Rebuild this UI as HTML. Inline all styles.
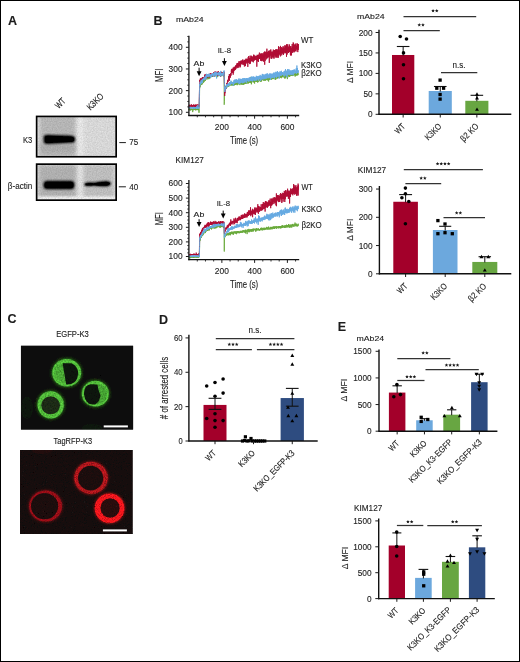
<!DOCTYPE html>
<html><head><meta charset="utf-8"><style>
html,body{margin:0;padding:0;background:#fff;}
body{width:520px;height:662px;overflow:hidden;}
.frame{position:absolute;left:0;top:0;width:518px;height:660px;border:1px solid #000;}
svg{position:absolute;left:0;top:0;will-change:transform;}
text{font-family:"Liberation Sans", sans-serif;fill:#1c1c1c;stroke:#1c1c1c;stroke-width:0.12px;}
</style></head><body>
<svg width="520" height="662" viewBox="0 0 520 662">
<text x="8.00" y="25.40" font-size="12.5" font-weight="bold" fill="#000">A</text>
<text x="153.40" y="25.30" font-size="12.5" font-weight="bold" fill="#000">B</text>
<text x="7.40" y="323.40" font-size="12.5" font-weight="bold" fill="#000">C</text>
<text x="159.10" y="323.70" font-size="12.5" font-weight="bold" fill="#000">D</text>
<text x="337.80" y="330.80" font-size="12.5" font-weight="bold" fill="#000">E</text>
<defs>
<filter id="bl1" x="-20%" y="-50%" width="140%" height="200%"><feGaussianBlur stdDeviation="1.1"/></filter>
<filter id="bl2" x="-20%" y="-20%" width="140%" height="140%"><feGaussianBlur stdDeviation="2.2"/></filter>
<filter id="bl05" x="-20%" y="-20%" width="140%" height="140%"><feGaussianBlur stdDeviation="0.55"/></filter>
<filter id="bl08" x="-20%" y="-20%" width="140%" height="140%"><feGaussianBlur stdDeviation="0.8"/></filter>
<filter id="grain" x="0" y="0" width="100%" height="100%"><feTurbulence type="fractalNoise" baseFrequency="0.9" numOctaves="2" seed="3"/><feColorMatrix type="matrix" values="0 0 0 0 0.5  0 0 0 0 0.5  0 0 0 0 0.5  0 0 0 0.35 0"/><feComposite in2="SourceGraphic" operator="in"/></filter>
<filter id="texB" x="0" y="0" width="1" height="1">
 <feTurbulence type="fractalNoise" baseFrequency="0.8" numOctaves="2" seed="12" result="n"/>
 <feColorMatrix in="n" type="matrix" values="1 0 0 0 0  1 0 0 0 0  1 0 0 0 0  0 0 0 0 1" result="n2"/>
 <feComposite in="SourceGraphic" in2="n2" operator="arithmetic" k1="0.45" k2="0.78" k3="0" k4="0"/>
</filter>
<clipPath id="blot1"><rect x="37.5" y="117.3" width="77.8" height="38.5"/></clipPath>
<clipPath id="blot2"><rect x="37.5" y="165" width="77.8" height="34.3"/></clipPath>
<linearGradient id="lane1" x1="0" y1="0" x2="0" y2="1"><stop offset="0" stop-color="#d2d2d2"/><stop offset="0.5" stop-color="#bdbdbd"/><stop offset="1" stop-color="#c9c9c9"/></linearGradient>
</defs>
<g clip-path="url(#blot1)"><g filter="url(#texB)">
<rect x="37.00" y="117.00" width="79.00" height="39.00" fill="#e6e6e6"/>
<rect x="39" y="114" width="37" height="46" fill="#b4b4b4" filter="url(#bl2)"/>
<rect x="40" y="144" width="35" height="8" fill="#a8a8a8" filter="url(#bl2)"/>
<rect x="83" y="114" width="34" height="46" fill="#d6d6d6" filter="url(#bl2)"/>
<path d="M43.6 136.5 Q44 134.6 48 134.8 L70 135.6 Q75 135.8 75.2 138.5 L75.2 140.5 Q75 143 70 142.8 L48 144 Q44 144.2 43.6 141.8Z" fill="#000" filter="url(#bl1)"/>
<path d="M45 137 Q45.5 135.8 48 135.8 L70 136.4 Q74 136.6 74 138.8 L74 140.3 Q74 142 70 142 L48 143 Q45.5 143.1 45 141.5Z" fill="#000"/>
</g></g>
<rect x="36.65" y="116.45" width="79.5" height="40.3" fill="none" stroke="#000" stroke-width="1.7"/>
<g clip-path="url(#blot2)"><g filter="url(#texB)">
<rect x="37.00" y="164.00" width="79.00" height="37.00" fill="#e4e4e4"/>
<rect x="38" y="164" width="39" height="35" fill="#aeaeae" filter="url(#bl2)"/>
<rect x="83" y="164" width="32" height="35" fill="#bcbcbc" filter="url(#bl2)"/>
<rect x="37" y="196.5" width="79" height="4" fill="#ececec" filter="url(#bl08)"/>
<rect x="43.5" y="180.8" width="31" height="8.4" rx="3.5" fill="#000" filter="url(#bl1)"/>
<rect x="44.5" y="181.8" width="29" height="6.4" rx="3" fill="#000"/>
<path d="M84.3 183.4 Q88 181.8 94 182.6 Q100 181.1 106 180.9 Q110.5 181.2 111 183.4 Q110.6 186 106 186.5 Q100 186.8 94 185.8 Q88 186.8 84.3 185.6Z" fill="#000" filter="url(#bl1)"/>
<path d="M85.5 183.6 Q89 182.6 94 183.2 Q100 182 106 181.8 Q109.6 182 110 183.6 Q109.6 185.4 106 185.8 Q100 185.9 94 185.2 Q89 185.8 85.5 185.2Z" fill="#000"/>
</g></g>
<rect x="36.65" y="164.15" width="79.5" height="36" fill="none" stroke="#000" stroke-width="1.7"/>
<text x="58.70" y="109.30" font-size="9.29" transform="rotate(-45 58.70 109.30)" textLength="10.8" lengthAdjust="spacingAndGlyphs">WT</text>
<text x="90.40" y="110.70" font-size="9.29" transform="rotate(-45 90.40 110.70)" textLength="19.6" lengthAdjust="spacingAndGlyphs">K3KO</text>
<text x="23.00" y="143.30" font-size="9.72" textLength="9.3" lengthAdjust="spacingAndGlyphs">K3</text>
<text x="7.80" y="189.00" font-size="9.72" textLength="24.4" lengthAdjust="spacingAndGlyphs">β-actin</text>
<line x1="119.30" y1="142.60" x2="125.90" y2="142.60" stroke="#1c1c1c" stroke-width="1.0"/>
<text x="129.30" y="145.30" font-size="9.29" textLength="9.0" lengthAdjust="spacingAndGlyphs">75</text>
<line x1="118.80" y1="186.80" x2="125.90" y2="186.80" stroke="#1c1c1c" stroke-width="1.0"/>
<text x="129.30" y="189.90" font-size="9.29" textLength="9.0" lengthAdjust="spacingAndGlyphs">40</text>
<polyline points="189.1,110.1 189.2,109.3 189.3,110.2 189.4,109.5 189.5,110.1 189.6,110.2 189.6,108.7 189.7,109.0 189.8,108.1 189.9,109.6 190.0,109.4 190.1,109.4 190.2,109.3 190.3,109.1 190.4,110.4 190.5,109.1 190.5,110.2 190.6,109.5 190.7,107.8 190.8,109.5 190.9,109.6 191.0,109.1 191.1,109.4 191.2,110.0 191.3,110.0 191.4,109.7 191.4,110.1 191.5,108.9 191.6,109.2 191.7,108.7 191.8,109.0 191.9,109.4 192.0,109.5 192.1,109.6 192.2,109.6 192.3,109.8 192.3,109.4 192.4,110.0 192.5,109.5 192.6,109.5 192.7,112.1 192.8,110.5 192.9,109.6 193.0,109.7 193.1,109.5 193.2,108.6 193.2,109.3 193.3,109.4 193.4,109.9 193.5,109.8 193.6,110.2 193.7,109.4 193.8,108.8 193.9,108.5 194.0,109.2 194.1,108.7 194.1,108.5 194.2,109.8 194.3,109.4 194.4,109.4 194.5,109.6 194.6,109.9 194.7,109.6 194.8,109.2 194.9,109.4 195.0,108.8 195.0,109.7 195.1,107.2 195.2,109.5 195.3,109.3 195.4,109.3 195.5,109.5 195.6,109.9 195.7,108.7 195.8,110.5 195.9,110.1 195.9,109.5 196.0,109.4 196.1,109.1 196.2,109.3 196.3,110.0 196.4,109.3 196.5,109.5 196.6,109.8 196.7,109.0 196.8,109.2 196.8,109.4 196.9,108.4 197.0,109.3 197.1,109.5 197.2,109.5 197.3,108.9 197.4,109.7 197.5,110.0 197.6,110.1 197.7,109.6 197.7,108.2 197.8,109.3 197.9,109.8 198.0,110.0 198.1,109.0 198.2,108.9 198.3,110.1 198.4,108.5 198.5,109.8 198.6,109.3 198.6,109.5 198.7,109.8 198.8,112.0 198.9,112.5 199.0,112.1 199.1,112.5 199.2,112.1 199.3,108.2 199.4,101.5 199.5,96.7 199.6,90.3 199.6,88.9 199.7,86.7 199.8,87.5 199.9,86.8 200.0,85.7 200.1,86.8 200.2,86.8 200.3,86.1 200.4,84.2 200.5,85.2 200.5,85.1 200.6,85.4 200.7,84.8 200.8,84.9 200.9,83.3 201.0,83.9 201.1,84.2 201.2,83.3 201.3,84.4 201.4,83.1 201.4,84.9 201.5,83.0 201.6,84.0 201.7,83.3 201.8,83.3 201.9,84.7 202.0,83.0 202.1,82.4 202.2,82.7 202.3,82.1 202.3,82.6 202.4,81.7 202.5,81.8 202.6,83.6 202.7,80.5 202.8,82.4 202.9,81.4 203.0,81.0 203.1,82.1 203.2,82.1 203.2,83.0 203.3,80.3 203.4,81.6 203.5,80.1 203.6,81.6 203.7,81.8 203.8,80.2 203.9,80.0 204.0,79.5 204.1,81.4 204.1,82.1 204.2,80.3 204.3,79.6 204.4,80.9 204.5,78.5 204.6,78.8 204.7,79.9 204.8,80.6 204.9,79.9 205.0,80.3 205.0,79.6 205.1,79.4 205.2,78.3 205.3,78.4 205.4,80.8 205.5,78.6 205.6,77.8 205.7,78.8 205.8,79.0 205.9,79.0 205.9,79.4 206.0,77.5 206.1,77.7 206.2,78.5 206.3,77.8 206.4,79.0 206.5,77.6 206.6,77.9 206.7,77.0 206.8,77.4 206.8,79.0 206.9,78.1 207.0,79.5 207.1,78.6 207.2,76.0 207.3,77.4 207.4,78.0 207.5,77.7 207.6,77.2 207.7,77.4 207.7,77.9 207.8,76.9 207.9,77.3 208.0,76.9 208.1,77.4 208.2,78.6 208.3,77.2 208.4,77.0 208.5,77.0 208.6,77.5 208.6,77.3 208.7,75.6 208.8,79.2 208.9,75.0 209.0,76.1 209.1,77.3 209.2,75.9 209.3,76.9 209.4,76.8 209.5,76.3 209.6,75.8 209.6,76.5 209.7,78.5 209.8,77.0 209.9,78.2 210.0,77.3 210.1,77.1 210.2,76.5 210.3,74.5 210.4,76.0 210.5,77.1 210.5,76.8 210.6,77.7 210.7,76.3 210.8,76.5 210.9,75.4 211.0,76.1 211.1,75.9 211.2,74.0 211.3,76.7 211.4,77.0 211.4,74.8 211.5,76.0 211.6,75.8 211.7,76.0 211.8,76.0 211.9,75.0 212.0,76.2 212.1,75.6 212.2,76.8 212.3,76.1 212.3,74.5 212.4,75.8 212.5,76.9 212.6,76.6 212.7,75.2 212.8,74.8 212.9,75.9 213.0,75.8 213.1,76.8 213.2,75.8 213.2,76.2 213.3,76.5 213.4,75.6 213.5,75.4 213.6,74.7 213.7,74.3 213.8,75.5 213.9,75.7 214.0,73.7 214.1,74.6 214.1,74.8 214.2,75.5 214.3,75.5 214.4,76.3 214.5,75.7 214.6,75.6 214.7,75.2 214.8,75.0 214.9,76.5 215.0,74.8 215.0,76.0 215.1,75.7 215.2,73.1 215.3,75.2 215.4,73.8 215.5,74.0 215.6,75.6 215.7,74.6 215.8,76.2 215.9,75.8 215.9,75.1 216.0,72.7 216.1,74.8 216.2,75.0 216.3,75.4 216.4,75.4 216.5,73.9 216.6,74.4 216.7,75.7 216.8,74.3 216.8,75.1 216.9,76.7 217.0,74.6 217.1,76.1 217.2,75.6 217.3,74.7 217.4,76.4 217.5,77.1 217.6,75.0 217.7,76.9 217.7,73.5 217.8,73.9 217.9,75.8 218.0,75.3 218.1,74.8 218.2,75.2 218.3,74.2 218.4,74.5 218.5,75.0 218.6,74.4 218.6,75.1 218.7,74.5 218.8,73.0 218.9,75.8 219.0,74.6 219.1,75.5 219.2,73.1 219.3,75.5 219.4,75.3 219.5,74.2 219.6,74.4 219.6,73.7 219.7,74.2 219.8,75.7 219.9,74.2 220.0,75.2 220.1,75.8 220.2,75.0 220.3,74.6 220.4,75.0 220.5,74.4 220.5,74.5 220.6,73.6 220.7,74.1 220.8,75.1 220.9,75.2 221.0,76.1 221.1,74.9 221.2,73.4 221.3,74.9 221.4,74.9 221.4,76.0 221.5,74.1 221.6,75.8 221.7,73.7 221.8,76.2 221.9,76.0 222.0,74.8 222.1,75.1 222.2,74.4 222.3,75.0 222.3,74.3 222.4,75.2 222.5,72.4 222.6,73.7 222.7,73.8 222.8,73.7 222.9,74.2 223.0,74.2 223.1,74.5 223.2,74.5 223.2,73.2 223.3,74.3 223.4,73.9 223.5,75.0 223.6,73.6 223.7,74.7 223.8,72.8 223.9,76.6 224.0,75.2 224.1,72.6 224.1,73.9 224.2,104.7 224.3,103.8 224.4,101.5 224.5,90.0 224.6,89.2 224.7,88.0 224.8,88.6 224.9,89.0 225.0,87.3 225.0,87.0 225.1,86.8 225.2,87.4 225.3,87.1 225.4,87.7 225.5,88.1 225.6,87.8 225.7,85.8 225.8,86.2 225.9,86.2 225.9,86.6 226.0,86.4 226.1,87.4 226.2,88.5 226.3,86.2 226.4,87.2 226.5,85.6 226.6,85.8 226.7,85.9 226.8,86.6 226.8,87.2 226.9,87.5 227.0,85.2 227.1,85.9 227.2,85.3 227.3,84.9 227.4,86.8 227.5,87.0 227.6,87.0 227.7,85.5 227.7,86.6 227.8,85.7 227.9,85.1 228.0,86.6 228.1,85.1 228.2,84.3 228.3,84.5 228.4,85.0 228.5,84.7 228.6,85.3 228.6,85.5 228.7,86.5 228.8,84.5 228.9,84.6 229.0,85.3 229.1,85.4 229.2,85.9 229.3,85.2 229.4,86.1 229.5,84.9 229.6,82.4 229.6,84.6 229.7,84.2 229.8,84.6 229.9,84.1 230.0,85.0 230.1,85.5 230.2,84.7 230.3,83.6 230.4,84.1 230.5,82.8 230.5,83.7 230.6,85.1 230.7,84.6 230.8,85.1 230.9,84.8 231.0,84.3 231.1,83.9 231.2,85.2 231.3,85.6 231.4,85.0 231.4,83.9 231.5,83.3 231.6,81.6 231.7,82.9 231.8,84.2 231.9,85.0 232.0,83.9 232.1,84.3 232.2,84.8 232.3,85.0 232.3,85.3 232.4,85.5 232.5,83.3 232.6,84.1 232.7,84.6 232.8,83.9 232.9,82.9 233.0,83.8 233.1,85.1 233.2,83.7 233.2,82.7 233.3,85.4 233.4,84.6 233.5,82.4 233.6,84.8 233.7,85.7 233.8,83.5 233.9,84.4 234.0,82.3 234.1,83.8 234.1,84.9 234.2,83.8 234.3,82.8 234.4,85.3 234.5,84.0 234.6,82.3 234.7,82.5 234.8,82.8 234.9,82.3 235.0,84.6 235.0,83.4 235.1,84.6 235.2,83.3 235.3,82.8 235.4,83.0 235.5,83.4 235.6,84.7 235.7,84.3 235.8,83.3 235.9,83.8 235.9,84.3 236.0,83.9 236.1,84.1 236.2,82.9 236.3,82.8 236.4,82.6 236.5,83.2 236.6,82.1 236.7,84.4 236.8,84.2 236.8,83.5 236.9,81.6 237.0,84.2 237.1,82.1 237.2,85.2 237.3,82.8 237.4,83.4 237.5,84.5 237.6,82.6 237.7,82.6 237.7,84.3 237.8,83.5 237.9,83.9 238.0,83.6 238.1,83.0 238.2,83.8 238.3,83.9 238.4,84.3 238.5,79.7 238.6,82.6 238.6,83.9 238.7,83.6 238.8,82.8 238.9,82.1 239.0,82.3 239.1,81.8 239.2,83.4 239.3,83.3 239.4,81.9 239.5,82.7 239.6,83.5 239.6,83.2 239.7,84.9 239.8,85.1 239.9,84.4 240.0,84.0 240.1,83.7 240.2,84.1 240.3,83.3 240.4,83.8 240.5,83.6 240.5,83.5 240.6,82.2 240.7,82.8 240.8,84.0 240.9,83.8 241.0,83.3 241.1,84.7 241.2,82.5 241.3,81.9 241.4,83.2 241.4,83.2 241.5,82.3 241.6,84.2 241.7,84.2 241.8,82.9 241.9,82.9 242.0,81.9 242.1,83.6 242.2,82.6 242.3,83.4 242.3,84.9 242.4,83.2 242.5,83.1 242.6,82.7 242.7,82.8 242.8,81.8 242.9,82.1 243.0,81.4 243.1,82.9 243.2,83.2 243.2,83.1 243.3,83.0 243.4,82.5 243.5,80.8 243.6,83.3 243.7,85.0 243.8,84.0 243.9,81.0 244.0,83.5 244.1,81.2 244.1,84.1 244.2,81.7 244.3,82.2 244.4,82.2 244.5,83.4 244.6,82.4 244.7,83.4 244.8,82.0 244.9,81.5 245.0,81.7 245.0,82.2 245.1,83.8 245.2,82.5 245.3,82.7 245.4,82.8 245.5,82.5 245.6,83.8 245.7,82.0 245.8,82.6 245.9,83.9 245.9,81.7 246.0,81.3 246.1,83.1 246.2,82.8 246.3,82.1 246.4,81.9 246.5,81.3 246.6,83.2 246.7,82.2 246.8,83.4 246.8,80.8 246.9,82.5 247.0,81.9 247.1,81.4 247.2,81.5 247.3,81.2 247.4,81.0 247.5,80.4 247.6,81.3 247.7,80.9 247.7,80.9 247.8,82.0 247.9,80.4 248.0,83.9 248.1,81.8 248.2,81.5 248.3,79.9 248.4,82.7 248.5,80.7 248.6,80.5 248.6,82.7 248.7,81.3 248.8,82.4 248.9,80.4 249.0,80.4 249.1,82.9 249.2,80.6 249.3,81.5 249.4,81.9 249.5,82.2 249.6,81.1 249.6,82.2 249.7,82.3 249.8,80.3 249.9,81.3 250.0,80.6 250.1,81.3 250.2,80.7 250.3,81.1 250.4,82.7 250.5,80.5 250.5,82.5 250.6,81.5 250.7,81.6 250.8,80.8 250.9,76.9 251.0,82.5 251.1,80.0 251.2,80.6 251.3,81.2 251.4,84.3 251.4,82.2 251.5,83.4 251.6,82.1 251.7,82.0 251.8,81.6 251.9,79.9 252.0,81.3 252.1,80.5 252.2,81.0 252.3,81.0 252.3,81.3 252.4,81.6 252.5,81.7 252.6,81.1 252.7,80.5 252.8,80.9 252.9,82.2 253.0,80.3 253.1,81.5 253.2,80.4 253.2,80.5 253.3,82.1 253.4,82.2 253.5,82.2 253.6,81.9 253.7,80.1 253.8,79.8 253.9,80.9 254.0,80.1 254.1,80.0 254.1,82.5 254.2,79.7 254.3,81.0 254.4,81.3 254.5,81.2 254.6,83.6 254.7,79.8 254.8,80.7 254.9,81.4 255.0,79.4 255.0,81.7 255.1,80.0 255.2,81.8 255.3,79.9 255.4,80.4 255.5,80.3 255.6,80.7 255.7,79.7 255.8,79.6 255.9,80.5 255.9,80.7 256.0,80.0 256.1,80.6 256.2,80.3 256.3,80.7 256.4,80.3 256.5,80.0 256.6,80.6 256.7,81.9 256.8,79.7 256.8,81.7 256.9,80.9 257.0,78.9 257.1,81.1 257.2,79.8 257.3,81.6 257.4,80.2 257.5,80.0 257.6,80.4 257.7,82.6 257.7,81.3 257.8,79.2 257.9,79.4 258.0,80.8 258.1,81.1 258.2,81.6 258.3,81.9 258.4,80.1 258.5,80.3 258.6,80.3 258.6,80.4 258.7,81.2 258.8,80.9 258.9,80.9 259.0,80.8 259.1,81.1 259.2,80.0 259.3,79.9 259.4,79.9 259.5,79.3 259.6,80.0 259.6,79.9 259.7,78.3 259.8,78.8 259.9,79.5 260.0,79.9 260.1,80.7 260.2,80.3 260.3,81.5 260.4,79.9 260.5,79.2 260.5,79.6 260.6,77.2 260.7,80.9 260.8,80.5 260.9,80.4 261.0,81.9 261.1,78.8 261.2,79.9 261.3,81.2 261.4,79.3 261.4,80.7 261.5,77.9 261.6,79.2 261.7,79.8 261.8,79.5 261.9,80.5 262.0,79.9 262.1,79.3 262.2,78.8 262.3,78.2 262.3,79.9 262.4,78.9 262.5,77.8 262.6,79.3 262.7,79.3 262.8,79.5 262.9,79.3 263.0,78.3 263.1,79.0 263.2,79.7 263.2,79.8 263.3,80.1 263.4,79.4 263.5,79.3 263.6,80.5 263.7,78.9 263.8,78.7 263.9,80.4 264.0,77.9 264.1,79.0 264.1,78.6 264.2,79.1 264.3,79.5 264.4,80.5 264.5,80.6 264.6,77.5 264.7,80.1 264.8,78.1 264.9,79.7 265.0,79.2 265.0,79.7 265.1,79.3 265.2,78.5 265.3,79.2 265.4,79.0 265.5,79.5 265.6,80.8 265.7,78.5 265.8,78.8 265.9,79.2 265.9,78.6 266.0,79.9 266.1,79.1 266.2,77.8 266.3,77.8 266.4,79.4 266.5,79.5 266.6,79.5 266.7,78.6 266.8,79.5 266.8,77.9 266.9,79.0 267.0,77.5 267.1,78.4 267.2,79.3 267.3,78.1 267.4,80.4 267.5,77.3 267.6,77.7 267.7,79.8 267.7,77.8 267.8,77.1 267.9,80.0 268.0,79.5 268.1,78.6 268.2,79.3 268.3,79.7 268.4,77.8 268.5,78.7 268.6,79.6 268.6,81.5 268.7,79.7 268.8,77.9 268.9,78.4 269.0,77.8 269.1,78.6 269.2,78.9 269.3,79.6 269.4,79.5 269.5,78.7 269.6,80.0 269.6,76.8 269.7,78.3 269.8,77.7 269.9,78.3 270.0,77.2 270.1,77.4 270.2,77.6 270.3,77.6 270.4,79.1 270.5,78.4 270.5,78.6 270.6,78.2 270.7,79.2 270.8,78.6 270.9,78.0 271.0,78.7 271.1,79.2 271.2,77.6 271.3,78.3 271.4,78.1 271.4,78.3 271.5,79.5 271.6,77.7 271.7,78.1 271.8,79.2 271.9,79.4 272.0,77.5 272.1,77.8 272.2,78.6 272.3,77.2 272.3,77.0 272.4,78.4 272.5,78.6 272.6,77.6 272.7,78.6 272.8,77.3 272.9,78.8 273.0,77.5 273.1,77.0 273.2,77.5 273.2,77.8 273.3,77.5 273.4,78.5 273.5,77.8 273.6,77.0 273.7,75.2 273.8,78.6 273.9,76.9 274.0,78.7 274.1,78.5 274.1,79.2 274.2,77.9 274.3,77.7 274.4,77.0 274.5,77.1 274.6,78.4 274.7,75.5 274.8,76.4 274.9,78.3 275.0,76.2 275.0,76.2 275.1,77.1 275.2,79.5 275.3,78.2 275.4,76.2 275.5,76.2 275.6,78.6 275.7,79.8 275.8,77.3 275.9,78.4 275.9,78.4 276.0,77.2 276.1,77.5 276.2,77.8 276.3,78.0 276.4,78.3 276.5,78.2 276.6,75.4 276.7,77.1 276.8,76.5 276.8,76.1 276.9,76.1 277.0,78.1 277.1,76.9 277.2,78.6 277.3,77.2 277.4,76.1 277.5,76.4 277.6,77.0 277.7,76.4 277.7,78.1 277.8,77.7 277.9,76.7 278.0,77.8 278.1,76.4 278.2,77.2 278.3,77.2 278.4,75.7 278.5,75.6 278.6,76.4 278.6,78.1 278.7,76.5 278.8,76.2 278.9,77.5 279.0,77.0 279.1,77.4 279.2,75.7 279.3,76.7 279.4,77.2 279.5,76.5 279.6,76.8 279.6,77.3 279.7,76.5 279.8,75.8 279.9,76.7 280.0,78.0 280.1,77.1 280.2,77.6 280.3,77.2 280.4,75.1 280.5,76.8 280.5,76.6 280.6,76.9 280.7,76.1 280.8,76.8 280.9,76.0 281.0,76.3 281.1,77.0 281.2,77.5 281.3,77.3 281.4,77.7 281.4,78.2 281.5,74.7 281.6,75.9 281.7,76.5 281.8,75.6 281.9,75.6 282.0,76.9 282.1,76.3 282.2,74.4 282.3,76.7 282.3,76.7 282.4,76.8 282.5,76.6 282.6,76.2 282.7,76.6 282.8,75.3 282.9,76.2 283.0,75.4 283.1,77.5 283.2,76.9 283.2,76.4 283.3,76.9 283.4,76.3 283.5,76.6 283.6,76.2 283.7,75.1 283.8,76.4 283.9,76.9 284.0,75.0 284.1,74.3 284.1,76.8 284.2,75.2 284.3,76.0 284.4,77.0 284.5,76.9 284.6,78.3 284.7,76.4 284.8,74.6 284.9,77.7 285.0,75.4 285.0,77.2 285.1,78.5 285.2,77.6 285.3,76.5 285.4,75.6 285.5,77.4 285.6,74.8 285.7,76.9 285.8,74.9 285.9,77.1 285.9,77.5 286.0,75.6 286.1,74.9 286.2,75.3 286.3,74.6 286.4,76.8 286.5,76.3 286.6,74.8 286.7,75.4 286.8,75.1 286.8,75.6 286.9,76.7 287.0,75.7 287.1,74.9 287.2,74.7 287.3,73.6 287.4,79.1 287.5,75.3 287.6,72.9 287.7,77.5 287.7,76.4 287.8,75.3 287.9,75.7 288.0,76.0 288.1,75.3 288.2,76.2 288.3,75.5 288.4,74.5 288.5,74.3 288.6,75.4 288.6,74.1 288.7,74.5 288.8,76.3 288.9,75.0 289.0,75.6 289.1,75.6 289.2,76.7 289.3,76.0 289.4,75.7 289.5,76.8 289.6,74.8 289.6,75.4 289.7,75.4 289.8,74.1 289.9,75.8 290.0,75.5 290.1,75.5 290.2,75.9 290.3,75.7 290.4,74.7 290.5,75.1 290.5,76.2 290.6,74.7 290.7,74.3 290.8,74.9 290.9,74.2 291.0,74.9 291.1,74.9 291.2,75.0 291.3,74.3 291.4,75.2 291.4,75.3 291.5,75.6 291.6,74.3 291.7,74.1 291.8,75.5 291.9,75.3 292.0,75.5 292.1,76.0 292.2,76.0 292.3,74.7 292.3,74.2 292.4,75.2 292.5,75.1 292.6,75.6 292.7,73.8 292.8,74.8 292.9,74.4 293.0,76.0 293.1,75.6 293.2,74.2 293.2,74.0 293.3,74.5 293.4,74.6 293.5,74.5 293.6,74.7 293.7,74.4 293.8,74.1 293.9,74.5 294.0,74.8 294.1,74.4 294.1,74.1 294.2,74.0 294.3,73.4 294.4,75.1 294.5,74.9 294.6,73.3 294.7,74.6 294.8,75.2 294.9,73.7 295.0,73.8 295.0,73.7 295.1,76.5 295.2,75.2 295.3,75.4 295.4,72.8 295.5,76.1 295.6,74.6 295.7,73.5 295.8,74.2 295.9,75.0 295.9,74.3 296.0,75.6 296.1,72.9 296.2,73.4 296.3,75.1 296.4,74.2 296.5,73.4 296.6,72.9 296.7,74.0 296.8,75.5 296.8,74.2 296.9,73.6 297.0,73.4 297.1,74.4 297.2,74.6 297.3,72.0 297.4,74.0 297.5,74.8 297.6,74.3 297.7,74.0 297.7,75.4 297.8,73.8 297.9,74.5 298.0,74.3 298.1,73.2 298.2,73.7 298.3,74.5 298.4,74.6" fill="none" stroke="#6aaa3c" stroke-width="0.9" stroke-linejoin="round"/>
<polyline points="189.1,106.7 189.2,105.6 189.3,105.2 189.4,105.8 189.5,106.1 189.6,106.6 189.6,105.4 189.7,105.2 189.8,104.7 189.9,105.4 190.0,106.1 190.1,107.0 190.2,106.0 190.3,106.2 190.4,106.7 190.5,105.5 190.5,105.2 190.6,106.4 190.7,106.5 190.8,106.1 190.9,106.2 191.0,106.4 191.1,106.0 191.2,106.0 191.3,105.9 191.4,104.3 191.4,106.0 191.5,105.3 191.6,106.8 191.7,106.3 191.8,105.7 191.9,105.9 192.0,105.4 192.1,105.7 192.2,105.8 192.3,105.5 192.3,106.7 192.4,105.8 192.5,106.2 192.6,105.4 192.7,105.5 192.8,106.2 192.9,106.2 193.0,105.9 193.1,107.0 193.2,106.8 193.2,105.3 193.3,104.8 193.4,105.3 193.5,105.4 193.6,104.6 193.7,106.4 193.8,105.0 193.9,105.0 194.0,106.4 194.1,105.0 194.1,106.7 194.2,105.5 194.3,105.2 194.4,106.5 194.5,105.9 194.6,107.7 194.7,105.3 194.8,106.2 194.9,105.0 195.0,105.9 195.0,104.7 195.1,106.1 195.2,104.9 195.3,106.5 195.4,106.5 195.5,106.9 195.6,105.4 195.7,107.1 195.8,105.6 195.9,106.4 195.9,106.4 196.0,104.4 196.1,106.0 196.2,106.0 196.3,106.2 196.4,105.5 196.5,105.9 196.6,106.1 196.7,106.2 196.8,106.8 196.8,105.9 196.9,105.7 197.0,105.4 197.1,104.9 197.2,105.2 197.3,104.4 197.4,106.0 197.5,106.3 197.6,105.3 197.7,106.1 197.7,106.8 197.8,105.8 197.9,104.7 198.0,105.5 198.1,105.6 198.2,106.6 198.3,105.1 198.4,105.3 198.5,104.7 198.6,105.7 198.6,105.4 198.7,105.1 198.8,106.5 198.9,105.8 199.0,106.4 199.1,106.0 199.2,101.5 199.3,97.0 199.4,93.3 199.5,89.5 199.6,84.1 199.6,82.7 199.7,79.9 199.8,82.4 199.9,81.3 200.0,81.9 200.1,80.2 200.2,82.4 200.3,78.7 200.4,81.3 200.5,81.7 200.5,78.7 200.6,81.0 200.7,80.7 200.8,79.8 200.9,78.5 201.0,80.1 201.1,81.5 201.2,80.9 201.3,79.0 201.4,79.3 201.4,79.8 201.5,80.0 201.6,78.7 201.7,79.4 201.8,79.6 201.9,78.4 202.0,77.8 202.1,78.2 202.2,80.8 202.3,79.4 202.3,78.7 202.4,78.8 202.5,77.7 202.6,78.5 202.7,78.8 202.8,77.1 202.9,79.3 203.0,77.0 203.1,78.6 203.2,79.1 203.2,79.1 203.3,77.2 203.4,79.8 203.5,78.2 203.6,77.7 203.7,77.3 203.8,77.9 203.9,77.2 204.0,77.1 204.1,78.6 204.1,77.2 204.2,79.1 204.3,78.5 204.4,78.7 204.5,75.5 204.6,76.4 204.7,76.9 204.8,76.4 204.9,78.5 205.0,78.9 205.0,74.3 205.1,78.0 205.2,76.9 205.3,77.1 205.4,75.9 205.5,74.6 205.6,78.1 205.7,78.3 205.8,78.3 205.9,78.2 205.9,78.0 206.0,75.0 206.1,76.6 206.2,78.4 206.3,76.9 206.4,75.7 206.5,75.2 206.6,76.1 206.7,77.0 206.8,75.9 206.8,75.4 206.9,75.4 207.0,74.4 207.1,77.2 207.2,75.9 207.3,75.4 207.4,76.3 207.5,77.5 207.6,75.7 207.7,76.4 207.7,74.9 207.8,76.2 207.9,76.5 208.0,77.3 208.1,75.5 208.2,75.1 208.3,74.6 208.4,76.8 208.5,75.1 208.6,75.2 208.6,76.8 208.7,74.8 208.8,75.0 208.9,76.2 209.0,75.5 209.1,75.2 209.2,75.8 209.3,74.6 209.4,74.7 209.5,76.4 209.6,74.8 209.6,77.1 209.7,76.0 209.8,74.0 209.9,75.1 210.0,77.3 210.1,75.7 210.2,73.2 210.3,73.0 210.4,74.3 210.5,74.2 210.5,75.1 210.6,74.0 210.7,76.0 210.8,75.0 210.9,74.0 211.0,74.6 211.1,75.7 211.2,73.5 211.3,74.6 211.4,75.1 211.4,75.4 211.5,74.7 211.6,76.6 211.7,74.3 211.8,76.2 211.9,75.3 212.0,74.6 212.1,75.5 212.2,74.5 212.3,74.4 212.3,73.5 212.4,73.8 212.5,75.7 212.6,75.0 212.7,73.7 212.8,75.0 212.9,74.1 213.0,74.6 213.1,75.3 213.2,75.8 213.2,74.0 213.3,74.5 213.4,73.7 213.5,75.8 213.6,76.5 213.7,73.4 213.8,72.1 213.9,74.8 214.0,74.0 214.1,73.5 214.1,76.5 214.2,73.9 214.3,74.8 214.4,75.3 214.5,72.1 214.6,74.4 214.7,73.6 214.8,73.1 214.9,73.8 215.0,73.1 215.0,75.6 215.1,71.3 215.2,75.1 215.3,73.6 215.4,72.7 215.5,74.9 215.6,74.7 215.7,74.2 215.8,73.6 215.9,73.3 215.9,73.5 216.0,74.4 216.1,75.3 216.2,75.0 216.3,72.7 216.4,74.1 216.5,74.2 216.6,72.6 216.7,74.0 216.8,73.5 216.8,71.8 216.9,74.6 217.0,71.9 217.1,73.4 217.2,75.9 217.3,73.0 217.4,73.7 217.5,73.9 217.6,74.1 217.7,73.1 217.7,73.1 217.8,75.0 217.9,74.4 218.0,72.0 218.1,75.2 218.2,71.4 218.3,74.0 218.4,71.5 218.5,72.6 218.6,72.7 218.6,73.9 218.7,76.0 218.8,76.0 218.9,72.3 219.0,73.1 219.1,73.2 219.2,73.8 219.3,74.2 219.4,73.1 219.5,72.7 219.6,72.5 219.6,75.2 219.7,74.0 219.8,73.4 219.9,74.2 220.0,74.1 220.1,75.0 220.2,73.2 220.3,72.9 220.4,73.6 220.5,73.5 220.5,76.6 220.6,74.0 220.7,73.4 220.8,74.0 220.9,72.8 221.0,72.7 221.1,73.5 221.2,74.2 221.3,73.2 221.4,73.7 221.4,73.7 221.5,71.8 221.6,73.0 221.7,72.6 221.8,73.4 221.9,73.0 222.0,72.6 222.1,72.3 222.2,74.2 222.3,74.8 222.3,74.8 222.4,73.6 222.5,74.5 222.6,73.2 222.7,73.5 222.8,73.6 222.9,73.4 223.0,75.0 223.1,75.1 223.2,75.6 223.2,73.4 223.3,75.1 223.4,73.2 223.5,74.0 223.6,72.3 223.7,73.5 223.8,72.3 223.9,72.3 224.0,73.4 224.1,71.6 224.1,73.8 224.2,76.6 224.3,81.2 224.4,83.0 224.5,87.9 224.6,89.6 224.7,96.0 224.8,92.0 224.9,90.7 225.0,93.2 225.0,92.2 225.1,90.2 225.2,88.6 225.3,90.6 225.4,88.6 225.5,90.0 225.6,88.4 225.7,87.5 225.8,88.0 225.9,88.8 225.9,87.9 226.0,87.3 226.1,88.5 226.2,86.1 226.3,87.4 226.4,87.7 226.5,87.1 226.6,85.8 226.7,84.4 226.8,83.3 226.8,85.0 226.9,84.8 227.0,83.1 227.1,83.6 227.2,84.7 227.3,82.5 227.4,81.8 227.5,82.1 227.6,82.6 227.7,82.6 227.7,80.3 227.8,82.0 227.9,81.6 228.0,80.0 228.1,81.5 228.2,80.2 228.3,78.9 228.4,79.9 228.5,79.6 228.6,76.2 228.6,78.2 228.7,76.8 228.8,77.8 228.9,77.9 229.0,79.5 229.1,77.7 229.2,77.4 229.3,74.2 229.4,78.6 229.5,80.7 229.6,76.2 229.6,74.0 229.7,76.9 229.8,75.1 229.9,76.1 230.0,74.2 230.1,76.8 230.2,77.9 230.3,74.4 230.4,76.5 230.5,76.4 230.5,74.3 230.6,74.6 230.7,73.1 230.8,74.8 230.9,74.4 231.0,75.7 231.1,73.9 231.2,73.3 231.3,72.0 231.4,69.7 231.4,72.0 231.5,70.9 231.6,73.3 231.7,69.5 231.8,72.3 231.9,69.2 232.0,72.7 232.1,71.7 232.2,68.7 232.3,71.1 232.3,71.5 232.4,72.4 232.5,72.7 232.6,70.4 232.7,69.4 232.8,69.3 232.9,70.6 233.0,71.6 233.1,71.5 233.2,68.4 233.2,74.7 233.3,67.4 233.4,67.9 233.5,69.2 233.6,72.6 233.7,70.1 233.8,70.1 233.9,71.0 234.0,69.6 234.1,68.5 234.1,68.9 234.2,68.6 234.3,66.7 234.4,70.4 234.5,68.3 234.6,69.1 234.7,67.0 234.8,68.7 234.9,70.1 235.0,69.2 235.0,68.4 235.1,67.4 235.2,69.1 235.3,67.5 235.4,69.4 235.5,65.4 235.6,69.4 235.7,66.5 235.8,68.0 235.9,69.0 235.9,68.3 236.0,67.6 236.1,67.1 236.2,67.9 236.3,66.6 236.4,67.0 236.5,65.4 236.6,66.8 236.7,64.5 236.8,65.7 236.8,67.1 236.9,66.3 237.0,66.2 237.1,63.2 237.2,65.6 237.3,65.4 237.4,63.0 237.5,64.7 237.6,66.9 237.7,64.5 237.7,68.1 237.8,64.0 237.9,63.6 238.0,64.8 238.1,63.8 238.2,66.2 238.3,62.9 238.4,62.7 238.5,65.8 238.6,66.2 238.6,65.4 238.7,63.8 238.8,67.7 238.9,63.7 239.0,61.4 239.1,61.0 239.2,64.7 239.3,66.2 239.4,62.6 239.5,63.1 239.6,66.2 239.6,63.5 239.7,65.7 239.8,63.0 239.9,65.3 240.0,62.6 240.1,61.3 240.2,63.7 240.3,67.3 240.4,65.7 240.5,62.3 240.5,65.8 240.6,64.5 240.7,65.1 240.8,60.7 240.9,61.7 241.0,63.3 241.1,61.1 241.2,61.8 241.3,62.4 241.4,61.4 241.4,62.3 241.5,64.1 241.6,60.5 241.7,62.2 241.8,63.3 241.9,61.6 242.0,64.2 242.1,62.5 242.2,62.3 242.3,62.1 242.3,62.1 242.4,63.3 242.5,60.3 242.6,62.5 242.7,60.8 242.8,59.4 242.9,61.4 243.0,64.9 243.1,63.2 243.2,62.5 243.2,63.0 243.3,61.9 243.4,60.8 243.5,61.9 243.6,62.4 243.7,64.0 243.8,61.8 243.9,64.8 244.0,61.7 244.1,60.5 244.1,61.9 244.2,60.7 244.3,62.2 244.4,66.5 244.5,60.2 244.6,62.3 244.7,60.7 244.8,60.0 244.9,59.8 245.0,63.2 245.0,63.3 245.1,61.6 245.2,60.5 245.3,59.9 245.4,61.6 245.5,66.1 245.6,61.9 245.7,60.5 245.8,62.6 245.9,58.7 245.9,61.8 246.0,60.3 246.1,62.3 246.2,63.5 246.3,59.5 246.4,59.8 246.5,61.1 246.6,60.1 246.7,60.1 246.8,59.1 246.8,58.8 246.9,58.9 247.0,63.0 247.1,63.2 247.2,60.7 247.3,59.5 247.4,60.5 247.5,61.4 247.6,60.5 247.7,61.0 247.7,59.1 247.8,66.9 247.9,60.5 248.0,59.2 248.1,57.3 248.2,58.6 248.3,58.0 248.4,58.1 248.5,62.6 248.6,56.1 248.6,56.2 248.7,59.6 248.8,59.2 248.9,62.8 249.0,60.0 249.1,61.7 249.2,60.4 249.3,58.8 249.4,58.5 249.5,59.2 249.6,60.8 249.6,58.1 249.7,64.1 249.8,60.0 249.9,60.1 250.0,57.0 250.1,55.7 250.2,61.2 250.3,61.4 250.4,57.8 250.5,63.6 250.5,60.2 250.6,58.8 250.7,61.0 250.8,59.1 250.9,61.5 251.0,61.1 251.1,59.9 251.2,55.7 251.3,61.2 251.4,58.8 251.4,56.7 251.5,60.9 251.6,59.9 251.7,60.6 251.8,59.3 251.9,56.4 252.0,57.5 252.1,58.6 252.2,60.1 252.3,58.9 252.3,57.4 252.4,58.2 252.5,61.5 252.6,60.0 252.7,57.6 252.8,57.8 252.9,60.3 253.0,56.4 253.1,59.9 253.2,58.9 253.2,57.2 253.3,61.8 253.4,62.3 253.5,56.6 253.6,54.7 253.7,59.8 253.8,57.5 253.9,57.2 254.0,60.6 254.1,54.9 254.1,58.5 254.2,57.2 254.3,60.4 254.4,58.0 254.5,56.4 254.6,58.2 254.7,59.8 254.8,59.3 254.9,59.3 255.0,56.8 255.0,58.4 255.1,56.8 255.2,57.3 255.3,55.8 255.4,58.1 255.5,56.9 255.6,56.6 255.7,59.8 255.8,58.2 255.9,59.6 255.9,58.6 256.0,58.2 256.1,59.2 256.2,58.1 256.3,60.2 256.4,58.0 256.5,55.9 256.6,56.2 256.7,57.0 256.8,56.5 256.8,66.7 256.9,58.8 257.0,56.1 257.1,56.5 257.2,54.8 257.3,58.7 257.4,56.8 257.5,57.2 257.6,58.5 257.7,56.4 257.7,61.1 257.8,55.0 257.9,56.7 258.0,55.2 258.1,57.3 258.2,61.5 258.3,57.9 258.4,61.9 258.5,56.2 258.6,54.6 258.6,57.2 258.7,58.6 258.8,56.7 258.9,58.7 259.0,57.8 259.1,58.7 259.2,56.1 259.3,54.5 259.4,52.6 259.5,58.9 259.6,56.5 259.6,57.1 259.7,56.5 259.8,57.6 259.9,58.6 260.0,58.6 260.1,58.6 260.2,56.7 260.3,54.2 260.4,55.0 260.5,57.2 260.5,56.0 260.6,60.8 260.7,54.9 260.8,53.8 260.9,56.0 261.0,53.4 261.1,54.3 261.2,56.2 261.3,57.5 261.4,56.4 261.4,54.3 261.5,55.7 261.6,61.1 261.7,55.3 261.8,58.4 261.9,56.2 262.0,53.2 262.1,56.3 262.2,61.1 262.3,57.6 262.3,56.3 262.4,54.9 262.5,55.6 262.6,59.8 262.7,59.1 262.8,53.6 262.9,56.8 263.0,57.1 263.1,58.2 263.2,54.7 263.2,55.1 263.3,56.0 263.4,55.1 263.5,61.6 263.6,56.0 263.7,54.3 263.8,52.4 263.9,53.3 264.0,56.7 264.1,53.6 264.1,57.9 264.2,56.1 264.3,55.4 264.4,58.3 264.5,51.6 264.6,56.1 264.7,64.7 264.8,54.5 264.9,56.1 265.0,57.4 265.0,51.9 265.1,56.6 265.2,60.8 265.3,56.4 265.4,54.9 265.5,56.3 265.6,53.7 265.7,54.6 265.8,53.9 265.9,55.8 265.9,51.8 266.0,53.2 266.1,51.8 266.2,59.4 266.3,58.3 266.4,53.1 266.5,58.0 266.6,54.5 266.7,56.3 266.8,57.7 266.8,55.9 266.9,48.7 267.0,58.5 267.1,53.9 267.2,55.1 267.3,56.4 267.4,57.3 267.5,53.4 267.6,56.3 267.7,57.2 267.7,53.7 267.8,51.8 267.9,54.6 268.0,51.9 268.1,57.6 268.2,54.6 268.3,54.0 268.4,54.9 268.5,51.1 268.6,54.1 268.6,55.7 268.7,52.7 268.8,57.0 268.9,54.1 269.0,50.6 269.1,55.0 269.2,52.1 269.3,62.9 269.4,55.7 269.5,53.7 269.6,56.4 269.6,54.5 269.7,54.2 269.8,50.5 269.9,56.3 270.0,55.7 270.1,55.8 270.2,52.2 270.3,55.2 270.4,53.9 270.5,53.5 270.5,53.9 270.6,50.5 270.7,51.4 270.8,49.4 270.9,53.6 271.0,55.8 271.1,58.3 271.2,53.3 271.3,58.9 271.4,54.1 271.4,54.8 271.5,54.3 271.6,53.0 271.7,52.1 271.8,52.0 271.9,53.3 272.0,51.4 272.1,55.9 272.2,57.1 272.3,56.1 272.3,51.8 272.4,52.8 272.5,53.2 272.6,54.4 272.7,55.4 272.8,53.0 272.9,53.0 273.0,58.4 273.1,52.8 273.2,57.3 273.2,55.7 273.3,49.6 273.4,54.5 273.5,52.9 273.6,54.4 273.7,55.2 273.8,56.9 273.9,50.7 274.0,52.4 274.1,51.5 274.1,58.6 274.2,53.4 274.3,52.1 274.4,55.0 274.5,50.0 274.6,53.2 274.7,50.9 274.8,52.1 274.9,51.7 275.0,51.6 275.0,52.3 275.1,55.4 275.2,53.6 275.3,56.1 275.4,54.0 275.5,51.2 275.6,49.6 275.7,57.5 275.8,56.7 275.9,56.8 275.9,50.6 276.0,51.4 276.1,53.6 276.2,49.1 276.3,53.2 276.4,56.8 276.5,52.2 276.6,51.6 276.7,49.7 276.8,56.9 276.8,54.3 276.9,50.7 277.0,58.0 277.1,54.5 277.2,50.9 277.3,51.1 277.4,54.0 277.5,52.5 277.6,54.0 277.7,54.9 277.7,50.3 277.8,49.6 277.9,55.4 278.0,56.4 278.1,52.3 278.2,49.1 278.3,57.8 278.4,50.3 278.5,46.3 278.6,47.5 278.6,53.7 278.7,55.8 278.8,50.9 278.9,51.4 279.0,50.5 279.1,46.9 279.2,49.9 279.3,50.3 279.4,49.8 279.5,54.6 279.6,53.1 279.6,52.8 279.7,51.8 279.8,51.4 279.9,51.7 280.0,53.9 280.1,50.9 280.2,49.8 280.3,50.7 280.4,56.4 280.5,51.8 280.5,45.9 280.6,52.5 280.7,51.8 280.8,53.5 280.9,50.9 281.0,52.2 281.1,51.6 281.2,52.9 281.3,51.1 281.4,47.2 281.4,51.5 281.5,47.8 281.6,48.5 281.7,55.4 281.8,50.0 281.9,51.5 282.0,49.9 282.1,52.7 282.2,52.5 282.3,53.7 282.3,50.4 282.4,52.9 282.5,50.6 282.6,49.0 282.7,48.2 282.8,53.2 282.9,46.4 283.0,51.8 283.1,49.4 283.2,52.5 283.2,51.7 283.3,49.5 283.4,55.0 283.5,53.3 283.6,54.0 283.7,52.9 283.8,46.5 283.9,53.2 284.0,48.2 284.1,52.2 284.1,52.0 284.2,51.0 284.3,51.8 284.4,50.6 284.5,50.0 284.6,48.5 284.7,49.5 284.8,48.2 284.9,50.2 285.0,45.1 285.0,53.2 285.1,53.3 285.2,45.8 285.3,49.8 285.4,52.9 285.5,47.8 285.6,46.5 285.7,51.5 285.8,52.5 285.9,51.4 285.9,48.2 286.0,46.4 286.1,52.0 286.2,48.9 286.3,51.6 286.4,52.5 286.5,56.8 286.6,50.8 286.7,44.1 286.8,52.8 286.8,45.0 286.9,49.9 287.0,45.7 287.1,51.9 287.2,54.5 287.3,50.3 287.4,49.0 287.5,47.8 287.6,48.1 287.7,49.8 287.7,51.6 287.8,44.2 287.9,47.1 288.0,46.4 288.1,48.7 288.2,48.6 288.3,52.2 288.4,46.9 288.5,53.0 288.6,50.9 288.6,49.2 288.7,51.2 288.8,52.3 288.9,51.2 289.0,48.3 289.1,48.8 289.2,47.2 289.3,48.5 289.4,45.2 289.5,44.5 289.6,52.0 289.6,47.3 289.7,49.5 289.8,46.3 289.9,49.8 290.0,46.3 290.1,48.2 290.2,49.8 290.3,47.6 290.4,54.7 290.5,50.5 290.5,52.0 290.6,55.5 290.7,53.7 290.8,50.0 290.9,46.0 291.0,50.0 291.1,48.2 291.2,50.4 291.3,48.7 291.4,47.8 291.4,50.1 291.5,55.4 291.6,50.9 291.7,51.1 291.8,48.8 291.9,50.2 292.0,52.4 292.1,48.0 292.2,44.0 292.3,48.8 292.3,48.8 292.4,50.8 292.5,50.7 292.6,46.8 292.7,52.9 292.8,51.1 292.9,47.5 293.0,46.5 293.1,46.5 293.2,51.1 293.2,42.4 293.3,51.4 293.4,44.4 293.5,48.9 293.6,43.3 293.7,50.6 293.8,50.5 293.9,49.3 294.0,49.3 294.1,51.6 294.1,47.7 294.2,52.3 294.3,46.5 294.4,48.7 294.5,44.5 294.6,49.3 294.7,50.6 294.8,47.9 294.9,50.9 295.0,50.8 295.0,48.2 295.1,50.8 295.2,45.2 295.3,51.0 295.4,46.2 295.5,44.9 295.6,47.9 295.7,43.6 295.8,46.6 295.9,47.8 295.9,47.8 296.0,51.6 296.1,48.8 296.2,47.1 296.3,47.2 296.4,45.7 296.5,47.0 296.6,48.7 296.7,48.9 296.8,46.7 296.8,49.5 296.9,46.2 297.0,45.4 297.1,43.3 297.2,47.7 297.3,49.6 297.4,43.8 297.5,47.4 297.6,48.4 297.7,49.7 297.7,47.8 297.8,52.1 297.9,44.3 298.0,44.5 298.1,50.0 298.2,48.3 298.3,44.0 298.4,48.4" fill="none" stroke="#b00c34" stroke-width="0.9" stroke-linejoin="round"/>
<polyline points="189.1,107.8 189.2,106.9 189.3,107.6 189.4,107.4 189.5,107.8 189.6,108.1 189.6,107.9 189.7,107.2 189.8,107.3 189.9,107.7 190.0,107.4 190.1,108.7 190.2,106.8 190.3,108.1 190.4,108.7 190.5,107.7 190.5,108.2 190.6,107.3 190.7,107.3 190.8,108.7 190.9,108.7 191.0,108.1 191.1,108.1 191.2,107.6 191.3,107.8 191.4,107.1 191.4,107.3 191.5,107.3 191.6,107.6 191.7,107.2 191.8,107.2 191.9,107.9 192.0,107.4 192.1,107.7 192.2,108.0 192.3,108.0 192.3,107.0 192.4,108.4 192.5,108.4 192.6,107.1 192.7,108.5 192.8,108.3 192.9,108.4 193.0,108.1 193.1,108.0 193.2,107.3 193.2,107.4 193.3,107.5 193.4,108.4 193.5,108.0 193.6,106.9 193.7,107.5 193.8,107.8 193.9,107.0 194.0,107.4 194.1,106.9 194.1,108.8 194.2,108.0 194.3,107.6 194.4,108.3 194.5,107.4 194.6,107.3 194.7,108.1 194.8,107.6 194.9,108.5 195.0,107.4 195.0,108.0 195.1,107.7 195.2,108.0 195.3,108.2 195.4,107.9 195.5,107.6 195.6,107.6 195.7,107.6 195.8,108.0 195.9,107.0 195.9,107.2 196.0,107.4 196.1,108.2 196.2,107.5 196.3,107.4 196.4,107.6 196.5,106.7 196.6,108.5 196.7,106.6 196.8,107.0 196.8,107.7 196.9,107.9 197.0,107.7 197.1,106.7 197.2,107.9 197.3,107.6 197.4,108.8 197.5,108.7 197.6,108.0 197.7,107.5 197.7,108.7 197.8,105.1 197.9,106.7 198.0,107.8 198.1,107.3 198.2,108.6 198.3,107.4 198.4,107.4 198.5,107.9 198.6,108.1 198.6,107.8 198.7,107.3 198.8,107.2 198.9,107.9 199.0,107.4 199.1,108.3 199.2,101.9 199.3,98.9 199.4,94.1 199.5,90.1 199.6,88.0 199.6,84.5 199.7,85.5 199.8,84.1 199.9,84.0 200.0,85.2 200.1,81.7 200.2,83.2 200.3,83.2 200.4,82.9 200.5,83.1 200.5,81.8 200.6,82.9 200.7,82.6 200.8,82.8 200.9,81.8 201.0,84.1 201.1,81.1 201.2,80.0 201.3,83.0 201.4,82.3 201.4,83.0 201.5,81.5 201.6,80.8 201.7,79.9 201.8,80.6 201.9,80.7 202.0,82.8 202.1,82.0 202.2,80.6 202.3,82.8 202.3,79.6 202.4,79.1 202.5,81.0 202.6,81.1 202.7,79.9 202.8,78.9 202.9,79.9 203.0,79.7 203.1,80.0 203.2,79.9 203.2,78.7 203.3,78.6 203.4,79.6 203.5,78.8 203.6,78.8 203.7,79.5 203.8,80.1 203.9,78.7 204.0,77.5 204.1,79.1 204.1,80.1 204.2,78.4 204.3,78.2 204.4,80.1 204.5,78.5 204.6,79.2 204.7,77.7 204.8,79.2 204.9,78.6 205.0,78.1 205.0,78.3 205.1,76.3 205.2,79.7 205.3,77.6 205.4,76.8 205.5,76.4 205.6,76.6 205.7,77.6 205.8,78.1 205.9,75.3 205.9,77.3 206.0,76.7 206.1,78.9 206.2,77.1 206.3,77.0 206.4,73.8 206.5,75.3 206.6,76.7 206.7,76.4 206.8,77.1 206.8,76.6 206.9,76.0 207.0,76.0 207.1,75.0 207.2,77.1 207.3,75.7 207.4,77.0 207.5,75.3 207.6,74.3 207.7,76.8 207.7,76.2 207.8,76.8 207.9,76.1 208.0,76.3 208.1,76.4 208.2,76.3 208.3,75.1 208.4,75.2 208.5,76.6 208.6,75.5 208.6,74.4 208.7,75.7 208.8,74.5 208.9,73.7 209.0,75.6 209.1,74.1 209.2,73.9 209.3,76.6 209.4,76.2 209.5,76.0 209.6,75.7 209.6,75.6 209.7,75.1 209.8,74.8 209.9,76.3 210.0,75.0 210.1,74.0 210.2,74.4 210.3,76.0 210.4,76.2 210.5,77.7 210.5,75.9 210.6,75.8 210.7,75.3 210.8,75.6 210.9,75.5 211.0,75.3 211.1,75.6 211.2,77.2 211.3,74.3 211.4,74.0 211.4,74.6 211.5,74.5 211.6,75.4 211.7,76.3 211.8,75.6 211.9,75.0 212.0,75.4 212.1,74.0 212.2,75.6 212.3,74.7 212.3,75.0 212.4,73.3 212.5,75.1 212.6,73.6 212.7,73.1 212.8,74.8 212.9,74.7 213.0,73.7 213.1,73.5 213.2,73.2 213.2,74.4 213.3,75.0 213.4,75.8 213.5,76.5 213.6,73.9 213.7,75.4 213.8,75.2 213.9,77.0 214.0,75.8 214.1,72.9 214.1,73.7 214.2,75.5 214.3,74.9 214.4,74.7 214.5,74.9 214.6,72.8 214.7,74.1 214.8,73.3 214.9,75.4 215.0,72.0 215.0,74.8 215.1,74.3 215.2,73.5 215.3,71.9 215.4,74.0 215.5,73.7 215.6,74.4 215.7,75.4 215.8,74.1 215.9,74.4 215.9,74.2 216.0,75.8 216.1,75.0 216.2,74.4 216.3,73.7 216.4,74.1 216.5,73.4 216.6,78.5 216.7,74.4 216.8,72.1 216.8,73.6 216.9,73.5 217.0,74.5 217.1,73.5 217.2,74.1 217.3,73.2 217.4,73.8 217.5,74.0 217.6,73.3 217.7,74.4 217.7,74.3 217.8,73.8 217.9,74.5 218.0,75.1 218.1,74.9 218.2,74.2 218.3,75.3 218.4,74.5 218.5,72.9 218.6,75.4 218.6,75.1 218.7,73.5 218.8,73.6 218.9,72.0 219.0,73.8 219.1,74.4 219.2,73.5 219.3,74.9 219.4,73.7 219.5,72.9 219.6,74.9 219.6,73.7 219.7,72.7 219.8,76.2 219.9,75.1 220.0,72.4 220.1,74.2 220.2,73.6 220.3,75.3 220.4,75.8 220.5,74.2 220.5,74.1 220.6,74.9 220.7,70.9 220.8,72.3 220.9,76.4 221.0,73.7 221.1,73.4 221.2,73.1 221.3,74.2 221.4,73.1 221.4,73.5 221.5,73.7 221.6,75.0 221.7,74.6 221.8,74.3 221.9,74.8 222.0,74.6 222.1,74.8 222.2,73.6 222.3,75.5 222.3,75.1 222.4,74.2 222.5,73.2 222.6,74.3 222.7,74.1 222.8,73.3 222.9,75.7 223.0,76.0 223.1,72.9 223.2,72.8 223.2,73.6 223.3,72.3 223.4,74.3 223.5,73.6 223.6,74.1 223.7,72.3 223.8,71.1 223.9,71.6 224.0,71.2 224.1,70.4 224.1,70.5 224.2,75.2 224.3,78.0 224.4,82.5 224.5,85.6 224.6,90.2 224.7,89.2 224.8,89.8 224.9,92.0 225.0,88.6 225.0,88.6 225.1,87.0 225.2,88.4 225.3,89.5 225.4,89.3 225.5,88.6 225.6,87.9 225.7,87.5 225.8,88.3 225.9,86.6 225.9,87.9 226.0,88.5 226.1,88.3 226.2,85.9 226.3,86.1 226.4,86.8 226.5,84.3 226.6,87.1 226.7,85.3 226.8,86.9 226.8,85.2 226.9,85.5 227.0,84.9 227.1,85.0 227.2,84.5 227.3,84.7 227.4,85.5 227.5,86.4 227.6,85.9 227.7,85.7 227.7,84.6 227.8,86.0 227.9,85.0 228.0,83.5 228.1,84.9 228.2,84.5 228.3,84.4 228.4,85.1 228.5,85.9 228.6,85.1 228.6,84.0 228.7,86.1 228.8,84.5 228.9,84.0 229.0,83.0 229.1,85.5 229.2,83.5 229.3,83.0 229.4,83.5 229.5,85.4 229.6,83.9 229.6,84.6 229.7,83.4 229.8,83.4 229.9,85.1 230.0,83.0 230.1,82.4 230.2,82.7 230.3,84.2 230.4,82.4 230.5,84.3 230.5,83.0 230.6,83.4 230.7,84.4 230.8,83.6 230.9,80.6 231.0,82.4 231.1,83.9 231.2,82.7 231.3,82.8 231.4,81.8 231.4,83.3 231.5,82.0 231.6,82.7 231.7,82.4 231.8,82.3 231.9,83.3 232.0,83.0 232.1,83.4 232.2,83.7 232.3,82.7 232.3,82.4 232.4,82.4 232.5,82.9 232.6,83.1 232.7,82.1 232.8,83.8 232.9,82.2 233.0,82.5 233.1,82.1 233.2,82.9 233.2,83.5 233.3,85.8 233.4,81.6 233.5,82.5 233.6,83.2 233.7,82.6 233.8,82.7 233.9,83.5 234.0,80.1 234.1,81.6 234.1,82.2 234.2,81.1 234.3,81.2 234.4,80.9 234.5,79.7 234.6,82.2 234.7,83.6 234.8,81.6 234.9,82.3 235.0,81.8 235.0,80.4 235.1,80.6 235.2,82.9 235.3,81.7 235.4,80.8 235.5,81.6 235.6,79.5 235.7,82.0 235.8,81.6 235.9,81.8 235.9,82.4 236.0,81.8 236.1,81.3 236.2,80.0 236.3,82.2 236.4,79.1 236.5,81.9 236.6,82.6 236.7,81.5 236.8,81.6 236.8,82.9 236.9,81.9 237.0,81.1 237.1,80.9 237.2,81.5 237.3,81.5 237.4,81.8 237.5,80.2 237.6,80.7 237.7,80.0 237.7,82.1 237.8,80.3 237.9,79.7 238.0,81.7 238.1,80.6 238.2,83.2 238.3,81.8 238.4,80.0 238.5,81.1 238.6,80.8 238.6,79.7 238.7,81.7 238.8,82.4 238.9,81.1 239.0,78.3 239.1,83.8 239.2,80.2 239.3,80.1 239.4,83.0 239.5,81.2 239.6,82.1 239.6,82.4 239.7,80.6 239.8,83.9 239.9,79.5 240.0,80.4 240.1,80.1 240.2,79.3 240.3,79.8 240.4,81.4 240.5,78.9 240.5,82.9 240.6,79.8 240.7,78.9 240.8,79.7 240.9,79.8 241.0,81.9 241.1,80.4 241.2,83.0 241.3,79.8 241.4,80.9 241.4,80.5 241.5,79.4 241.6,80.1 241.7,82.0 241.8,79.5 241.9,81.7 242.0,79.8 242.1,79.1 242.2,81.5 242.3,81.2 242.3,81.0 242.4,78.3 242.5,83.2 242.6,80.4 242.7,80.9 242.8,81.1 242.9,80.9 243.0,81.9 243.1,80.7 243.2,82.5 243.2,80.8 243.3,81.0 243.4,79.5 243.5,82.8 243.6,80.3 243.7,80.0 243.8,78.1 243.9,81.3 244.0,80.2 244.1,79.4 244.1,79.2 244.2,78.1 244.3,78.8 244.4,82.5 244.5,80.7 244.6,79.2 244.7,79.0 244.8,81.2 244.9,80.1 245.0,78.0 245.0,79.1 245.1,81.8 245.2,79.6 245.3,79.4 245.4,79.6 245.5,79.2 245.6,80.3 245.7,78.9 245.8,80.1 245.9,79.9 245.9,81.1 246.0,79.7 246.1,78.6 246.2,81.8 246.3,83.1 246.4,81.6 246.5,78.0 246.6,78.6 246.7,80.3 246.8,79.1 246.8,81.4 246.9,80.0 247.0,79.0 247.1,80.0 247.2,79.6 247.3,79.3 247.4,78.0 247.5,78.1 247.6,80.4 247.7,79.9 247.7,80.6 247.8,80.3 247.9,80.4 248.0,80.3 248.1,79.8 248.2,81.2 248.3,79.7 248.4,79.0 248.5,79.1 248.6,81.6 248.6,80.4 248.7,78.2 248.8,79.2 248.9,81.0 249.0,78.4 249.1,78.7 249.2,81.3 249.3,77.2 249.4,79.2 249.5,78.2 249.6,79.8 249.6,79.0 249.7,79.4 249.8,79.4 249.9,79.5 250.0,80.8 250.1,80.8 250.2,79.0 250.3,79.6 250.4,79.1 250.5,80.7 250.5,79.2 250.6,77.4 250.7,79.1 250.8,80.3 250.9,79.8 251.0,78.1 251.1,81.0 251.2,80.0 251.3,80.9 251.4,79.6 251.4,76.7 251.5,79.7 251.6,79.8 251.7,79.3 251.8,80.9 251.9,76.7 252.0,79.5 252.1,77.4 252.2,79.7 252.3,79.4 252.3,81.4 252.4,78.1 252.5,81.2 252.6,77.4 252.7,78.6 252.8,79.4 252.9,77.3 253.0,76.7 253.1,79.5 253.2,78.7 253.2,79.1 253.3,76.6 253.4,76.7 253.5,78.9 253.6,78.3 253.7,79.5 253.8,78.5 253.9,80.6 254.0,76.7 254.1,79.1 254.1,78.4 254.2,79.7 254.3,80.9 254.4,77.7 254.5,79.0 254.6,77.4 254.7,77.9 254.8,78.0 254.9,77.7 255.0,77.3 255.0,78.2 255.1,78.7 255.2,77.7 255.3,78.5 255.4,80.0 255.5,79.0 255.6,77.9 255.7,80.7 255.8,79.2 255.9,78.0 255.9,77.3 256.0,79.2 256.1,78.4 256.2,78.9 256.3,75.8 256.4,78.9 256.5,80.3 256.6,77.2 256.7,78.7 256.8,76.4 256.8,76.6 256.9,80.2 257.0,77.8 257.1,76.9 257.2,76.8 257.3,78.8 257.4,77.3 257.5,76.8 257.6,78.5 257.7,77.2 257.7,77.6 257.8,77.3 257.9,79.1 258.0,76.0 258.1,77.9 258.2,76.6 258.3,77.2 258.4,79.8 258.5,76.8 258.6,78.4 258.6,80.7 258.7,78.7 258.8,77.8 258.9,78.5 259.0,76.3 259.1,78.5 259.2,75.8 259.3,79.2 259.4,76.9 259.5,76.3 259.6,77.9 259.6,76.5 259.7,78.4 259.8,77.7 259.9,79.1 260.0,76.6 260.1,77.8 260.2,74.9 260.3,76.7 260.4,76.4 260.5,78.4 260.5,81.0 260.6,76.8 260.7,77.8 260.8,80.3 260.9,77.9 261.0,79.3 261.1,77.6 261.2,77.9 261.3,75.9 261.4,75.8 261.4,78.5 261.5,77.2 261.6,79.2 261.7,77.1 261.8,75.8 261.9,78.7 262.0,78.3 262.1,77.4 262.2,79.3 262.3,75.6 262.3,73.9 262.4,77.9 262.5,78.5 262.6,75.3 262.7,77.5 262.8,74.0 262.9,77.9 263.0,75.6 263.1,78.1 263.2,79.4 263.2,78.3 263.3,76.1 263.4,77.4 263.5,75.5 263.6,76.3 263.7,76.1 263.8,78.5 263.9,78.3 264.0,75.0 264.1,78.5 264.1,74.3 264.2,77.8 264.3,78.7 264.4,78.1 264.5,76.5 264.6,77.9 264.7,78.1 264.8,77.7 264.9,79.2 265.0,75.9 265.0,76.9 265.1,77.1 265.2,75.5 265.3,75.5 265.4,76.4 265.5,77.3 265.6,78.6 265.7,75.2 265.8,74.3 265.9,75.4 265.9,76.3 266.0,74.1 266.1,76.3 266.2,76.1 266.3,73.6 266.4,76.6 266.5,78.1 266.6,78.6 266.7,74.7 266.8,76.0 266.8,77.3 266.9,74.6 267.0,77.1 267.1,76.4 267.2,74.6 267.3,77.5 267.4,74.2 267.5,73.7 267.6,73.3 267.7,76.4 267.7,77.5 267.8,75.6 267.9,75.6 268.0,74.9 268.1,78.4 268.2,76.0 268.3,76.8 268.4,77.9 268.5,76.8 268.6,74.5 268.6,76.4 268.7,75.7 268.8,76.3 268.9,76.5 269.0,77.2 269.1,75.8 269.2,74.5 269.3,74.4 269.4,77.6 269.5,75.9 269.6,74.6 269.6,75.5 269.7,75.8 269.8,73.3 269.9,75.0 270.0,77.6 270.1,74.1 270.2,77.0 270.3,76.2 270.4,79.8 270.5,76.0 270.5,77.4 270.6,75.6 270.7,75.5 270.8,78.1 270.9,73.5 271.0,78.1 271.1,75.2 271.2,73.8 271.3,77.5 271.4,78.2 271.4,74.7 271.5,75.4 271.6,76.2 271.7,74.0 271.8,75.9 271.9,77.0 272.0,76.2 272.1,77.9 272.2,77.2 272.3,76.6 272.3,76.9 272.4,74.9 272.5,77.7 272.6,77.8 272.7,75.4 272.8,73.6 272.9,76.6 273.0,74.1 273.1,74.6 273.2,76.4 273.2,73.7 273.3,73.9 273.4,74.3 273.5,77.6 273.6,76.6 273.7,72.6 273.8,75.3 273.9,73.6 274.0,76.1 274.1,73.2 274.1,74.3 274.2,73.7 274.3,74.7 274.4,78.7 274.5,74.1 274.6,74.9 274.7,77.0 274.8,75.2 274.9,72.5 275.0,76.7 275.0,75.1 275.1,76.5 275.2,76.5 275.3,77.1 275.4,75.8 275.5,74.3 275.6,75.2 275.7,74.7 275.8,74.8 275.9,71.9 275.9,73.0 276.0,76.8 276.1,71.8 276.2,73.3 276.3,77.5 276.4,77.9 276.5,74.5 276.6,73.7 276.7,75.1 276.8,75.1 276.8,77.1 276.9,72.5 277.0,75.8 277.1,73.0 277.2,74.9 277.3,73.9 277.4,72.6 277.5,71.0 277.6,76.4 277.7,72.1 277.7,74.9 277.8,75.6 277.9,73.1 278.0,73.9 278.1,74.5 278.2,76.5 278.3,72.4 278.4,74.2 278.5,75.7 278.6,74.3 278.6,74.0 278.7,74.0 278.8,72.8 278.9,76.4 279.0,75.1 279.1,73.8 279.2,78.7 279.3,72.6 279.4,73.9 279.5,73.3 279.6,75.6 279.6,75.8 279.7,75.4 279.8,74.4 279.9,75.9 280.0,74.0 280.1,71.1 280.2,75.7 280.3,72.3 280.4,74.9 280.5,73.6 280.5,73.4 280.6,73.8 280.7,72.6 280.8,75.2 280.9,72.6 281.0,75.5 281.1,75.0 281.2,72.1 281.3,72.8 281.4,73.3 281.4,70.8 281.5,75.6 281.6,73.7 281.7,73.6 281.8,72.3 281.9,72.2 282.0,74.4 282.1,73.7 282.2,75.0 282.3,72.0 282.3,74.9 282.4,73.0 282.5,72.4 282.6,72.5 282.7,74.0 282.8,73.2 282.9,72.9 283.0,73.1 283.1,72.8 283.2,73.0 283.2,73.8 283.3,74.5 283.4,73.3 283.5,73.2 283.6,74.0 283.7,73.1 283.8,72.0 283.9,71.4 284.0,76.6 284.1,72.9 284.1,74.5 284.2,73.3 284.3,74.5 284.4,75.8 284.5,73.0 284.6,70.8 284.7,72.0 284.8,72.9 284.9,74.7 285.0,74.7 285.0,75.8 285.1,72.6 285.2,72.5 285.3,73.3 285.4,72.3 285.5,69.0 285.6,73.4 285.7,73.5 285.8,72.7 285.9,72.6 285.9,73.2 286.0,74.2 286.1,70.7 286.2,74.6 286.3,74.4 286.4,73.1 286.5,73.7 286.6,74.0 286.7,71.3 286.8,75.0 286.8,75.9 286.9,74.2 287.0,77.4 287.1,73.6 287.2,73.0 287.3,70.4 287.4,74.4 287.5,70.3 287.6,72.2 287.7,73.3 287.7,69.0 287.8,74.0 287.9,75.0 288.0,72.3 288.1,73.2 288.2,71.5 288.3,72.9 288.4,71.5 288.5,73.5 288.6,74.4 288.6,74.1 288.7,73.0 288.8,72.2 288.9,69.1 289.0,71.1 289.1,73.6 289.2,70.3 289.3,75.0 289.4,73.8 289.5,73.3 289.6,72.1 289.6,71.8 289.7,72.7 289.8,73.7 289.9,71.4 290.0,71.1 290.1,72.4 290.2,75.2 290.3,71.0 290.4,72.7 290.5,73.1 290.5,71.0 290.6,72.2 290.7,70.3 290.8,71.3 290.9,71.7 291.0,73.0 291.1,74.1 291.2,72.4 291.3,71.8 291.4,74.8 291.4,73.8 291.5,72.2 291.6,72.9 291.7,70.8 291.8,74.8 291.9,70.4 292.0,72.3 292.1,72.1 292.2,72.4 292.3,72.8 292.3,72.6 292.4,71.8 292.5,70.4 292.6,74.2 292.7,70.8 292.8,73.2 292.9,70.7 293.0,71.8 293.1,75.4 293.2,73.8 293.2,72.4 293.3,69.9 293.4,72.4 293.5,73.1 293.6,71.0 293.7,73.2 293.8,73.7 293.9,72.5 294.0,69.7 294.1,70.6 294.1,70.9 294.2,73.6 294.3,72.3 294.4,69.5 294.5,71.9 294.6,71.9 294.7,71.3 294.8,70.8 294.9,70.3 295.0,71.4 295.0,70.5 295.1,72.6 295.2,71.6 295.3,72.0 295.4,72.2 295.5,73.1 295.6,72.4 295.7,71.7 295.8,72.8 295.9,71.0 295.9,72.9 296.0,70.3 296.1,68.5 296.2,70.6 296.3,71.6 296.4,73.6 296.5,70.8 296.6,73.6 296.7,73.2 296.8,68.2 296.8,70.2 296.9,65.5 297.0,71.6 297.1,71.5 297.2,73.0 297.3,71.0 297.4,68.0 297.5,72.2 297.6,71.2 297.7,71.2 297.7,70.1 297.8,72.0 297.9,72.0 298.0,70.1 298.1,71.5 298.2,73.0 298.3,70.8 298.4,71.1" fill="none" stroke="#66aae2" stroke-width="0.9" stroke-linejoin="round"/>
<line x1="188.90" y1="35.70" x2="188.90" y2="116.10" stroke="#111" stroke-width="1.3"/>
<line x1="188.30" y1="115.50" x2="299.20" y2="115.50" stroke="#111" stroke-width="1.3"/>
<line x1="185.90" y1="112.30" x2="188.90" y2="112.30" stroke="#1c1c1c" stroke-width="1.0"/>
<text x="182.60" y="115.20" font-size="9.07" text-anchor="end" textLength="14.0" lengthAdjust="spacingAndGlyphs">100</text>
<line x1="187.30" y1="106.88" x2="188.90" y2="106.88" stroke="#1c1c1c" stroke-width="0.9"/>
<line x1="187.30" y1="101.47" x2="188.90" y2="101.47" stroke="#1c1c1c" stroke-width="0.9"/>
<line x1="187.30" y1="96.05" x2="188.90" y2="96.05" stroke="#1c1c1c" stroke-width="0.9"/>
<line x1="185.90" y1="90.63" x2="188.90" y2="90.63" stroke="#1c1c1c" stroke-width="1.0"/>
<text x="182.60" y="93.53" font-size="9.07" text-anchor="end" textLength="14.0" lengthAdjust="spacingAndGlyphs">200</text>
<line x1="187.30" y1="85.21" x2="188.90" y2="85.21" stroke="#1c1c1c" stroke-width="0.9"/>
<line x1="187.30" y1="79.79" x2="188.90" y2="79.79" stroke="#1c1c1c" stroke-width="0.9"/>
<line x1="187.30" y1="74.38" x2="188.90" y2="74.38" stroke="#1c1c1c" stroke-width="0.9"/>
<line x1="185.90" y1="68.96" x2="188.90" y2="68.96" stroke="#1c1c1c" stroke-width="1.0"/>
<text x="182.60" y="71.86" font-size="9.07" text-anchor="end" textLength="14.0" lengthAdjust="spacingAndGlyphs">300</text>
<line x1="187.30" y1="63.54" x2="188.90" y2="63.54" stroke="#1c1c1c" stroke-width="0.9"/>
<line x1="187.30" y1="58.12" x2="188.90" y2="58.12" stroke="#1c1c1c" stroke-width="0.9"/>
<line x1="187.30" y1="52.71" x2="188.90" y2="52.71" stroke="#1c1c1c" stroke-width="0.9"/>
<line x1="185.90" y1="47.29" x2="188.90" y2="47.29" stroke="#1c1c1c" stroke-width="1.0"/>
<text x="182.60" y="50.19" font-size="9.07" text-anchor="end" textLength="14.0" lengthAdjust="spacingAndGlyphs">400</text>
<line x1="187.30" y1="41.87" x2="188.90" y2="41.87" stroke="#1c1c1c" stroke-width="0.9"/>
<line x1="187.30" y1="36.45" x2="188.90" y2="36.45" stroke="#1c1c1c" stroke-width="0.9"/>
<line x1="197.29" y1="115.50" x2="197.29" y2="117.30" stroke="#1c1c1c" stroke-width="0.9"/>
<line x1="205.48" y1="115.50" x2="205.48" y2="117.30" stroke="#1c1c1c" stroke-width="0.9"/>
<line x1="213.67" y1="115.50" x2="213.67" y2="117.30" stroke="#1c1c1c" stroke-width="0.9"/>
<line x1="221.86" y1="115.50" x2="221.86" y2="118.70" stroke="#1c1c1c" stroke-width="1.0"/>
<text x="221.86" y="129.80" font-size="9.07" text-anchor="middle" textLength="14.0" lengthAdjust="spacingAndGlyphs">200</text>
<line x1="230.05" y1="115.50" x2="230.05" y2="117.30" stroke="#1c1c1c" stroke-width="0.9"/>
<line x1="238.24" y1="115.50" x2="238.24" y2="117.30" stroke="#1c1c1c" stroke-width="0.9"/>
<line x1="246.43" y1="115.50" x2="246.43" y2="117.30" stroke="#1c1c1c" stroke-width="0.9"/>
<line x1="254.62" y1="115.50" x2="254.62" y2="118.70" stroke="#1c1c1c" stroke-width="1.0"/>
<text x="254.62" y="129.80" font-size="9.07" text-anchor="middle" textLength="14.0" lengthAdjust="spacingAndGlyphs">400</text>
<line x1="262.81" y1="115.50" x2="262.81" y2="117.30" stroke="#1c1c1c" stroke-width="0.9"/>
<line x1="271.00" y1="115.50" x2="271.00" y2="117.30" stroke="#1c1c1c" stroke-width="0.9"/>
<line x1="279.19" y1="115.50" x2="279.19" y2="117.30" stroke="#1c1c1c" stroke-width="0.9"/>
<line x1="287.38" y1="115.50" x2="287.38" y2="118.70" stroke="#1c1c1c" stroke-width="1.0"/>
<text x="287.38" y="129.80" font-size="9.07" text-anchor="middle" textLength="14.0" lengthAdjust="spacingAndGlyphs">600</text>
<line x1="295.57" y1="115.50" x2="295.57" y2="117.30" stroke="#1c1c1c" stroke-width="0.9"/>
<text x="230.00" y="143.50" font-size="10.37" textLength="28.2" lengthAdjust="spacingAndGlyphs">Time (s)</text>
<text x="176.00" y="21.60" font-size="7.88" textLength="27.7" lengthAdjust="spacingAndGlyphs">mAb24</text>
<text x="162.80" y="75.35" font-size="11.45" text-anchor="middle" transform="rotate(-90 162.80 75.35)" textLength="13.3" lengthAdjust="spacingAndGlyphs">MFI</text>
<text x="301.10" y="43.00" font-size="8.64" textLength="12.4" lengthAdjust="spacingAndGlyphs">WT</text>
<text x="301.10" y="67.60" font-size="8.64" textLength="20.6" lengthAdjust="spacingAndGlyphs">K3KO</text>
<text x="301.30" y="76.40" font-size="8.64" textLength="20.3" lengthAdjust="spacingAndGlyphs">β2KO</text>
<text x="193.50" y="66.00" font-size="8.1" textLength="10.8" lengthAdjust="spacingAndGlyphs">Ab</text>
<line x1="199.10" y1="67.70" x2="199.10" y2="73.20" stroke="#000" stroke-width="1.0"/>
<path d="M196.70 71.20L201.50 71.20L199.10 76.20Z" fill="#000"/>
<text x="217.70" y="53.40" font-size="8.1" textLength="13.4" lengthAdjust="spacingAndGlyphs">IL-8</text>
<line x1="224.40" y1="58.20" x2="224.40" y2="63.00" stroke="#000" stroke-width="1.0"/>
<path d="M222.00 61.00L226.80 61.00L224.40 66.00Z" fill="#000"/>
<polyline points="189.1,256.7 189.2,256.5 189.3,256.9 189.4,256.3 189.5,256.1 189.6,257.1 189.6,256.6 189.7,256.5 189.8,258.4 189.9,256.5 190.0,258.1 190.1,256.7 190.2,257.7 190.3,257.9 190.4,257.4 190.5,256.7 190.5,257.4 190.6,257.1 190.7,257.0 190.8,256.3 190.9,256.5 191.0,257.5 191.1,257.1 191.2,257.3 191.3,256.8 191.4,256.1 191.4,257.4 191.5,256.7 191.6,257.2 191.7,257.0 191.8,256.6 191.9,257.1 192.0,257.1 192.1,257.4 192.2,257.3 192.3,257.3 192.3,256.7 192.4,257.3 192.5,257.0 192.6,257.0 192.7,257.6 192.8,256.6 192.9,256.7 193.0,257.2 193.1,257.8 193.2,257.6 193.2,257.1 193.3,256.2 193.4,256.8 193.5,257.8 193.6,256.8 193.7,257.0 193.8,257.0 193.9,256.9 194.0,256.4 194.1,257.2 194.1,256.6 194.2,257.2 194.3,256.9 194.4,256.3 194.5,257.5 194.6,257.4 194.7,257.3 194.8,256.6 194.9,256.4 195.0,257.0 195.0,257.6 195.1,257.4 195.2,257.1 195.3,256.6 195.4,257.0 195.5,256.9 195.6,257.3 195.7,257.0 195.8,256.7 195.9,256.7 195.9,257.0 196.0,256.8 196.1,257.2 196.2,257.6 196.3,256.6 196.4,256.4 196.5,257.5 196.6,256.7 196.7,256.5 196.8,257.2 196.8,256.7 196.9,256.5 197.0,256.9 197.1,257.6 197.2,256.5 197.3,256.9 197.4,257.2 197.5,256.5 197.6,257.4 197.7,257.3 197.7,257.3 197.8,257.5 197.9,257.6 198.0,257.7 198.1,256.5 198.2,257.3 198.3,258.0 198.4,257.2 198.5,257.2 198.6,257.2 198.6,257.5 198.7,256.8 198.8,257.2 198.9,256.8 199.0,256.6 199.1,257.0 199.2,256.9 199.3,255.4 199.4,253.1 199.5,250.8 199.6,247.4 199.6,243.3 199.7,241.3 199.8,239.7 199.9,238.9 200.0,237.7 200.1,238.6 200.2,238.0 200.3,238.7 200.4,240.5 200.5,239.2 200.5,237.6 200.6,237.8 200.7,237.4 200.8,235.7 200.9,238.0 201.0,237.1 201.1,235.9 201.2,237.4 201.3,236.3 201.4,237.1 201.4,237.4 201.5,235.7 201.6,236.2 201.7,235.5 201.8,236.3 201.9,236.3 202.0,235.1 202.1,235.0 202.2,235.4 202.3,235.2 202.3,234.9 202.4,234.2 202.5,235.1 202.6,235.9 202.7,233.7 202.8,233.9 202.9,235.1 203.0,234.3 203.1,234.2 203.2,232.8 203.2,233.8 203.3,234.5 203.4,233.7 203.5,233.6 203.6,233.7 203.7,233.3 203.8,233.2 203.9,232.9 204.0,232.6 204.1,233.0 204.1,232.3 204.2,232.4 204.3,233.2 204.4,232.7 204.5,231.9 204.6,231.5 204.7,232.3 204.8,233.2 204.9,232.0 205.0,231.9 205.0,231.9 205.1,229.3 205.2,232.2 205.3,231.2 205.4,233.0 205.5,230.6 205.6,231.4 205.7,231.2 205.8,231.2 205.9,232.0 205.9,231.7 206.0,230.1 206.1,231.2 206.2,229.8 206.3,230.7 206.4,230.1 206.5,231.0 206.6,230.1 206.7,229.6 206.8,230.2 206.8,230.1 206.9,229.1 207.0,230.0 207.1,229.3 207.2,230.4 207.3,229.6 207.4,229.5 207.5,229.7 207.6,231.0 207.7,230.4 207.7,229.4 207.8,230.4 207.9,229.8 208.0,230.6 208.1,230.1 208.2,228.7 208.3,227.6 208.4,228.8 208.5,229.3 208.6,228.9 208.6,229.9 208.7,228.7 208.8,229.8 208.9,229.7 209.0,229.7 209.1,228.9 209.2,229.6 209.3,228.4 209.4,230.4 209.5,228.5 209.6,228.9 209.6,227.8 209.7,227.5 209.8,228.7 209.9,228.1 210.0,228.6 210.1,229.0 210.2,228.8 210.3,229.0 210.4,227.3 210.5,227.9 210.5,227.5 210.6,229.0 210.7,228.9 210.8,228.6 210.9,228.9 211.0,227.4 211.1,228.8 211.2,227.0 211.3,228.5 211.4,226.0 211.4,227.7 211.5,229.5 211.6,227.8 211.7,227.8 211.8,228.4 211.9,226.0 212.0,227.4 212.1,227.7 212.2,227.2 212.3,226.8 212.3,226.9 212.4,228.2 212.5,228.1 212.6,227.8 212.7,226.6 212.8,228.0 212.9,226.2 213.0,227.8 213.1,228.3 213.2,227.0 213.2,227.1 213.3,228.2 213.4,227.3 213.5,227.9 213.6,227.1 213.7,227.9 213.8,227.4 213.9,225.7 214.0,228.0 214.1,227.7 214.1,227.3 214.2,227.8 214.3,227.9 214.4,228.6 214.5,226.7 214.6,227.9 214.7,226.8 214.8,225.6 214.9,227.8 215.0,227.8 215.0,226.2 215.1,226.9 215.2,228.1 215.3,225.4 215.4,227.0 215.5,226.3 215.6,227.4 215.7,228.4 215.8,226.5 215.9,226.3 215.9,227.2 216.0,225.7 216.1,226.6 216.2,226.7 216.3,228.1 216.4,227.3 216.5,225.8 216.6,226.6 216.7,225.5 216.8,226.9 216.8,226.2 216.9,226.6 217.0,227.3 217.1,227.6 217.2,226.1 217.3,227.1 217.4,226.9 217.5,226.7 217.6,226.5 217.7,226.3 217.7,226.8 217.8,226.2 217.9,226.2 218.0,227.0 218.1,225.1 218.2,226.8 218.3,226.6 218.4,225.5 218.5,226.3 218.6,226.8 218.6,227.1 218.7,225.7 218.8,226.5 218.9,226.5 219.0,226.8 219.1,226.0 219.2,226.0 219.3,225.6 219.4,225.9 219.5,227.3 219.6,225.0 219.6,225.4 219.7,226.2 219.8,225.7 219.9,226.4 220.0,227.6 220.1,226.6 220.2,225.6 220.3,224.7 220.4,225.4 220.5,226.8 220.5,227.5 220.6,224.8 220.7,226.5 220.8,226.5 220.9,227.1 221.0,226.6 221.1,226.4 221.2,225.7 221.3,226.2 221.4,226.5 221.4,226.5 221.5,227.1 221.6,225.9 221.7,226.9 221.8,225.8 221.9,226.6 222.0,225.0 222.1,225.9 222.2,226.4 222.3,226.3 222.3,225.5 222.4,226.4 222.5,226.2 222.6,226.2 222.7,225.5 222.8,226.6 222.9,226.9 223.0,226.6 223.1,225.2 223.2,226.1 223.2,227.2 223.3,227.1 223.4,227.9 223.5,225.2 223.6,225.5 223.7,226.9 223.8,225.7 223.9,225.4 224.0,226.9 224.1,226.6 224.1,224.3 224.2,250.9 224.3,251.5 224.4,250.6 224.5,237.3 224.6,237.0 224.7,237.5 224.8,236.4 224.9,236.1 225.0,235.7 225.0,234.9 225.1,236.8 225.2,236.8 225.3,235.4 225.4,235.7 225.5,235.8 225.6,234.7 225.7,234.7 225.8,235.3 225.9,235.0 225.9,235.5 226.0,235.9 226.1,235.5 226.2,233.5 226.3,235.1 226.4,235.1 226.5,234.9 226.6,234.8 226.7,234.5 226.8,235.4 226.8,235.0 226.9,233.7 227.0,234.5 227.1,234.8 227.2,234.3 227.3,233.7 227.4,233.7 227.5,233.9 227.6,234.9 227.7,235.1 227.7,233.4 227.8,234.0 227.9,233.3 228.0,233.4 228.1,233.5 228.2,233.8 228.3,235.4 228.4,234.0 228.5,234.0 228.6,233.9 228.6,233.0 228.7,234.9 228.8,233.2 228.9,234.2 229.0,233.2 229.1,233.4 229.2,233.0 229.3,233.8 229.4,232.8 229.5,233.7 229.6,232.5 229.6,234.8 229.7,233.3 229.8,233.4 229.9,232.9 230.0,235.1 230.1,233.9 230.2,235.3 230.3,233.8 230.4,232.4 230.5,234.1 230.5,234.9 230.6,232.2 230.7,233.8 230.8,233.1 230.9,232.7 231.0,232.3 231.1,234.2 231.2,233.9 231.3,233.3 231.4,232.9 231.4,231.6 231.5,233.3 231.6,233.2 231.7,232.3 231.8,233.7 231.9,232.6 232.0,233.5 232.1,233.2 232.2,233.6 232.3,233.4 232.3,232.3 232.4,233.6 232.5,231.9 232.6,232.7 232.7,232.4 232.8,232.3 232.9,233.1 233.0,231.6 233.1,232.5 233.2,234.9 233.2,232.7 233.3,234.2 233.4,232.8 233.5,233.4 233.6,232.6 233.7,233.3 233.8,232.4 233.9,232.2 234.0,232.4 234.1,233.0 234.1,232.9 234.2,231.2 234.3,231.8 234.4,232.5 234.5,231.8 234.6,233.2 234.7,232.4 234.8,233.2 234.9,233.1 235.0,232.1 235.0,233.1 235.1,232.3 235.2,232.3 235.3,233.2 235.4,232.7 235.5,231.7 235.6,233.5 235.7,232.0 235.8,231.6 235.9,232.5 235.9,232.0 236.0,231.6 236.1,232.1 236.2,233.3 236.3,231.6 236.4,231.3 236.5,234.2 236.6,232.3 236.7,232.6 236.8,232.2 236.8,232.2 236.9,232.8 237.0,232.9 237.1,233.0 237.2,233.2 237.3,231.3 237.4,232.0 237.5,231.4 237.6,232.1 237.7,232.6 237.7,231.8 237.8,231.7 237.9,231.1 238.0,233.1 238.1,232.1 238.2,231.7 238.3,231.6 238.4,232.0 238.5,232.7 238.6,231.3 238.6,232.8 238.7,231.7 238.8,232.6 238.9,233.2 239.0,232.5 239.1,232.8 239.2,231.8 239.3,231.7 239.4,231.9 239.5,233.2 239.6,232.8 239.6,232.0 239.7,232.1 239.8,232.1 239.9,232.1 240.0,232.4 240.1,230.9 240.2,232.6 240.3,232.2 240.4,231.2 240.5,233.0 240.5,232.6 240.6,231.7 240.7,232.0 240.8,232.2 240.9,231.1 241.0,232.2 241.1,230.7 241.2,232.9 241.3,233.0 241.4,231.7 241.4,231.2 241.5,231.7 241.6,231.8 241.7,231.6 241.8,231.8 241.9,231.3 242.0,231.2 242.1,231.6 242.2,231.5 242.3,232.7 242.3,231.4 242.4,231.7 242.5,230.7 242.6,231.6 242.7,231.9 242.8,232.6 242.9,232.8 243.0,231.5 243.1,230.7 243.2,231.9 243.2,230.2 243.3,231.0 243.4,230.7 243.5,231.4 243.6,232.1 243.7,231.9 243.8,231.3 243.9,231.3 244.0,231.7 244.1,231.5 244.1,231.8 244.2,230.5 244.3,231.9 244.4,231.6 244.5,231.7 244.6,232.7 244.7,232.6 244.8,232.0 244.9,231.6 245.0,229.9 245.0,231.4 245.1,231.3 245.2,231.4 245.3,230.8 245.4,231.9 245.5,233.4 245.6,230.4 245.7,230.3 245.8,232.2 245.9,231.5 245.9,229.6 246.0,230.8 246.1,230.7 246.2,231.8 246.3,230.6 246.4,230.7 246.5,230.7 246.6,230.8 246.7,230.8 246.8,232.2 246.8,231.7 246.9,230.9 247.0,230.9 247.1,234.1 247.2,231.3 247.3,231.5 247.4,230.2 247.5,230.9 247.6,229.4 247.7,231.0 247.7,231.0 247.8,230.0 247.9,231.5 248.0,231.3 248.1,231.0 248.2,231.7 248.3,231.0 248.4,230.7 248.5,230.8 248.6,229.7 248.6,230.6 248.7,231.5 248.8,228.9 248.9,232.3 249.0,230.1 249.1,231.5 249.2,231.4 249.3,230.3 249.4,230.4 249.5,229.7 249.6,230.1 249.6,232.1 249.7,229.6 249.8,231.8 249.9,230.1 250.0,231.6 250.1,230.4 250.2,230.3 250.3,230.7 250.4,230.9 250.5,230.5 250.5,229.4 250.6,230.6 250.7,230.9 250.8,230.8 250.9,230.9 251.0,229.5 251.1,230.5 251.2,230.5 251.3,229.7 251.4,231.1 251.4,229.6 251.5,231.6 251.6,229.1 251.7,231.1 251.8,231.0 251.9,230.8 252.0,229.4 252.1,231.5 252.2,230.5 252.3,230.1 252.3,230.8 252.4,229.1 252.5,229.2 252.6,230.9 252.7,231.3 252.8,230.0 252.9,229.1 253.0,229.6 253.1,229.5 253.2,228.4 253.2,229.6 253.3,231.4 253.4,230.1 253.5,230.8 253.6,229.2 253.7,231.1 253.8,229.1 253.9,229.3 254.0,229.3 254.1,230.0 254.1,230.1 254.2,229.5 254.3,229.6 254.4,229.1 254.5,229.4 254.6,229.8 254.7,229.4 254.8,229.2 254.9,229.1 255.0,229.8 255.0,228.4 255.1,229.4 255.2,229.8 255.3,230.4 255.4,230.4 255.5,230.1 255.6,229.2 255.7,231.6 255.8,230.0 255.9,229.9 255.9,231.3 256.0,230.3 256.1,229.4 256.2,229.2 256.3,229.3 256.4,228.5 256.5,230.4 256.6,228.6 256.7,228.8 256.8,230.1 256.8,228.4 256.9,230.0 257.0,230.0 257.1,230.0 257.2,229.2 257.3,229.9 257.4,229.4 257.5,229.8 257.6,229.2 257.7,229.8 257.7,229.4 257.8,229.5 257.9,230.6 258.0,228.6 258.1,229.4 258.2,230.3 258.3,228.4 258.4,228.4 258.5,229.5 258.6,229.7 258.6,229.6 258.7,230.0 258.8,229.1 258.9,229.5 259.0,229.9 259.1,229.3 259.2,230.2 259.3,229.2 259.4,229.1 259.5,230.0 259.6,230.7 259.6,229.2 259.7,230.1 259.8,229.0 259.9,229.2 260.0,229.8 260.1,230.2 260.2,229.1 260.3,228.9 260.4,229.6 260.5,228.5 260.5,228.9 260.6,228.9 260.7,228.1 260.8,229.9 260.9,228.9 261.0,228.3 261.1,230.2 261.2,230.1 261.3,227.6 261.4,228.8 261.4,228.1 261.5,229.5 261.6,229.4 261.7,228.3 261.8,229.5 261.9,230.2 262.0,229.5 262.1,229.6 262.2,229.2 262.3,228.6 262.3,228.4 262.4,228.0 262.5,228.0 262.6,229.5 262.7,230.4 262.8,229.1 262.9,229.0 263.0,227.9 263.1,229.6 263.2,229.2 263.2,228.9 263.3,227.8 263.4,229.5 263.5,229.8 263.6,228.6 263.7,229.1 263.8,228.8 263.9,228.6 264.0,228.5 264.1,228.4 264.1,229.5 264.2,228.4 264.3,230.1 264.4,228.5 264.5,228.3 264.6,229.4 264.7,228.8 264.8,227.6 264.9,228.8 265.0,228.5 265.0,229.6 265.1,229.9 265.2,228.6 265.3,229.1 265.4,228.9 265.5,229.3 265.6,228.5 265.7,228.0 265.8,228.8 265.9,228.1 265.9,227.9 266.0,228.2 266.1,229.4 266.2,228.5 266.3,228.3 266.4,228.4 266.5,227.5 266.6,226.9 266.7,229.0 266.8,228.5 266.8,229.0 266.9,228.6 267.0,229.5 267.1,228.0 267.2,227.6 267.3,228.5 267.4,229.4 267.5,229.1 267.6,228.5 267.7,227.9 267.7,227.4 267.8,228.9 267.9,228.0 268.0,229.4 268.1,229.2 268.2,228.2 268.3,227.3 268.4,228.5 268.5,228.0 268.6,226.6 268.6,227.3 268.7,227.4 268.8,227.6 268.9,229.8 269.0,229.6 269.1,227.6 269.2,227.9 269.3,228.2 269.4,228.1 269.5,228.2 269.6,227.9 269.6,228.4 269.7,228.2 269.8,229.1 269.9,228.4 270.0,228.1 270.1,228.7 270.2,229.6 270.3,227.9 270.4,228.5 270.5,227.6 270.5,227.5 270.6,229.0 270.7,228.3 270.8,226.9 270.9,228.5 271.0,227.9 271.1,226.9 271.2,228.3 271.3,228.7 271.4,227.3 271.4,227.7 271.5,228.7 271.6,227.7 271.7,229.3 271.8,227.5 271.9,228.2 272.0,228.1 272.1,228.2 272.2,227.6 272.3,229.2 272.3,227.8 272.4,227.1 272.5,227.9 272.6,226.9 272.7,228.1 272.8,227.7 272.9,228.1 273.0,227.7 273.1,226.6 273.2,227.4 273.2,228.4 273.3,228.0 273.4,227.9 273.5,228.2 273.6,226.6 273.7,228.2 273.8,227.3 273.9,227.3 274.0,229.0 274.1,227.5 274.1,227.7 274.2,226.3 274.3,226.7 274.4,227.3 274.5,228.9 274.6,226.8 274.7,227.5 274.8,228.2 274.9,228.2 275.0,227.9 275.0,228.3 275.1,227.6 275.2,226.7 275.3,228.0 275.4,227.1 275.5,226.7 275.6,227.2 275.7,227.6 275.8,227.2 275.9,227.2 275.9,226.8 276.0,226.8 276.1,227.1 276.2,226.3 276.3,228.0 276.4,228.9 276.5,227.6 276.6,227.9 276.7,226.3 276.8,227.0 276.8,226.5 276.9,226.7 277.0,226.6 277.1,226.7 277.2,226.8 277.3,226.9 277.4,227.2 277.5,227.6 277.6,226.7 277.7,227.7 277.7,228.1 277.8,228.2 277.9,227.3 278.0,227.6 278.1,226.9 278.2,226.6 278.3,226.6 278.4,228.4 278.5,226.3 278.6,227.5 278.6,227.4 278.7,226.7 278.8,227.5 278.9,227.5 279.0,227.0 279.1,227.2 279.2,226.2 279.3,227.1 279.4,227.0 279.5,227.9 279.6,226.4 279.6,227.2 279.7,227.3 279.8,226.3 279.9,227.5 280.0,226.8 280.1,226.8 280.2,228.6 280.3,226.7 280.4,228.0 280.5,226.0 280.5,227.3 280.6,227.1 280.7,226.5 280.8,227.1 280.9,226.2 281.0,227.8 281.1,226.7 281.2,227.8 281.3,226.9 281.4,228.2 281.4,226.1 281.5,227.9 281.6,227.3 281.7,227.6 281.8,226.7 281.9,225.4 282.0,227.4 282.1,226.9 282.2,226.5 282.3,227.4 282.3,227.3 282.4,227.7 282.5,227.1 282.6,225.3 282.7,226.3 282.8,227.4 282.9,225.5 283.0,227.6 283.1,226.9 283.2,226.8 283.2,226.5 283.3,226.2 283.4,226.2 283.5,226.1 283.6,227.0 283.7,226.1 283.8,226.2 283.9,227.1 284.0,227.1 284.1,226.3 284.1,226.8 284.2,227.3 284.3,228.0 284.4,225.8 284.5,226.5 284.6,226.9 284.7,225.8 284.8,228.0 284.9,226.3 285.0,225.3 285.0,226.9 285.1,227.3 285.2,226.4 285.3,226.0 285.4,227.2 285.5,226.0 285.6,225.7 285.7,227.3 285.8,226.4 285.9,225.2 285.9,225.5 286.0,227.3 286.1,226.2 286.2,227.5 286.3,227.2 286.4,226.2 286.5,224.7 286.6,227.0 286.7,226.4 286.8,226.8 286.8,225.4 286.9,225.7 287.0,225.9 287.1,225.9 287.2,227.2 287.3,227.3 287.4,225.3 287.5,227.1 287.6,225.1 287.7,225.1 287.7,226.6 287.8,227.2 287.9,225.8 288.0,225.3 288.1,225.2 288.2,225.7 288.3,225.0 288.4,226.7 288.5,226.5 288.6,224.0 288.6,225.8 288.7,226.1 288.8,227.1 288.9,224.7 289.0,225.6 289.1,227.5 289.2,227.3 289.3,226.0 289.4,225.3 289.5,227.6 289.6,226.5 289.6,226.4 289.7,226.6 289.8,225.5 289.9,227.1 290.0,226.0 290.1,226.4 290.2,224.5 290.3,225.3 290.4,226.4 290.5,227.4 290.5,226.3 290.6,225.6 290.7,225.7 290.8,225.8 290.9,226.1 291.0,225.4 291.1,225.7 291.2,225.9 291.3,224.6 291.4,225.5 291.4,227.4 291.5,226.8 291.6,226.5 291.7,225.3 291.8,225.2 291.9,227.4 292.0,224.8 292.1,225.7 292.2,226.2 292.3,224.9 292.3,224.4 292.4,225.5 292.5,225.6 292.6,225.4 292.7,224.0 292.8,224.7 292.9,223.9 293.0,224.8 293.1,225.7 293.2,225.0 293.2,226.5 293.3,225.6 293.4,225.1 293.5,226.3 293.6,225.6 293.7,225.7 293.8,225.6 293.9,225.7 294.0,226.0 294.1,226.6 294.1,224.7 294.2,224.9 294.3,224.0 294.4,224.9 294.5,224.7 294.6,225.5 294.7,225.4 294.8,225.3 294.9,225.0 295.0,224.2 295.0,222.6 295.1,226.3 295.2,225.6 295.3,225.4 295.4,224.4 295.5,225.6 295.6,224.5 295.7,223.8 295.8,225.1 295.9,224.2 295.9,225.6 296.0,225.2 296.1,224.6 296.2,224.3 296.3,226.2 296.4,223.7 296.5,225.9 296.6,224.5 296.7,225.7 296.8,225.7 296.8,225.1 296.9,224.8 297.0,224.7 297.1,226.5 297.2,225.0 297.3,225.6 297.4,225.1 297.5,225.0 297.6,224.9 297.7,224.7 297.7,226.3 297.8,224.9 297.9,225.1 298.0,225.4 298.1,225.0 298.2,223.7 298.3,225.6 298.4,225.2" fill="none" stroke="#6aaa3c" stroke-width="0.9" stroke-linejoin="round"/>
<polyline points="189.1,254.5 189.2,254.8 189.3,254.6 189.4,254.5 189.5,254.5 189.6,255.0 189.6,255.7 189.7,255.5 189.8,254.8 189.9,254.9 190.0,254.9 190.1,254.4 190.2,253.9 190.3,255.1 190.4,255.0 190.5,255.4 190.5,255.1 190.6,253.9 190.7,254.1 190.8,254.0 190.9,254.1 191.0,254.6 191.1,255.4 191.2,254.8 191.3,254.4 191.4,255.0 191.4,255.0 191.5,254.1 191.6,255.0 191.7,255.3 191.8,255.1 191.9,254.3 192.0,254.1 192.1,254.9 192.2,254.5 192.3,254.9 192.3,255.0 192.4,254.3 192.5,255.7 192.6,255.0 192.7,254.8 192.8,254.9 192.9,254.2 193.0,255.0 193.1,255.4 193.2,254.9 193.2,255.6 193.3,254.6 193.4,254.5 193.5,255.7 193.6,254.1 193.7,254.7 193.8,254.4 193.9,254.0 194.0,253.4 194.1,254.4 194.1,254.7 194.2,254.4 194.3,254.8 194.4,254.5 194.5,255.2 194.6,254.0 194.7,254.3 194.8,254.6 194.9,254.6 195.0,254.2 195.0,254.9 195.1,255.3 195.2,254.8 195.3,254.6 195.4,254.2 195.5,255.2 195.6,254.9 195.7,254.8 195.8,254.7 195.9,254.8 195.9,254.5 196.0,255.1 196.1,255.3 196.2,252.6 196.3,254.0 196.4,254.1 196.5,255.0 196.6,255.1 196.7,254.8 196.8,254.1 196.8,255.4 196.9,254.7 197.0,255.2 197.1,254.7 197.2,255.1 197.3,255.3 197.4,254.3 197.5,255.0 197.6,254.5 197.7,255.0 197.7,254.3 197.8,254.7 197.9,254.9 198.0,254.8 198.1,255.8 198.2,255.3 198.3,255.2 198.4,253.7 198.5,255.2 198.6,254.9 198.6,254.4 198.7,254.6 198.8,254.8 198.9,254.8 199.0,255.5 199.1,253.1 199.2,253.4 199.3,254.6 199.4,250.2 199.5,245.4 199.6,242.4 199.6,238.1 199.7,234.2 199.8,235.7 199.9,233.5 200.0,233.7 200.1,235.0 200.2,233.9 200.3,234.7 200.4,234.0 200.5,233.8 200.5,233.8 200.6,232.3 200.7,233.4 200.8,234.3 200.9,232.0 201.0,233.1 201.1,234.0 201.2,231.9 201.3,232.1 201.4,231.6 201.4,230.9 201.5,230.9 201.6,232.1 201.7,230.5 201.8,232.1 201.9,230.3 202.0,231.7 202.1,231.6 202.2,229.4 202.3,230.4 202.3,230.3 202.4,228.6 202.5,230.0 202.6,228.5 202.7,231.6 202.8,229.6 202.9,228.3 203.0,229.8 203.1,229.0 203.2,228.2 203.2,229.5 203.3,227.5 203.4,229.6 203.5,227.9 203.6,228.5 203.7,227.7 203.8,227.5 203.9,227.5 204.0,227.3 204.1,228.4 204.1,227.1 204.2,227.2 204.3,226.7 204.4,226.9 204.5,226.8 204.6,225.9 204.7,227.4 204.8,226.8 204.9,227.3 205.0,225.8 205.0,226.3 205.1,224.8 205.2,227.5 205.3,226.7 205.4,227.2 205.5,225.3 205.6,226.5 205.7,227.3 205.8,227.1 205.9,227.1 205.9,226.8 206.0,225.9 206.1,225.9 206.2,225.1 206.3,228.0 206.4,226.6 206.5,224.8 206.6,226.0 206.7,225.8 206.8,227.5 206.8,226.1 206.9,224.2 207.0,223.8 207.1,226.3 207.2,223.5 207.3,226.1 207.4,224.6 207.5,224.5 207.6,223.4 207.7,225.9 207.7,224.7 207.8,222.5 207.9,225.3 208.0,223.3 208.1,225.4 208.2,223.2 208.3,223.3 208.4,224.1 208.5,226.7 208.6,226.0 208.6,222.1 208.7,224.8 208.8,225.3 208.9,223.7 209.0,223.6 209.1,225.1 209.2,225.9 209.3,224.2 209.4,223.6 209.5,224.0 209.6,224.2 209.6,224.0 209.7,224.8 209.8,223.9 209.9,224.4 210.0,222.6 210.1,223.1 210.2,224.6 210.3,223.8 210.4,224.8 210.5,221.6 210.5,223.8 210.6,223.9 210.7,224.3 210.8,223.1 210.9,225.0 211.0,222.0 211.1,223.3 211.2,222.4 211.3,222.2 211.4,223.0 211.4,222.8 211.5,225.0 211.6,224.4 211.7,221.9 211.8,223.6 211.9,222.6 212.0,223.9 212.1,223.5 212.2,223.0 212.3,222.8 212.3,224.2 212.4,224.6 212.5,225.5 212.6,222.5 212.7,222.8 212.8,223.3 212.9,222.1 213.0,221.8 213.1,223.5 213.2,222.3 213.2,223.7 213.3,222.8 213.4,222.4 213.5,222.4 213.6,221.3 213.7,221.7 213.8,223.0 213.9,224.8 214.0,223.5 214.1,223.5 214.1,222.5 214.2,222.9 214.3,223.3 214.4,223.0 214.5,223.2 214.6,225.3 214.7,221.9 214.8,221.8 214.9,224.7 215.0,223.1 215.0,224.1 215.1,220.9 215.2,221.3 215.3,223.1 215.4,224.3 215.5,223.3 215.6,223.0 215.7,222.3 215.8,223.6 215.9,223.1 215.9,223.4 216.0,222.4 216.1,223.2 216.2,221.6 216.3,221.7 216.4,223.4 216.5,224.3 216.6,223.0 216.7,224.1 216.8,222.6 216.8,222.7 216.9,222.6 217.0,222.0 217.1,222.1 217.2,222.7 217.3,222.4 217.4,222.0 217.5,223.3 217.6,223.6 217.7,223.2 217.7,223.0 217.8,222.3 217.9,223.4 218.0,222.1 218.1,222.5 218.2,223.7 218.3,223.3 218.4,221.6 218.5,222.2 218.6,221.5 218.6,223.3 218.7,224.5 218.8,222.9 218.9,222.6 219.0,223.8 219.1,222.1 219.2,223.3 219.3,222.7 219.4,222.9 219.5,221.7 219.6,222.1 219.6,224.4 219.7,223.1 219.8,222.6 219.9,222.1 220.0,223.5 220.1,223.3 220.2,223.2 220.3,221.5 220.4,221.9 220.5,224.7 220.5,221.2 220.6,221.7 220.7,224.1 220.8,224.5 220.9,222.8 221.0,221.4 221.1,223.4 221.2,222.5 221.3,222.9 221.4,223.7 221.4,222.6 221.5,222.0 221.6,223.2 221.7,222.8 221.8,221.7 221.9,222.3 222.0,223.0 222.1,221.7 222.2,223.2 222.3,223.5 222.3,224.2 222.4,221.6 222.5,221.6 222.6,221.0 222.7,221.4 222.8,223.2 222.9,222.6 223.0,222.0 223.1,221.6 223.2,223.1 223.2,222.0 223.3,223.0 223.4,223.0 223.5,221.8 223.6,223.8 223.7,222.1 223.8,226.5 223.9,221.8 224.0,223.4 224.1,223.7 224.1,223.0 224.2,231.9 224.3,233.3 224.4,233.2 224.5,233.6 224.6,232.9 224.7,234.3 224.8,231.7 224.9,231.3 225.0,231.3 225.0,231.2 225.1,230.3 225.2,231.5 225.3,230.4 225.4,230.9 225.5,230.4 225.6,229.3 225.7,229.4 225.8,229.1 225.9,227.4 225.9,229.3 226.0,228.0 226.1,228.9 226.2,229.4 226.3,228.4 226.4,228.5 226.5,228.0 226.6,227.6 226.7,227.4 226.8,227.4 226.8,227.6 226.9,227.2 227.0,229.0 227.1,227.3 227.2,225.6 227.3,228.4 227.4,226.3 227.5,226.6 227.6,227.4 227.7,225.8 227.7,226.6 227.8,226.0 227.9,225.7 228.0,226.7 228.1,224.8 228.2,227.6 228.3,226.1 228.4,226.1 228.5,225.7 228.6,225.5 228.6,225.5 228.7,226.4 228.8,225.2 228.9,225.4 229.0,223.9 229.1,225.3 229.2,225.3 229.3,223.5 229.4,223.6 229.5,224.7 229.6,224.7 229.6,223.6 229.7,224.5 229.8,224.7 229.9,224.2 230.0,222.7 230.1,224.1 230.2,225.7 230.3,222.2 230.4,224.3 230.5,222.6 230.5,225.9 230.6,223.0 230.7,222.7 230.8,219.4 230.9,224.8 231.0,223.1 231.1,223.1 231.2,221.7 231.3,222.0 231.4,224.0 231.4,223.4 231.5,223.0 231.6,222.8 231.7,222.8 231.8,223.3 231.9,222.6 232.0,222.6 232.1,220.8 232.2,222.6 232.3,221.6 232.3,221.1 232.4,222.3 232.5,221.3 232.6,222.4 232.7,222.2 232.8,223.4 232.9,221.0 233.0,224.5 233.1,223.6 233.2,221.3 233.2,221.3 233.3,221.5 233.4,221.6 233.5,221.1 233.6,221.2 233.7,222.1 233.8,222.5 233.9,220.6 234.0,218.4 234.1,222.6 234.1,221.1 234.2,221.1 234.3,219.6 234.4,221.9 234.5,221.2 234.6,224.2 234.7,222.2 234.8,220.8 234.9,220.2 235.0,222.0 235.0,221.6 235.1,221.1 235.2,221.4 235.3,221.2 235.4,220.0 235.5,217.8 235.6,222.0 235.7,221.5 235.8,221.8 235.9,223.0 235.9,221.5 236.0,221.4 236.1,222.6 236.2,221.0 236.3,220.7 236.4,221.4 236.5,222.0 236.6,221.2 236.7,221.0 236.8,219.8 236.8,221.0 236.9,221.1 237.0,221.1 237.1,218.3 237.2,223.2 237.3,220.8 237.4,218.9 237.5,220.8 237.6,218.5 237.7,218.5 237.7,219.6 237.8,217.8 237.9,219.8 238.0,220.3 238.1,220.2 238.2,218.4 238.3,218.2 238.4,220.6 238.5,220.0 238.6,219.6 238.6,217.8 238.7,220.0 238.8,217.9 238.9,216.6 239.0,219.6 239.1,219.5 239.2,220.0 239.3,217.7 239.4,218.1 239.5,219.0 239.6,218.4 239.6,216.6 239.7,218.5 239.8,217.0 239.9,220.2 240.0,220.4 240.1,219.5 240.2,217.2 240.3,219.5 240.4,219.9 240.5,218.0 240.5,218.4 240.6,218.0 240.7,219.5 240.8,219.0 240.9,219.0 241.0,219.1 241.1,217.6 241.2,215.5 241.3,218.7 241.4,216.0 241.4,214.9 241.5,217.0 241.6,218.8 241.7,217.3 241.8,217.1 241.9,218.6 242.0,217.6 242.1,216.8 242.2,217.6 242.3,219.0 242.3,217.4 242.4,216.0 242.5,217.0 242.6,218.3 242.7,214.8 242.8,218.8 242.9,216.5 243.0,215.5 243.1,214.5 243.2,217.5 243.2,218.0 243.3,215.2 243.4,216.7 243.5,216.7 243.6,215.8 243.7,217.3 243.8,217.4 243.9,217.1 244.0,217.8 244.1,216.9 244.1,216.2 244.2,216.7 244.3,217.3 244.4,215.6 244.5,213.6 244.6,215.7 244.7,216.2 244.8,218.0 244.9,213.6 245.0,215.3 245.0,216.7 245.1,215.7 245.2,217.0 245.3,216.7 245.4,216.9 245.5,215.8 245.6,217.3 245.7,217.1 245.8,217.1 245.9,214.0 245.9,216.6 246.0,216.6 246.1,214.8 246.2,215.6 246.3,214.1 246.4,216.5 246.5,214.2 246.6,216.0 246.7,214.4 246.8,214.9 246.8,215.4 246.9,217.6 247.0,214.4 247.1,215.5 247.2,212.5 247.3,216.4 247.4,213.4 247.5,212.6 247.6,216.2 247.7,211.9 247.7,213.9 247.8,213.6 247.9,214.1 248.0,213.9 248.1,213.4 248.2,214.8 248.3,215.5 248.4,212.2 248.5,213.5 248.6,215.9 248.6,210.4 248.7,212.1 248.8,213.6 248.9,213.1 249.0,214.8 249.1,213.4 249.2,211.5 249.3,212.5 249.4,212.6 249.5,210.4 249.6,214.2 249.6,215.0 249.7,214.0 249.8,214.1 249.9,212.9 250.0,214.1 250.1,214.7 250.2,214.5 250.3,212.3 250.4,211.5 250.5,207.3 250.5,214.4 250.6,214.1 250.7,211.3 250.8,216.2 250.9,212.4 251.0,212.7 251.1,211.9 251.2,213.9 251.3,214.6 251.4,213.2 251.4,210.9 251.5,212.4 251.6,214.3 251.7,213.5 251.8,211.9 251.9,213.2 252.0,212.6 252.1,210.3 252.2,212.9 252.3,212.9 252.3,212.1 252.4,208.8 252.5,213.3 252.6,217.2 252.7,211.0 252.8,212.8 252.9,210.1 253.0,211.2 253.1,212.7 253.2,214.1 253.2,209.5 253.3,212.2 253.4,211.7 253.5,212.3 253.6,213.3 253.7,212.6 253.8,211.3 253.9,211.3 254.0,211.9 254.1,211.6 254.1,210.8 254.2,212.9 254.3,214.3 254.4,212.3 254.5,209.9 254.6,213.3 254.7,207.5 254.8,211.5 254.9,208.6 255.0,211.6 255.0,213.7 255.1,209.9 255.2,210.2 255.3,209.4 255.4,215.0 255.5,208.8 255.6,211.0 255.7,209.9 255.8,210.4 255.9,210.7 255.9,208.7 256.0,207.4 256.1,210.2 256.2,211.4 256.3,208.1 256.4,208.7 256.5,209.7 256.6,211.3 256.7,210.9 256.8,210.5 256.8,210.1 256.9,208.5 257.0,212.7 257.1,210.3 257.2,208.3 257.3,212.0 257.4,211.1 257.5,211.3 257.6,209.5 257.7,209.3 257.7,210.2 257.8,204.2 257.9,208.9 258.0,210.0 258.1,208.5 258.2,206.4 258.3,210.3 258.4,213.8 258.5,208.4 258.6,206.0 258.6,210.0 258.7,209.2 258.8,209.6 258.9,209.3 259.0,209.8 259.1,209.3 259.2,206.5 259.3,207.5 259.4,209.4 259.5,211.8 259.6,211.7 259.6,208.1 259.7,208.1 259.8,207.9 259.9,207.9 260.0,207.4 260.1,206.9 260.2,209.2 260.3,208.9 260.4,207.2 260.5,210.7 260.5,210.1 260.6,208.9 260.7,208.8 260.8,208.0 260.9,208.2 261.0,207.4 261.1,207.9 261.2,204.2 261.3,209.9 261.4,208.1 261.4,210.3 261.5,210.7 261.6,210.0 261.7,209.7 261.8,209.5 261.9,208.3 262.0,207.7 262.1,208.2 262.2,208.8 262.3,208.4 262.3,205.3 262.4,205.4 262.5,204.2 262.6,210.2 262.7,208.1 262.8,204.1 262.9,205.0 263.0,203.9 263.1,205.1 263.2,206.2 263.2,205.8 263.3,202.0 263.4,204.3 263.5,204.0 263.6,205.9 263.7,209.1 263.8,208.0 263.9,207.4 264.0,208.1 264.1,205.5 264.1,209.0 264.2,207.3 264.3,205.5 264.4,206.7 264.5,205.8 264.6,205.4 264.7,206.9 264.8,202.6 264.9,205.1 265.0,207.5 265.0,203.0 265.1,211.6 265.2,208.5 265.3,206.1 265.4,201.2 265.5,204.9 265.6,204.3 265.7,205.2 265.8,207.7 265.9,204.0 265.9,201.1 266.0,204.5 266.1,205.1 266.2,205.5 266.3,203.9 266.4,203.8 266.5,202.5 266.6,201.8 266.7,205.4 266.8,206.8 266.8,205.9 266.9,206.9 267.0,202.1 267.1,202.2 267.2,206.7 267.3,207.9 267.4,206.4 267.5,205.0 267.6,203.6 267.7,203.0 267.7,203.5 267.8,204.8 267.9,205.7 268.0,201.8 268.1,206.7 268.2,204.6 268.3,205.0 268.4,202.8 268.5,203.8 268.6,205.2 268.6,205.6 268.7,202.9 268.8,200.3 268.9,204.4 269.0,205.5 269.1,201.9 269.2,202.9 269.3,203.1 269.4,205.5 269.5,203.5 269.6,203.9 269.6,203.9 269.7,200.5 269.8,201.1 269.9,202.3 270.0,203.9 270.1,204.0 270.2,198.6 270.3,203.0 270.4,204.5 270.5,204.8 270.5,203.2 270.6,202.0 270.7,208.2 270.8,202.0 270.9,204.3 271.0,206.0 271.1,202.6 271.2,204.0 271.3,202.2 271.4,204.7 271.4,201.3 271.5,198.6 271.6,203.7 271.7,203.4 271.8,205.4 271.9,203.1 272.0,201.1 272.1,201.6 272.2,204.4 272.3,203.5 272.3,204.2 272.4,200.2 272.5,201.5 272.6,198.5 272.7,203.6 272.8,201.4 272.9,201.9 273.0,199.9 273.1,201.7 273.2,202.0 273.2,201.5 273.3,197.5 273.4,199.3 273.5,198.9 273.6,198.8 273.7,201.1 273.8,200.2 273.9,204.1 274.0,202.0 274.1,202.4 274.1,202.4 274.2,201.8 274.3,201.2 274.4,198.7 274.5,201.2 274.6,201.0 274.7,197.1 274.8,201.9 274.9,202.0 275.0,197.8 275.0,203.0 275.1,199.0 275.2,200.5 275.3,198.6 275.4,200.7 275.5,202.2 275.6,201.5 275.7,197.8 275.8,200.1 275.9,201.9 275.9,205.4 276.0,197.9 276.1,201.8 276.2,199.4 276.3,197.2 276.4,193.4 276.5,206.2 276.6,199.7 276.7,201.0 276.8,200.6 276.8,199.3 276.9,195.3 277.0,198.8 277.1,196.5 277.2,196.1 277.3,195.7 277.4,200.0 277.5,199.9 277.6,195.2 277.7,198.4 277.7,197.4 277.8,196.9 277.9,201.3 278.0,200.1 278.1,199.3 278.2,196.6 278.3,198.5 278.4,195.2 278.5,196.5 278.6,198.3 278.6,202.1 278.7,196.9 278.8,196.6 278.9,198.8 279.0,198.7 279.1,199.5 279.2,198.2 279.3,196.3 279.4,198.8 279.5,201.5 279.6,199.2 279.6,201.5 279.7,195.6 279.8,201.8 279.9,196.8 280.0,196.2 280.1,197.7 280.2,194.1 280.3,196.2 280.4,198.4 280.5,197.6 280.5,193.0 280.6,196.2 280.7,197.0 280.8,198.2 280.9,195.2 281.0,197.4 281.1,199.7 281.2,197.2 281.3,197.0 281.4,198.7 281.4,198.4 281.5,194.1 281.6,195.3 281.7,199.7 281.8,203.0 281.9,198.9 282.0,196.4 282.1,196.6 282.2,195.4 282.3,192.8 282.3,194.1 282.4,194.0 282.5,196.0 282.6,196.2 282.7,198.8 282.8,196.1 282.9,197.5 283.0,197.0 283.1,201.7 283.2,196.4 283.2,194.5 283.3,199.1 283.4,193.0 283.5,196.2 283.6,196.2 283.7,195.9 283.8,193.7 283.9,196.0 284.0,198.4 284.1,197.9 284.1,195.8 284.2,196.1 284.3,190.9 284.4,197.3 284.5,196.8 284.6,199.3 284.7,198.4 284.8,202.0 284.9,191.9 285.0,198.2 285.0,192.3 285.1,195.6 285.2,199.2 285.3,197.8 285.4,197.9 285.5,190.2 285.6,194.6 285.7,194.6 285.8,193.6 285.9,191.9 285.9,191.9 286.0,193.9 286.1,191.4 286.2,193.2 286.3,194.6 286.4,194.9 286.5,195.5 286.6,196.4 286.7,196.8 286.8,196.0 286.8,193.0 286.9,196.0 287.0,192.6 287.1,190.1 287.2,195.6 287.3,193.4 287.4,194.0 287.5,196.4 287.6,188.7 287.7,195.1 287.7,192.1 287.8,190.5 287.9,191.5 288.0,194.7 288.1,191.6 288.2,191.0 288.3,196.3 288.4,198.9 288.5,191.9 288.6,194.1 288.6,192.8 288.7,197.6 288.8,194.7 288.9,197.3 289.0,190.6 289.1,190.5 289.2,192.1 289.3,195.1 289.4,191.3 289.5,194.7 289.6,192.5 289.6,203.5 289.7,194.6 289.8,196.7 289.9,196.1 290.0,193.2 290.1,196.8 290.2,191.8 290.3,194.0 290.4,193.3 290.5,193.4 290.5,196.7 290.6,193.4 290.7,188.5 290.8,191.4 290.9,190.0 291.0,192.5 291.1,192.4 291.2,188.9 291.3,194.1 291.4,192.0 291.4,194.2 291.5,194.0 291.6,192.7 291.7,191.1 291.8,191.2 291.9,192.3 292.0,192.6 292.1,191.8 292.2,190.9 292.3,189.1 292.3,191.7 292.4,193.2 292.5,192.7 292.6,193.7 292.7,190.4 292.8,195.3 292.9,189.7 293.0,188.1 293.1,193.7 293.2,188.8 293.2,190.7 293.3,191.6 293.4,193.6 293.5,193.1 293.6,184.1 293.7,188.6 293.8,188.5 293.9,190.1 294.0,192.5 294.1,184.9 294.1,191.3 294.2,186.8 294.3,190.6 294.4,192.7 294.5,192.6 294.6,187.2 294.7,194.6 294.8,192.6 294.9,190.5 295.0,188.7 295.0,190.6 295.1,187.9 295.2,194.1 295.3,186.3 295.4,191.0 295.5,189.8 295.6,189.5 295.7,190.9 295.8,189.5 295.9,193.8 295.9,185.1 296.0,191.4 296.1,190.3 296.2,191.0 296.3,189.2 296.4,189.7 296.5,195.6 296.6,188.6 296.7,192.0 296.8,187.1 296.8,190.3 296.9,193.4 297.0,190.5 297.1,195.6 297.2,188.4 297.3,191.2 297.4,186.4 297.5,193.3 297.6,189.0 297.7,190.3 297.7,188.0 297.8,189.4 297.9,189.7 298.0,189.4 298.1,183.6 298.2,195.5 298.3,185.1 298.4,189.4" fill="none" stroke="#b00c34" stroke-width="0.9" stroke-linejoin="round"/>
<polyline points="189.1,255.3 189.2,256.7 189.3,256.6 189.4,256.5 189.5,256.0 189.6,255.8 189.6,256.0 189.7,256.2 189.8,256.9 189.9,256.3 190.0,256.1 190.1,256.8 190.2,255.8 190.3,256.3 190.4,256.8 190.5,256.5 190.5,256.9 190.6,256.1 190.7,256.4 190.8,256.4 190.9,256.1 191.0,256.5 191.1,255.9 191.2,256.1 191.3,256.4 191.4,255.8 191.4,256.1 191.5,256.8 191.6,256.1 191.7,256.9 191.8,257.1 191.9,256.5 192.0,255.6 192.1,255.2 192.2,255.4 192.3,256.1 192.3,255.8 192.4,257.2 192.5,256.2 192.6,256.6 192.7,256.1 192.8,256.0 192.9,255.2 193.0,256.6 193.1,256.5 193.2,256.3 193.2,256.2 193.3,255.7 193.4,256.7 193.5,255.4 193.6,256.4 193.7,256.6 193.8,256.4 193.9,256.5 194.0,256.1 194.1,256.8 194.1,255.7 194.2,255.8 194.3,256.0 194.4,256.5 194.5,256.7 194.6,256.4 194.7,256.7 194.8,255.4 194.9,255.5 195.0,256.4 195.0,255.6 195.1,256.1 195.2,256.5 195.3,256.0 195.4,256.3 195.5,256.5 195.6,255.9 195.7,256.2 195.8,256.3 195.9,256.2 195.9,256.4 196.0,256.6 196.1,256.0 196.2,256.3 196.3,256.6 196.4,256.8 196.5,256.4 196.6,256.6 196.7,256.0 196.8,255.9 196.8,257.2 196.9,255.5 197.0,256.2 197.1,255.0 197.2,256.1 197.3,256.5 197.4,256.1 197.5,256.4 197.6,256.4 197.7,256.5 197.7,256.4 197.8,256.4 197.9,256.2 198.0,256.1 198.1,256.3 198.2,256.7 198.3,256.1 198.4,257.0 198.5,256.3 198.6,256.0 198.6,256.1 198.7,255.8 198.8,257.1 198.9,256.4 199.0,256.9 199.1,257.2 199.2,254.6 199.3,256.7 199.4,253.0 199.5,248.0 199.6,246.6 199.6,241.8 199.7,239.1 199.8,237.8 199.9,239.5 200.0,237.5 200.1,237.9 200.2,237.1 200.3,236.9 200.4,236.1 200.5,238.2 200.5,237.2 200.6,235.0 200.7,237.6 200.8,235.1 200.9,235.7 201.0,235.9 201.1,235.9 201.2,235.8 201.3,236.7 201.4,235.0 201.4,234.4 201.5,236.0 201.6,235.0 201.7,235.2 201.8,234.6 201.9,235.4 202.0,235.2 202.1,234.0 202.2,233.4 202.3,234.1 202.3,233.0 202.4,234.2 202.5,231.7 202.6,234.8 202.7,233.9 202.8,232.1 202.9,233.4 203.0,232.6 203.1,232.8 203.2,231.5 203.2,231.9 203.3,233.0 203.4,232.9 203.5,231.1 203.6,232.1 203.7,232.1 203.8,233.0 203.9,231.5 204.0,231.2 204.1,228.4 204.1,229.9 204.2,232.5 204.3,231.8 204.4,230.9 204.5,231.7 204.6,230.3 204.7,231.3 204.8,231.3 204.9,229.7 205.0,230.2 205.0,229.2 205.1,229.8 205.2,229.6 205.3,231.0 205.4,229.8 205.5,231.0 205.6,230.2 205.7,229.6 205.8,230.3 205.9,230.1 205.9,231.4 206.0,230.3 206.1,229.5 206.2,228.2 206.3,229.5 206.4,230.3 206.5,228.1 206.6,229.7 206.7,229.3 206.8,227.8 206.8,229.0 206.9,229.8 207.0,229.2 207.1,227.2 207.2,228.1 207.3,229.9 207.4,228.3 207.5,229.3 207.6,228.1 207.7,228.7 207.7,229.0 207.8,227.0 207.9,229.4 208.0,228.0 208.1,229.2 208.2,227.9 208.3,229.0 208.4,229.1 208.5,229.1 208.6,228.7 208.6,228.0 208.7,228.5 208.8,228.4 208.9,227.7 209.0,228.6 209.1,227.5 209.2,227.4 209.3,226.7 209.4,227.0 209.5,227.2 209.6,228.4 209.6,226.6 209.7,226.6 209.8,228.6 209.9,226.5 210.0,227.9 210.1,227.9 210.2,226.0 210.3,227.2 210.4,226.3 210.5,226.0 210.5,227.4 210.6,226.1 210.7,226.2 210.8,226.6 210.9,226.6 211.0,226.6 211.1,228.0 211.2,226.1 211.3,226.9 211.4,227.2 211.4,227.7 211.5,226.2 211.6,226.4 211.7,228.0 211.8,227.7 211.9,226.4 212.0,225.6 212.1,227.5 212.2,225.5 212.3,226.1 212.3,225.8 212.4,226.9 212.5,226.5 212.6,226.6 212.7,226.5 212.8,226.3 212.9,226.0 213.0,227.4 213.1,225.6 213.2,225.2 213.2,225.6 213.3,224.4 213.4,226.0 213.5,226.5 213.6,225.9 213.7,225.8 213.8,227.5 213.9,224.9 214.0,224.5 214.1,226.1 214.1,225.3 214.2,225.7 214.3,226.9 214.4,225.8 214.5,225.6 214.6,227.2 214.7,225.6 214.8,225.7 214.9,223.9 215.0,225.6 215.0,226.1 215.1,225.4 215.2,225.1 215.3,227.0 215.4,226.1 215.5,224.3 215.6,226.0 215.7,225.7 215.8,226.3 215.9,224.0 215.9,224.7 216.0,225.8 216.1,225.7 216.2,225.0 216.3,224.9 216.4,226.3 216.5,225.7 216.6,224.2 216.7,225.0 216.8,225.2 216.8,225.8 216.9,224.8 217.0,224.9 217.1,225.5 217.2,226.0 217.3,225.4 217.4,224.0 217.5,224.6 217.6,225.1 217.7,224.5 217.7,226.0 217.8,224.4 217.9,224.7 218.0,225.3 218.1,226.4 218.2,225.5 218.3,224.3 218.4,225.4 218.5,223.6 218.6,224.6 218.6,224.7 218.7,225.3 218.8,224.4 218.9,225.8 219.0,224.6 219.1,225.8 219.2,225.3 219.3,224.9 219.4,225.7 219.5,225.3 219.6,225.2 219.6,224.6 219.7,224.7 219.8,224.3 219.9,224.6 220.0,225.3 220.1,224.7 220.2,225.0 220.3,224.6 220.4,224.8 220.5,224.8 220.5,223.9 220.6,224.5 220.7,224.5 220.8,224.9 220.9,225.2 221.0,224.8 221.1,223.9 221.2,224.9 221.3,224.4 221.4,225.1 221.4,225.8 221.5,225.3 221.6,223.4 221.7,225.9 221.8,225.5 221.9,223.3 222.0,224.8 222.1,224.2 222.2,224.2 222.3,225.4 222.3,225.8 222.4,224.8 222.5,224.1 222.6,225.9 222.7,226.2 222.8,224.9 222.9,225.4 223.0,225.3 223.1,224.2 223.2,225.0 223.2,226.0 223.3,223.9 223.4,224.7 223.5,224.1 223.6,223.9 223.7,224.8 223.8,224.4 223.9,223.8 224.0,226.6 224.1,225.3 224.1,222.6 224.2,235.8 224.3,237.4 224.4,236.6 224.5,237.5 224.6,236.8 224.7,237.0 224.8,235.7 224.9,235.8 225.0,235.6 225.0,235.4 225.1,234.4 225.2,235.9 225.3,234.3 225.4,233.4 225.5,234.4 225.6,233.8 225.7,234.4 225.8,233.6 225.9,233.8 225.9,233.9 226.0,233.4 226.1,233.6 226.2,232.5 226.3,232.5 226.4,232.9 226.5,232.2 226.6,232.3 226.7,231.5 226.8,231.8 226.8,231.8 226.9,232.2 227.0,232.2 227.1,230.8 227.2,232.7 227.3,231.1 227.4,232.0 227.5,230.1 227.6,231.4 227.7,231.8 227.7,231.0 227.8,230.4 227.9,228.0 228.0,231.3 228.1,230.5 228.2,229.4 228.3,230.3 228.4,229.2 228.5,229.7 228.6,231.3 228.6,232.4 228.7,229.5 228.8,230.6 228.9,228.1 229.0,229.2 229.1,230.3 229.2,230.1 229.3,230.3 229.4,228.0 229.5,228.7 229.6,230.2 229.6,229.4 229.7,228.0 229.8,229.1 229.9,230.0 230.0,229.8 230.1,229.2 230.2,228.2 230.3,229.4 230.4,228.7 230.5,227.5 230.5,228.3 230.6,229.5 230.7,230.0 230.8,229.6 230.9,228.5 231.0,228.2 231.1,229.4 231.2,228.1 231.3,229.7 231.4,227.8 231.4,228.9 231.5,227.8 231.6,227.9 231.7,226.4 231.8,229.2 231.9,228.5 232.0,228.6 232.1,226.2 232.2,228.7 232.3,229.4 232.3,228.6 232.4,228.0 232.5,227.0 232.6,229.5 232.7,229.0 232.8,227.1 232.9,226.9 233.0,228.0 233.1,227.2 233.2,227.4 233.2,228.6 233.3,227.4 233.4,227.8 233.5,227.9 233.6,228.1 233.7,228.8 233.8,227.4 233.9,228.2 234.0,226.6 234.1,227.8 234.1,227.6 234.2,228.5 234.3,227.6 234.4,225.9 234.5,226.3 234.6,227.8 234.7,225.8 234.8,227.1 234.9,228.1 235.0,227.0 235.0,226.4 235.1,226.4 235.2,227.9 235.3,226.1 235.4,227.9 235.5,225.9 235.6,226.8 235.7,227.7 235.8,226.1 235.9,226.3 235.9,226.1 236.0,227.7 236.1,226.9 236.2,228.0 236.3,224.1 236.4,226.3 236.5,226.4 236.6,227.0 236.7,226.3 236.8,226.0 236.8,227.5 236.9,226.3 237.0,226.5 237.1,225.5 237.2,227.1 237.3,225.9 237.4,224.0 237.5,226.7 237.6,225.4 237.7,227.3 237.7,224.5 237.8,226.9 237.9,226.3 238.0,225.9 238.1,225.2 238.2,225.5 238.3,226.5 238.4,227.2 238.5,225.1 238.6,224.7 238.6,225.9 238.7,225.1 238.8,226.2 238.9,225.4 239.0,225.6 239.1,226.3 239.2,224.8 239.3,227.1 239.4,225.7 239.5,225.5 239.6,226.7 239.6,225.8 239.7,224.5 239.8,226.1 239.9,224.8 240.0,226.2 240.1,224.5 240.2,224.1 240.3,224.8 240.4,221.9 240.5,225.3 240.5,226.3 240.6,225.4 240.7,224.3 240.8,225.4 240.9,224.5 241.0,224.6 241.1,226.0 241.2,225.2 241.3,225.0 241.4,224.8 241.4,226.2 241.5,224.8 241.6,222.6 241.7,227.3 241.8,224.2 241.9,225.5 242.0,225.0 242.1,225.4 242.2,224.9 242.3,225.4 242.3,224.8 242.4,225.3 242.5,224.2 242.6,225.5 242.7,225.4 242.8,224.0 242.9,225.0 243.0,224.1 243.1,227.9 243.2,224.3 243.2,223.9 243.3,226.0 243.4,224.5 243.5,225.1 243.6,226.1 243.7,224.7 243.8,224.4 243.9,222.8 244.0,224.7 244.1,225.5 244.1,223.6 244.2,224.6 244.3,225.2 244.4,224.0 244.5,225.4 244.6,224.9 244.7,223.4 244.8,224.8 244.9,224.6 245.0,224.7 245.0,223.4 245.1,223.7 245.2,223.6 245.3,225.7 245.4,222.6 245.5,225.3 245.6,225.9 245.7,221.3 245.8,223.7 245.9,220.9 245.9,224.6 246.0,225.0 246.1,224.5 246.2,222.6 246.3,223.6 246.4,222.3 246.5,225.1 246.6,224.7 246.7,223.3 246.8,223.7 246.8,223.4 246.9,223.7 247.0,223.5 247.1,223.2 247.2,226.4 247.3,224.4 247.4,222.8 247.5,223.2 247.6,223.4 247.7,221.4 247.7,224.7 247.8,223.1 247.9,222.4 248.0,222.7 248.1,221.3 248.2,226.1 248.3,220.4 248.4,221.9 248.5,223.7 248.6,223.0 248.6,221.5 248.7,222.9 248.8,223.1 248.9,222.1 249.0,223.3 249.1,223.0 249.2,223.3 249.3,220.5 249.4,222.9 249.5,222.1 249.6,222.9 249.6,223.1 249.7,221.8 249.8,222.3 249.9,221.6 250.0,222.4 250.1,223.3 250.2,221.6 250.3,222.3 250.4,223.8 250.5,221.3 250.5,221.6 250.6,223.0 250.7,222.2 250.8,223.6 250.9,221.5 251.0,221.8 251.1,222.5 251.2,221.9 251.3,221.3 251.4,221.3 251.4,223.8 251.5,219.5 251.6,221.2 251.7,223.3 251.8,221.3 251.9,221.8 252.0,222.5 252.1,223.2 252.2,221.4 252.3,221.0 252.3,221.6 252.4,223.6 252.5,221.4 252.6,222.9 252.7,222.4 252.8,221.4 252.9,221.6 253.0,220.5 253.1,220.0 253.2,222.3 253.2,222.1 253.3,220.6 253.4,222.5 253.5,220.2 253.6,222.9 253.7,220.8 253.8,222.2 253.9,221.4 254.0,219.8 254.1,221.1 254.1,220.6 254.2,218.3 254.3,221.7 254.4,220.4 254.5,223.5 254.6,219.9 254.7,219.7 254.8,220.6 254.9,219.9 255.0,220.1 255.0,220.3 255.1,219.5 255.2,220.9 255.3,220.8 255.4,222.0 255.5,216.8 255.6,221.1 255.7,219.9 255.8,222.1 255.9,221.0 255.9,222.1 256.0,220.8 256.1,220.0 256.2,220.7 256.3,220.0 256.4,219.6 256.5,220.8 256.6,221.3 256.7,223.4 256.8,218.6 256.8,220.8 256.9,219.8 257.0,219.2 257.1,220.0 257.2,221.4 257.3,222.1 257.4,220.9 257.5,220.8 257.6,221.5 257.7,219.4 257.7,221.8 257.8,218.6 257.9,220.6 258.0,220.5 258.1,219.7 258.2,224.8 258.3,219.6 258.4,220.2 258.5,218.8 258.6,219.4 258.6,215.4 258.7,221.5 258.8,218.7 258.9,220.5 259.0,218.5 259.1,219.4 259.2,221.1 259.3,216.2 259.4,220.2 259.5,219.1 259.6,219.6 259.6,218.5 259.7,219.1 259.8,218.8 259.9,218.6 260.0,219.4 260.1,221.3 260.2,220.5 260.3,221.6 260.4,220.3 260.5,219.6 260.5,221.1 260.6,220.0 260.7,220.2 260.8,219.9 260.9,217.9 261.0,218.9 261.1,217.8 261.2,218.9 261.3,219.8 261.4,217.8 261.4,219.4 261.5,220.2 261.6,220.6 261.7,220.7 261.8,218.1 261.9,217.8 262.0,219.0 262.1,220.2 262.2,221.4 262.3,218.7 262.3,218.8 262.4,219.5 262.5,218.2 262.6,218.1 262.7,220.0 262.8,218.4 262.9,217.1 263.0,218.5 263.1,217.6 263.2,218.1 263.2,219.5 263.3,219.8 263.4,219.2 263.5,217.6 263.6,218.4 263.7,220.0 263.8,219.0 263.9,220.1 264.0,219.3 264.1,219.5 264.1,217.8 264.2,216.4 264.3,218.5 264.4,217.9 264.5,218.0 264.6,215.6 264.7,217.4 264.8,218.0 264.9,216.9 265.0,219.7 265.0,218.4 265.1,217.0 265.2,217.9 265.3,216.7 265.4,217.6 265.5,218.4 265.6,217.3 265.7,218.3 265.8,217.8 265.9,217.5 265.9,218.8 266.0,217.4 266.1,215.7 266.2,217.5 266.3,217.7 266.4,216.2 266.5,217.0 266.6,216.3 266.7,215.7 266.8,218.9 266.8,213.8 266.9,217.5 267.0,218.4 267.1,218.1 267.2,217.5 267.3,216.7 267.4,216.7 267.5,215.6 267.6,215.2 267.7,219.1 267.7,217.1 267.8,218.2 267.9,215.2 268.0,214.1 268.1,215.3 268.2,218.4 268.3,215.3 268.4,217.7 268.5,219.7 268.6,218.1 268.6,216.5 268.7,217.4 268.8,215.4 268.9,217.2 269.0,216.7 269.1,220.5 269.2,217.9 269.3,216.0 269.4,215.5 269.5,215.1 269.6,217.3 269.6,216.6 269.7,219.4 269.8,214.5 269.9,218.2 270.0,215.1 270.1,217.1 270.2,213.6 270.3,216.2 270.4,216.5 270.5,216.8 270.5,215.4 270.6,220.1 270.7,217.5 270.8,216.8 270.9,215.8 271.0,218.9 271.1,214.7 271.2,215.7 271.3,214.0 271.4,214.1 271.4,213.4 271.5,216.0 271.6,216.9 271.7,213.3 271.8,217.3 271.9,216.1 272.0,218.4 272.1,214.8 272.2,215.9 272.3,217.2 272.3,214.2 272.4,216.3 272.5,214.7 272.6,216.8 272.7,214.3 272.8,212.6 272.9,215.9 273.0,215.0 273.1,217.9 273.2,214.7 273.2,216.5 273.3,214.0 273.4,217.1 273.5,214.9 273.6,214.7 273.7,215.8 273.8,214.0 273.9,215.0 274.0,214.6 274.1,215.4 274.1,213.8 274.2,213.6 274.3,215.5 274.4,215.7 274.5,215.7 274.6,216.0 274.7,213.5 274.8,216.8 274.9,213.4 275.0,213.9 275.0,214.7 275.1,214.6 275.2,215.3 275.3,215.2 275.4,212.6 275.5,213.7 275.6,216.1 275.7,214.9 275.8,213.5 275.9,216.6 275.9,213.4 276.0,214.7 276.1,214.4 276.2,214.1 276.3,213.9 276.4,213.5 276.5,213.5 276.6,215.7 276.7,215.3 276.8,213.8 276.8,213.8 276.9,213.8 277.0,213.4 277.1,212.3 277.2,213.1 277.3,214.1 277.4,216.5 277.5,214.0 277.6,212.4 277.7,213.4 277.7,213.2 277.8,214.6 277.9,212.1 278.0,213.8 278.1,213.6 278.2,214.6 278.3,213.3 278.4,213.3 278.5,213.3 278.6,214.5 278.6,212.1 278.7,213.4 278.8,213.6 278.9,214.4 279.0,215.9 279.1,214.2 279.2,212.5 279.3,217.3 279.4,215.7 279.5,212.6 279.6,211.5 279.6,211.8 279.7,214.8 279.8,213.4 279.9,214.2 280.0,213.9 280.1,211.5 280.2,212.2 280.3,210.0 280.4,209.9 280.5,213.6 280.5,213.5 280.6,212.0 280.7,211.6 280.8,211.4 280.9,211.8 281.0,212.5 281.1,212.0 281.2,213.2 281.3,216.0 281.4,212.9 281.4,215.5 281.5,209.6 281.6,214.6 281.7,211.7 281.8,212.9 281.9,214.9 282.0,211.9 282.1,210.5 282.2,211.2 282.3,214.4 282.3,212.5 282.4,214.4 282.5,212.0 282.6,211.9 282.7,213.3 282.8,212.2 282.9,210.6 283.0,211.9 283.1,213.7 283.2,212.7 283.2,211.1 283.3,209.5 283.4,213.4 283.5,210.7 283.6,212.3 283.7,212.0 283.8,213.8 283.9,212.7 284.0,214.3 284.1,214.3 284.1,214.2 284.2,212.6 284.3,214.9 284.4,212.7 284.5,210.9 284.6,211.3 284.7,214.6 284.8,214.6 284.9,212.2 285.0,209.5 285.0,208.5 285.1,212.8 285.2,209.3 285.3,207.5 285.4,211.8 285.5,208.1 285.6,213.0 285.7,212.6 285.8,212.6 285.9,212.9 285.9,210.5 286.0,212.5 286.1,212.8 286.2,212.5 286.3,212.6 286.4,212.2 286.5,212.6 286.6,209.1 286.7,210.9 286.8,210.0 286.8,211.1 286.9,213.5 287.0,213.2 287.1,211.3 287.2,208.8 287.3,211.1 287.4,211.5 287.5,212.2 287.6,210.9 287.7,212.1 287.7,210.8 287.8,213.0 287.9,210.9 288.0,212.9 288.1,210.5 288.2,209.8 288.3,211.1 288.4,209.9 288.5,210.1 288.6,209.7 288.6,211.4 288.7,209.3 288.8,211.7 288.9,210.0 289.0,210.3 289.1,212.9 289.2,210.5 289.3,210.6 289.4,211.3 289.5,207.9 289.6,210.3 289.6,210.7 289.7,209.6 289.8,207.7 289.9,210.6 290.0,211.4 290.1,209.3 290.2,211.3 290.3,211.1 290.4,210.0 290.5,208.5 290.5,210.2 290.6,209.0 290.7,206.8 290.8,210.0 290.9,210.8 291.0,210.3 291.1,208.5 291.2,210.3 291.3,207.7 291.4,211.6 291.4,212.5 291.5,210.4 291.6,212.5 291.7,212.2 291.8,211.1 291.9,209.9 292.0,210.5 292.1,208.8 292.2,209.7 292.3,209.2 292.3,207.5 292.4,207.2 292.5,206.9 292.6,208.7 292.7,209.9 292.8,210.6 292.9,210.2 293.0,206.4 293.1,210.4 293.2,211.1 293.2,208.6 293.3,207.9 293.4,212.5 293.5,208.8 293.6,209.8 293.7,211.5 293.8,207.8 293.9,210.9 294.0,208.2 294.1,209.6 294.1,208.1 294.2,210.9 294.3,208.2 294.4,206.7 294.5,208.4 294.6,209.6 294.7,207.7 294.8,212.7 294.9,212.6 295.0,208.7 295.0,207.3 295.1,206.0 295.2,205.6 295.3,206.4 295.4,208.8 295.5,209.1 295.6,208.0 295.7,208.3 295.8,209.9 295.9,208.7 295.9,208.6 296.0,206.9 296.1,205.9 296.2,209.5 296.3,209.9 296.4,210.2 296.5,206.8 296.6,209.2 296.7,208.6 296.8,209.4 296.8,209.5 296.9,209.6 297.0,208.8 297.1,208.0 297.2,207.6 297.3,209.2 297.4,211.2 297.5,207.3 297.6,207.1 297.7,208.4 297.7,207.9 297.8,206.2 297.9,207.8 298.0,208.7 298.1,205.8 298.2,206.5 298.3,209.1 298.4,208.5" fill="none" stroke="#66aae2" stroke-width="0.9" stroke-linejoin="round"/>
<line x1="188.90" y1="180.10" x2="188.90" y2="260.30" stroke="#111" stroke-width="1.3"/>
<line x1="188.30" y1="259.70" x2="299.20" y2="259.70" stroke="#111" stroke-width="1.3"/>
<line x1="185.90" y1="256.50" x2="188.90" y2="256.50" stroke="#1c1c1c" stroke-width="1.0"/>
<text x="182.60" y="259.40" font-size="9.07" text-anchor="end" textLength="14.0" lengthAdjust="spacingAndGlyphs">100</text>
<line x1="187.30" y1="252.85" x2="188.90" y2="252.85" stroke="#1c1c1c" stroke-width="0.9"/>
<line x1="187.30" y1="249.20" x2="188.90" y2="249.20" stroke="#1c1c1c" stroke-width="0.9"/>
<line x1="187.30" y1="245.55" x2="188.90" y2="245.55" stroke="#1c1c1c" stroke-width="0.9"/>
<line x1="185.90" y1="241.90" x2="188.90" y2="241.90" stroke="#1c1c1c" stroke-width="1.0"/>
<text x="182.60" y="244.80" font-size="9.07" text-anchor="end" textLength="14.0" lengthAdjust="spacingAndGlyphs">200</text>
<line x1="187.30" y1="238.25" x2="188.90" y2="238.25" stroke="#1c1c1c" stroke-width="0.9"/>
<line x1="187.30" y1="234.60" x2="188.90" y2="234.60" stroke="#1c1c1c" stroke-width="0.9"/>
<line x1="187.30" y1="230.95" x2="188.90" y2="230.95" stroke="#1c1c1c" stroke-width="0.9"/>
<line x1="185.90" y1="227.30" x2="188.90" y2="227.30" stroke="#1c1c1c" stroke-width="1.0"/>
<text x="182.60" y="230.20" font-size="9.07" text-anchor="end" textLength="14.0" lengthAdjust="spacingAndGlyphs">300</text>
<line x1="187.30" y1="223.65" x2="188.90" y2="223.65" stroke="#1c1c1c" stroke-width="0.9"/>
<line x1="187.30" y1="220.00" x2="188.90" y2="220.00" stroke="#1c1c1c" stroke-width="0.9"/>
<line x1="187.30" y1="216.35" x2="188.90" y2="216.35" stroke="#1c1c1c" stroke-width="0.9"/>
<line x1="185.90" y1="212.70" x2="188.90" y2="212.70" stroke="#1c1c1c" stroke-width="1.0"/>
<text x="182.60" y="215.60" font-size="9.07" text-anchor="end" textLength="14.0" lengthAdjust="spacingAndGlyphs">400</text>
<line x1="187.30" y1="209.05" x2="188.90" y2="209.05" stroke="#1c1c1c" stroke-width="0.9"/>
<line x1="187.30" y1="205.40" x2="188.90" y2="205.40" stroke="#1c1c1c" stroke-width="0.9"/>
<line x1="187.30" y1="201.75" x2="188.90" y2="201.75" stroke="#1c1c1c" stroke-width="0.9"/>
<line x1="185.90" y1="198.10" x2="188.90" y2="198.10" stroke="#1c1c1c" stroke-width="1.0"/>
<text x="182.60" y="201.00" font-size="9.07" text-anchor="end" textLength="14.0" lengthAdjust="spacingAndGlyphs">500</text>
<line x1="187.30" y1="194.45" x2="188.90" y2="194.45" stroke="#1c1c1c" stroke-width="0.9"/>
<line x1="187.30" y1="190.80" x2="188.90" y2="190.80" stroke="#1c1c1c" stroke-width="0.9"/>
<line x1="187.30" y1="187.15" x2="188.90" y2="187.15" stroke="#1c1c1c" stroke-width="0.9"/>
<line x1="185.90" y1="183.50" x2="188.90" y2="183.50" stroke="#1c1c1c" stroke-width="1.0"/>
<text x="182.60" y="186.40" font-size="9.07" text-anchor="end" textLength="14.0" lengthAdjust="spacingAndGlyphs">600</text>
<line x1="197.29" y1="259.70" x2="197.29" y2="261.50" stroke="#1c1c1c" stroke-width="0.9"/>
<line x1="205.48" y1="259.70" x2="205.48" y2="261.50" stroke="#1c1c1c" stroke-width="0.9"/>
<line x1="213.67" y1="259.70" x2="213.67" y2="261.50" stroke="#1c1c1c" stroke-width="0.9"/>
<line x1="221.86" y1="259.70" x2="221.86" y2="262.90" stroke="#1c1c1c" stroke-width="1.0"/>
<text x="221.86" y="274.00" font-size="9.07" text-anchor="middle" textLength="14.0" lengthAdjust="spacingAndGlyphs">200</text>
<line x1="230.05" y1="259.70" x2="230.05" y2="261.50" stroke="#1c1c1c" stroke-width="0.9"/>
<line x1="238.24" y1="259.70" x2="238.24" y2="261.50" stroke="#1c1c1c" stroke-width="0.9"/>
<line x1="246.43" y1="259.70" x2="246.43" y2="261.50" stroke="#1c1c1c" stroke-width="0.9"/>
<line x1="254.62" y1="259.70" x2="254.62" y2="262.90" stroke="#1c1c1c" stroke-width="1.0"/>
<text x="254.62" y="274.00" font-size="9.07" text-anchor="middle" textLength="14.0" lengthAdjust="spacingAndGlyphs">400</text>
<line x1="262.81" y1="259.70" x2="262.81" y2="261.50" stroke="#1c1c1c" stroke-width="0.9"/>
<line x1="271.00" y1="259.70" x2="271.00" y2="261.50" stroke="#1c1c1c" stroke-width="0.9"/>
<line x1="279.19" y1="259.70" x2="279.19" y2="261.50" stroke="#1c1c1c" stroke-width="0.9"/>
<line x1="287.38" y1="259.70" x2="287.38" y2="262.90" stroke="#1c1c1c" stroke-width="1.0"/>
<text x="287.38" y="274.00" font-size="9.07" text-anchor="middle" textLength="14.0" lengthAdjust="spacingAndGlyphs">600</text>
<line x1="295.57" y1="259.70" x2="295.57" y2="261.50" stroke="#1c1c1c" stroke-width="0.9"/>
<text x="230.00" y="287.70" font-size="10.37" textLength="28.2" lengthAdjust="spacingAndGlyphs">Time (s)</text>
<text x="175.60" y="163.10" font-size="8.21" textLength="28.2" lengthAdjust="spacingAndGlyphs">KIM127</text>
<text x="162.80" y="218.70" font-size="11.45" text-anchor="middle" transform="rotate(-90 162.80 218.70)" textLength="13.3" lengthAdjust="spacingAndGlyphs">MFI</text>
<text x="301.40" y="189.50" font-size="8.64" textLength="11.4" lengthAdjust="spacingAndGlyphs">WT</text>
<text x="301.40" y="212.30" font-size="8.64" textLength="20.6" lengthAdjust="spacingAndGlyphs">K3KO</text>
<text x="301.40" y="228.00" font-size="8.64" textLength="20.4" lengthAdjust="spacingAndGlyphs">β2KO</text>
<text x="193.50" y="216.90" font-size="8.1" textLength="10.8" lengthAdjust="spacingAndGlyphs">Ab</text>
<line x1="199.10" y1="219.20" x2="199.10" y2="224.00" stroke="#000" stroke-width="1.0"/>
<path d="M196.70 222.00L201.50 222.00L199.10 227.00Z" fill="#000"/>
<text x="216.70" y="206.10" font-size="8.1" textLength="13.4" lengthAdjust="spacingAndGlyphs">IL-8</text>
<line x1="223.20" y1="210.60" x2="223.20" y2="215.50" stroke="#000" stroke-width="1.0"/>
<path d="M220.80 213.50L225.60 213.50L223.20 218.50Z" fill="#000"/>
<rect x="392.00" y="54.99" width="22.30" height="59.30" fill="#a3002a"/>
<line x1="403.15" y1="46.50" x2="403.15" y2="55.49" stroke="#111" stroke-width="1.0"/>
<line x1="396.85" y1="46.50" x2="409.45" y2="46.50" stroke="#111" stroke-width="1.1"/>
<circle cx="400.20" cy="36.50" r="1.8" fill="#000"/>
<circle cx="406.50" cy="39.00" r="1.8" fill="#000"/>
<circle cx="403.50" cy="52.90" r="1.8" fill="#000"/>
<circle cx="403.50" cy="64.80" r="1.8" fill="#000"/>
<circle cx="403.50" cy="78.70" r="1.8" fill="#000"/>
<line x1="403.15" y1="114.30" x2="403.15" y2="117.50" stroke="#1c1c1c" stroke-width="1.0"/>
<rect x="428.70" y="90.99" width="23.10" height="23.31" fill="#6ca8dd"/>
<line x1="440.25" y1="86.50" x2="440.25" y2="91.49" stroke="#111" stroke-width="1.0"/>
<line x1="433.95" y1="86.50" x2="446.55" y2="86.50" stroke="#111" stroke-width="1.1"/>
<rect x="438.45" y="78.45" width="3.30" height="3.30" fill="#000"/>
<rect x="435.15" y="86.55" width="3.30" height="3.30" fill="#000"/>
<rect x="441.95" y="86.55" width="3.30" height="3.30" fill="#000"/>
<rect x="438.45" y="92.85" width="3.30" height="3.30" fill="#000"/>
<rect x="438.45" y="97.45" width="3.30" height="3.30" fill="#000"/>
<line x1="440.25" y1="114.30" x2="440.25" y2="117.50" stroke="#1c1c1c" stroke-width="1.0"/>
<rect x="465.30" y="100.80" width="23.10" height="13.50" fill="#68a642"/>
<line x1="476.85" y1="95.30" x2="476.85" y2="101.30" stroke="#111" stroke-width="1.0"/>
<line x1="470.55" y1="95.30" x2="483.15" y2="95.30" stroke="#111" stroke-width="1.1"/>
<path d="M477.00 92.26L478.95 95.66L475.05 95.66Z"/>
<path d="M477.00 96.06L478.95 99.46L475.05 99.46Z"/>
<path d="M477.00 107.46L478.95 110.86L475.05 110.86Z"/>
<line x1="476.85" y1="114.30" x2="476.85" y2="117.50" stroke="#1c1c1c" stroke-width="1.0"/>
<line x1="379.00" y1="29.80" x2="379.00" y2="114.90" stroke="#111" stroke-width="1.4"/>
<line x1="378.40" y1="114.30" x2="511.30" y2="114.30" stroke="#111" stroke-width="1.4"/>
<line x1="375.60" y1="114.30" x2="379.00" y2="114.30" stroke="#1c1c1c" stroke-width="1.0"/>
<text x="372.60" y="117.30" font-size="8.96" text-anchor="end" textLength="4.6" lengthAdjust="spacingAndGlyphs">0</text>
<line x1="375.60" y1="93.85" x2="379.00" y2="93.85" stroke="#1c1c1c" stroke-width="1.0"/>
<text x="372.60" y="96.85" font-size="8.96" text-anchor="end" textLength="9.2" lengthAdjust="spacingAndGlyphs">50</text>
<line x1="375.60" y1="73.40" x2="379.00" y2="73.40" stroke="#1c1c1c" stroke-width="1.0"/>
<text x="372.60" y="76.40" font-size="8.96" text-anchor="end" textLength="13.9" lengthAdjust="spacingAndGlyphs">100</text>
<line x1="375.60" y1="52.95" x2="379.00" y2="52.95" stroke="#1c1c1c" stroke-width="1.0"/>
<text x="372.60" y="55.95" font-size="8.96" text-anchor="end" textLength="13.9" lengthAdjust="spacingAndGlyphs">150</text>
<line x1="375.60" y1="32.50" x2="379.00" y2="32.50" stroke="#1c1c1c" stroke-width="1.0"/>
<text x="372.60" y="35.50" font-size="8.96" text-anchor="end" textLength="13.9" lengthAdjust="spacingAndGlyphs">200</text>
<text x="352.90" y="72.00" font-size="9.72" text-anchor="middle" transform="rotate(-90 352.90 72.00)" textLength="22.0" lengthAdjust="spacingAndGlyphs">Δ MFI</text>
<text x="357.00" y="19.20" font-size="7.88" textLength="27.6" lengthAdjust="spacingAndGlyphs">mAb24</text>
<line x1="403.50" y1="16.50" x2="476.20" y2="16.50" stroke="#333333" stroke-width="1.25"/>
<path d="M433.05 8.90L433.55 10.11L434.86 10.21L433.86 11.06L434.17 12.34L433.05 11.65L431.93 12.34L432.24 11.06L431.24 10.21L432.55 10.11Z" fill="#1a1a1a"/>
<path d="M436.75 8.90L437.25 10.11L438.56 10.21L437.56 11.06L437.87 12.34L436.75 11.65L435.63 12.34L435.94 11.06L434.94 10.21L436.25 10.11Z" fill="#1a1a1a"/>
<line x1="403.50" y1="30.50" x2="439.80" y2="30.50" stroke="#333333" stroke-width="1.25"/>
<path d="M419.25 23.10L419.75 24.31L421.06 24.41L420.06 25.26L420.37 26.54L419.25 25.86L418.13 26.54L418.44 25.26L417.44 24.41L418.75 24.31Z" fill="#1a1a1a"/>
<path d="M422.95 23.10L423.45 24.31L424.76 24.41L423.76 25.26L424.07 26.54L422.95 25.86L421.83 26.54L422.14 25.26L421.14 24.41L422.45 24.31Z" fill="#1a1a1a"/>
<line x1="441.00" y1="72.50" x2="477.30" y2="72.50" stroke="#333333" stroke-width="1.25"/>
<text x="459.00" y="67.70" font-size="8.64" text-anchor="middle" textLength="13.0" lengthAdjust="spacingAndGlyphs">n.s.</text>
<text x="405.80" y="127.10" font-size="8.86" text-anchor="end" transform="rotate(-45 405.80 127.10)" textLength="10.6" lengthAdjust="spacingAndGlyphs">WT</text>
<text x="442.10" y="127.00" font-size="8.86" text-anchor="end" transform="rotate(-45 442.10 127.00)" textLength="19.5" lengthAdjust="spacingAndGlyphs">K3KO</text>
<text x="479.20" y="126.80" font-size="8.86" text-anchor="end" transform="rotate(-45 479.20 126.80)" textLength="21.8" lengthAdjust="spacingAndGlyphs">β2 KO</text>
<rect x="393.30" y="201.76" width="24.60" height="72.04" fill="#a3002a"/>
<line x1="405.60" y1="194.60" x2="405.60" y2="202.26" stroke="#111" stroke-width="1.0"/>
<line x1="399.15" y1="194.60" x2="412.05" y2="194.60" stroke="#111" stroke-width="1.1"/>
<circle cx="405.40" cy="188.10" r="1.8" fill="#000"/>
<circle cx="405.40" cy="193.80" r="1.8" fill="#000"/>
<circle cx="401.90" cy="197.70" r="1.8" fill="#000"/>
<circle cx="408.80" cy="201.50" r="1.8" fill="#000"/>
<circle cx="405.40" cy="223.80" r="1.8" fill="#000"/>
<line x1="405.60" y1="273.80" x2="405.60" y2="277.00" stroke="#1c1c1c" stroke-width="1.0"/>
<rect x="432.90" y="230.01" width="24.60" height="43.79" fill="#6ca8dd"/>
<line x1="445.20" y1="226.30" x2="445.20" y2="230.51" stroke="#111" stroke-width="1.0"/>
<line x1="439.15" y1="226.30" x2="451.25" y2="226.30" stroke="#111" stroke-width="1.1"/>
<rect x="436.25" y="218.95" width="3.30" height="3.30" fill="#000"/>
<rect x="443.35" y="222.35" width="3.30" height="3.30" fill="#000"/>
<rect x="436.25" y="232.05" width="3.30" height="3.30" fill="#000"/>
<rect x="443.35" y="231.05" width="3.30" height="3.30" fill="#000"/>
<rect x="450.65" y="232.05" width="3.30" height="3.30" fill="#000"/>
<line x1="445.20" y1="273.80" x2="445.20" y2="277.00" stroke="#1c1c1c" stroke-width="1.0"/>
<rect x="472.30" y="261.94" width="25.00" height="11.87" fill="#68a642"/>
<line x1="484.80" y1="256.70" x2="484.80" y2="262.44" stroke="#111" stroke-width="1.0"/>
<line x1="478.55" y1="256.70" x2="491.05" y2="256.70" stroke="#111" stroke-width="1.1"/>
<path d="M481.50 254.86L483.45 258.26L479.55 258.26Z"/>
<path d="M488.30 254.86L490.25 258.26L486.35 258.26Z"/>
<path d="M484.80 268.16L486.75 271.56L482.85 271.56Z"/>
<line x1="484.80" y1="273.80" x2="484.80" y2="277.00" stroke="#1c1c1c" stroke-width="1.0"/>
<line x1="379.40" y1="186.00" x2="379.40" y2="274.40" stroke="#111" stroke-width="1.4"/>
<line x1="378.80" y1="273.80" x2="511.30" y2="273.80" stroke="#111" stroke-width="1.4"/>
<line x1="376.00" y1="273.80" x2="379.40" y2="273.80" stroke="#1c1c1c" stroke-width="1.0"/>
<text x="372.60" y="276.80" font-size="8.96" text-anchor="end" textLength="4.6" lengthAdjust="spacingAndGlyphs">0</text>
<line x1="376.00" y1="245.55" x2="379.40" y2="245.55" stroke="#1c1c1c" stroke-width="1.0"/>
<text x="372.60" y="248.55" font-size="8.96" text-anchor="end" textLength="13.9" lengthAdjust="spacingAndGlyphs">100</text>
<line x1="376.00" y1="217.30" x2="379.40" y2="217.30" stroke="#1c1c1c" stroke-width="1.0"/>
<text x="372.60" y="220.30" font-size="8.96" text-anchor="end" textLength="13.9" lengthAdjust="spacingAndGlyphs">200</text>
<line x1="376.00" y1="189.05" x2="379.40" y2="189.05" stroke="#1c1c1c" stroke-width="1.0"/>
<text x="372.60" y="192.05" font-size="8.96" text-anchor="end" textLength="13.9" lengthAdjust="spacingAndGlyphs">300</text>
<text x="352.90" y="229.70" font-size="9.72" text-anchor="middle" transform="rotate(-90 352.90 229.70)" textLength="22.0" lengthAdjust="spacingAndGlyphs">Δ MFI</text>
<text x="357.70" y="172.70" font-size="8.21" textLength="28.5" lengthAdjust="spacingAndGlyphs">KIM127</text>
<line x1="403.80" y1="169.50" x2="482.90" y2="169.50" stroke="#333333" stroke-width="1.25"/>
<path d="M437.55 161.90L438.05 163.11L439.36 163.21L438.36 164.06L438.67 165.34L437.55 164.65L436.43 165.34L436.74 164.06L435.74 163.21L437.05 163.11Z" fill="#1a1a1a"/>
<path d="M441.25 161.90L441.75 163.11L443.06 163.21L442.06 164.06L442.37 165.34L441.25 164.65L440.13 165.34L440.44 164.06L439.44 163.21L440.75 163.11Z" fill="#1a1a1a"/>
<path d="M444.95 161.90L445.45 163.11L446.76 163.21L445.76 164.06L446.07 165.34L444.95 164.65L443.83 165.34L444.14 164.06L443.14 163.21L444.45 163.11Z" fill="#1a1a1a"/>
<path d="M448.65 161.90L449.15 163.11L450.46 163.21L449.46 164.06L449.77 165.34L448.65 164.65L447.53 165.34L447.84 164.06L446.84 163.21L448.15 163.11Z" fill="#1a1a1a"/>
<line x1="405.40" y1="183.50" x2="441.20" y2="183.50" stroke="#333333" stroke-width="1.25"/>
<path d="M421.15 176.30L421.65 177.51L422.96 177.61L421.96 178.46L422.27 179.74L421.15 179.05L420.03 179.74L420.34 178.46L419.34 177.61L420.65 177.51Z" fill="#1a1a1a"/>
<path d="M424.85 176.30L425.35 177.51L426.66 177.61L425.66 178.46L425.97 179.74L424.85 179.05L423.73 179.74L424.04 178.46L423.04 177.61L424.35 177.51Z" fill="#1a1a1a"/>
<line x1="443.50" y1="217.50" x2="485.00" y2="217.50" stroke="#333333" stroke-width="1.25"/>
<path d="M456.65 211.10L457.15 212.31L458.46 212.41L457.46 213.26L457.77 214.54L456.65 213.85L455.53 214.54L455.84 213.26L454.84 212.41L456.15 212.31Z" fill="#1a1a1a"/>
<path d="M460.35 211.10L460.85 212.31L462.16 212.41L461.16 213.26L461.47 214.54L460.35 213.85L459.23 214.54L459.54 213.26L458.54 212.41L459.85 212.31Z" fill="#1a1a1a"/>
<text x="408.10" y="286.80" font-size="8.86" text-anchor="end" transform="rotate(-45 408.10 286.80)" textLength="10.6" lengthAdjust="spacingAndGlyphs">WT</text>
<text x="447.80" y="286.80" font-size="8.86" text-anchor="end" transform="rotate(-45 447.80 286.80)" textLength="19.5" lengthAdjust="spacingAndGlyphs">K3KO</text>
<text x="487.00" y="286.80" font-size="8.86" text-anchor="end" transform="rotate(-45 487.00 286.80)" textLength="21.8" lengthAdjust="spacingAndGlyphs">β2 KO</text>
<rect x="203.50" y="404.92" width="23.00" height="36.08" fill="#a3002a"/>
<line x1="215.00" y1="398.30" x2="215.00" y2="405.42" stroke="#111" stroke-width="1.0"/>
<line x1="208.60" y1="398.30" x2="221.40" y2="398.30" stroke="#111" stroke-width="1.1"/>
<line x1="215.00" y1="404.92" x2="215.00" y2="409.40" stroke="#111" stroke-width="1.0"/>
<line x1="208.60" y1="409.40" x2="221.40" y2="409.40" stroke="#111" stroke-width="1.1"/>
<circle cx="206.70" cy="386.00" r="1.8" fill="#000"/>
<circle cx="215.00" cy="382.50" r="1.8" fill="#000"/>
<circle cx="223.10" cy="379.00" r="1.8" fill="#000"/>
<circle cx="215.00" cy="396.30" r="1.8" fill="#000"/>
<circle cx="223.10" cy="393.10" r="1.8" fill="#000"/>
<circle cx="215.00" cy="413.80" r="1.8" fill="#000"/>
<circle cx="206.70" cy="418.50" r="1.8" fill="#000"/>
<circle cx="215.00" cy="420.60" r="1.8" fill="#000"/>
<circle cx="223.10" cy="420.60" r="1.8" fill="#000"/>
<circle cx="215.00" cy="427.30" r="1.8" fill="#000"/>
<line x1="215.00" y1="441.00" x2="215.00" y2="444.20" stroke="#1c1c1c" stroke-width="1.0"/>
<rect x="280.60" y="398.05" width="23.30" height="42.95" fill="#2e4c80"/>
<line x1="292.25" y1="388.40" x2="292.25" y2="398.55" stroke="#111" stroke-width="1.0"/>
<line x1="285.90" y1="388.40" x2="298.60" y2="388.40" stroke="#111" stroke-width="1.1"/>
<line x1="292.25" y1="398.05" x2="292.25" y2="406.20" stroke="#111" stroke-width="1.0"/>
<line x1="285.90" y1="406.20" x2="298.60" y2="406.20" stroke="#111" stroke-width="1.1"/>
<path d="M292.30 353.56L294.25 356.96L290.35 356.96Z"/>
<path d="M292.30 362.26L294.25 365.66L290.35 365.66Z"/>
<path d="M292.30 391.46L294.25 394.86L290.35 394.86Z"/>
<path d="M288.00 405.46L289.95 408.86L286.05 408.86Z"/>
<path d="M288.30 413.86L290.25 417.26L286.35 417.26Z"/>
<path d="M296.40 413.86L298.35 417.26L294.45 417.26Z"/>
<path d="M292.30 418.96L294.25 422.36L290.35 422.36Z"/>
<line x1="292.25" y1="441.00" x2="292.25" y2="444.20" stroke="#1c1c1c" stroke-width="1.0"/>
<line x1="188.90" y1="334.80" x2="188.90" y2="441.60" stroke="#111" stroke-width="1.4"/>
<line x1="188.30" y1="441.00" x2="317.70" y2="441.00" stroke="#111" stroke-width="1.4"/>
<line x1="185.50" y1="441.00" x2="188.90" y2="441.00" stroke="#1c1c1c" stroke-width="1.0"/>
<text x="182.70" y="444.00" font-size="8.96" text-anchor="end" textLength="4.2" lengthAdjust="spacingAndGlyphs">0</text>
<line x1="185.50" y1="406.64" x2="188.90" y2="406.64" stroke="#1c1c1c" stroke-width="1.0"/>
<text x="182.70" y="409.64" font-size="8.96" text-anchor="end" textLength="8.7" lengthAdjust="spacingAndGlyphs">20</text>
<line x1="185.50" y1="372.28" x2="188.90" y2="372.28" stroke="#1c1c1c" stroke-width="1.0"/>
<text x="182.70" y="375.28" font-size="8.96" text-anchor="end" textLength="8.7" lengthAdjust="spacingAndGlyphs">40</text>
<line x1="185.50" y1="337.92" x2="188.90" y2="337.92" stroke="#1c1c1c" stroke-width="1.0"/>
<text x="182.70" y="340.92" font-size="8.96" text-anchor="end" textLength="8.7" lengthAdjust="spacingAndGlyphs">60</text>
<text x="168.40" y="388.00" font-size="10.37" text-anchor="middle" transform="rotate(-90 168.40 388.00)" textLength="62.3" lengthAdjust="spacingAndGlyphs"># of arrested cells</text>
<line x1="215.80" y1="338.50" x2="294.40" y2="338.50" stroke="#333333" stroke-width="1.25"/>
<text x="255.00" y="333.30" font-size="8.64" text-anchor="middle" textLength="13.0" lengthAdjust="spacingAndGlyphs">n.s.</text>
<line x1="215.80" y1="349.50" x2="251.90" y2="349.50" stroke="#333333" stroke-width="1.25"/>
<path d="M229.30 342.50L229.80 343.71L231.11 343.81L230.11 344.66L230.42 345.94L229.30 345.25L228.18 345.94L228.49 344.66L227.49 343.81L228.80 343.71Z" fill="#1a1a1a"/>
<path d="M233.00 342.50L233.50 343.71L234.81 343.81L233.81 344.66L234.12 345.94L233.00 345.25L231.88 345.94L232.19 344.66L231.19 343.81L232.50 343.71Z" fill="#1a1a1a"/>
<path d="M236.70 342.50L237.20 343.71L238.51 343.81L237.51 344.66L237.82 345.94L236.70 345.25L235.58 345.94L235.89 344.66L234.89 343.81L236.20 343.71Z" fill="#1a1a1a"/>
<line x1="256.90" y1="349.50" x2="294.40" y2="349.50" stroke="#333333" stroke-width="1.25"/>
<path d="M270.45 342.50L270.95 343.71L272.26 343.81L271.26 344.66L271.57 345.94L270.45 345.25L269.33 345.94L269.64 344.66L268.64 343.81L269.95 343.71Z" fill="#1a1a1a"/>
<path d="M274.15 342.50L274.65 343.71L275.96 343.81L274.96 344.66L275.27 345.94L274.15 345.25L273.03 345.94L273.34 344.66L272.34 343.81L273.65 343.71Z" fill="#1a1a1a"/>
<path d="M277.85 342.50L278.35 343.71L279.66 343.81L278.66 344.66L278.97 345.94L277.85 345.25L276.73 345.94L277.04 344.66L276.04 343.81L277.35 343.71Z" fill="#1a1a1a"/>
<path d="M281.55 342.50L282.05 343.71L283.36 343.81L282.36 344.66L282.67 345.94L281.55 345.25L280.43 345.94L280.74 344.66L279.74 343.81L281.05 343.71Z" fill="#1a1a1a"/>
<text x="216.60" y="453.70" font-size="8.64" text-anchor="end" transform="rotate(-45 216.60 453.70)" textLength="11.0" lengthAdjust="spacingAndGlyphs">WT</text>
<text x="255.60" y="453.70" font-size="8.64" text-anchor="end" transform="rotate(-45 255.60 453.70)" textLength="19.5" lengthAdjust="spacingAndGlyphs">K3KO</text>
<text x="295.20" y="453.70" font-size="8.64" text-anchor="end" transform="rotate(-45 295.20 453.70)" textLength="54.0" lengthAdjust="spacingAndGlyphs">K3KO_EGFP-K3</text>
<rect x="240.90" y="439.40" width="3.20" height="3.20" fill="#000"/>
<rect x="242.90" y="438.90" width="3.20" height="3.20" fill="#000"/>
<rect x="243.80" y="435.20" width="3.20" height="3.20" fill="#000"/>
<rect x="245.40" y="439.40" width="3.20" height="3.20" fill="#000"/>
<rect x="247.40" y="439.20" width="3.20" height="3.20" fill="#000"/>
<rect x="249.40" y="436.90" width="3.20" height="3.20" fill="#000"/>
<rect x="250.90" y="439.40" width="3.20" height="3.20" fill="#000"/>
<rect x="252.90" y="439.40" width="3.20" height="3.20" fill="#000"/>
<rect x="254.90" y="439.40" width="3.20" height="3.20" fill="#000"/>
<rect x="256.90" y="439.40" width="3.20" height="3.20" fill="#000"/>
<rect x="258.90" y="439.40" width="3.20" height="3.20" fill="#000"/>
<rect x="260.90" y="439.40" width="3.20" height="3.20" fill="#000"/>
<rect x="263.20" y="439.40" width="3.20" height="3.20" fill="#000"/>
<line x1="253.50" y1="441.00" x2="253.50" y2="444.20" stroke="#1c1c1c" stroke-width="1.0"/>
<rect x="388.90" y="392.58" width="16.50" height="38.62" fill="#a3002a"/>
<line x1="397.15" y1="385.80" x2="397.15" y2="393.08" stroke="#111" stroke-width="1.0"/>
<line x1="392.45" y1="385.80" x2="401.85" y2="385.80" stroke="#111" stroke-width="1.1"/>
<circle cx="396.90" cy="384.60" r="1.8" fill="#000"/>
<circle cx="393.80" cy="396.70" r="1.8" fill="#000"/>
<circle cx="400.50" cy="394.60" r="1.8" fill="#000"/>
<line x1="397.15" y1="431.20" x2="397.15" y2="434.40" stroke="#1c1c1c" stroke-width="1.0"/>
<rect x="416.20" y="420.28" width="16.50" height="10.92" fill="#6ca8dd"/>
<line x1="424.45" y1="418.70" x2="424.45" y2="420.78" stroke="#111" stroke-width="1.0"/>
<line x1="420.95" y1="418.70" x2="427.95" y2="418.70" stroke="#111" stroke-width="1.1"/>
<rect x="419.55" y="415.65" width="3.30" height="3.30" fill="#000"/>
<rect x="426.15" y="417.85" width="3.30" height="3.30" fill="#000"/>
<rect x="419.55" y="419.75" width="3.30" height="3.30" fill="#000"/>
<line x1="424.45" y1="431.20" x2="424.45" y2="434.40" stroke="#1c1c1c" stroke-width="1.0"/>
<rect x="443.30" y="414.69" width="16.80" height="16.51" fill="#68a642"/>
<line x1="451.70" y1="409.80" x2="451.70" y2="415.19" stroke="#111" stroke-width="1.0"/>
<line x1="447.05" y1="409.80" x2="456.35" y2="409.80" stroke="#111" stroke-width="1.1"/>
<path d="M451.90 405.76L453.85 409.16L449.95 409.16Z"/>
<path d="M444.40 413.96L446.35 417.36L442.45 417.36Z"/>
<path d="M459.80 413.96L461.75 417.36L457.85 417.36Z"/>
<line x1="451.70" y1="431.20" x2="451.70" y2="434.40" stroke="#1c1c1c" stroke-width="1.0"/>
<rect x="471.10" y="382.19" width="16.50" height="49.01" fill="#2e4c80"/>
<line x1="479.35" y1="374.20" x2="479.35" y2="382.69" stroke="#111" stroke-width="1.0"/>
<line x1="474.95" y1="374.20" x2="483.75" y2="374.20" stroke="#111" stroke-width="1.1"/>
<path d="M476.50 376.24L478.45 372.84L474.55 372.84Z"/>
<path d="M482.20 376.24L484.15 372.84L480.25 372.84Z"/>
<path d="M479.20 384.74L481.15 381.34L477.25 381.34Z"/>
<path d="M479.20 388.24L481.15 384.84L477.25 384.84Z"/>
<path d="M479.20 391.64L481.15 388.24L477.25 388.24Z"/>
<line x1="479.35" y1="431.20" x2="479.35" y2="434.40" stroke="#1c1c1c" stroke-width="1.0"/>
<line x1="379.00" y1="349.40" x2="379.00" y2="431.80" stroke="#111" stroke-width="1.4"/>
<line x1="378.40" y1="431.20" x2="497.40" y2="431.20" stroke="#111" stroke-width="1.4"/>
<line x1="375.60" y1="431.20" x2="379.00" y2="431.20" stroke="#1c1c1c" stroke-width="1.0"/>
<text x="371.60" y="434.20" font-size="8.96" text-anchor="end" textLength="4.6" lengthAdjust="spacingAndGlyphs">0</text>
<line x1="375.60" y1="404.56" x2="379.00" y2="404.56" stroke="#1c1c1c" stroke-width="1.0"/>
<text x="371.60" y="407.56" font-size="8.96" text-anchor="end" textLength="13.9" lengthAdjust="spacingAndGlyphs">500</text>
<line x1="375.60" y1="377.93" x2="379.00" y2="377.93" stroke="#1c1c1c" stroke-width="1.0"/>
<text x="371.60" y="380.93" font-size="8.96" text-anchor="end" textLength="18.3" lengthAdjust="spacingAndGlyphs">1000</text>
<line x1="375.60" y1="351.29" x2="379.00" y2="351.29" stroke="#1c1c1c" stroke-width="1.0"/>
<text x="371.60" y="354.29" font-size="8.96" text-anchor="end" textLength="18.3" lengthAdjust="spacingAndGlyphs">1500</text>
<text x="347.50" y="390.20" font-size="9.72" text-anchor="middle" transform="rotate(-90 347.50 390.20)" textLength="22.5" lengthAdjust="spacingAndGlyphs">Δ MFI</text>
<text x="356.50" y="341.20" font-size="7.88" textLength="27.6" lengthAdjust="spacingAndGlyphs">mAb24</text>
<line x1="397.30" y1="358.50" x2="450.40" y2="358.50" stroke="#333333" stroke-width="1.25"/>
<path d="M423.15 351.10L423.65 352.31L424.96 352.41L423.96 353.26L424.27 354.54L423.15 353.86L422.03 354.54L422.34 353.26L421.34 352.41L422.65 352.31Z" fill="#1a1a1a"/>
<path d="M426.85 351.10L427.35 352.31L428.66 352.41L427.66 353.26L427.97 354.54L426.85 353.86L425.73 354.54L426.04 353.26L425.04 352.41L426.35 352.31Z" fill="#1a1a1a"/>
<line x1="425.50" y1="369.50" x2="478.80" y2="369.50" stroke="#333333" stroke-width="1.25"/>
<path d="M446.45 363.30L446.95 364.51L448.26 364.61L447.26 365.46L447.57 366.74L446.45 366.06L445.33 366.74L445.64 365.46L444.64 364.61L445.95 364.51Z" fill="#1a1a1a"/>
<path d="M450.15 363.30L450.65 364.51L451.96 364.61L450.96 365.46L451.27 366.74L450.15 366.06L449.03 366.74L449.34 365.46L448.34 364.61L449.65 364.51Z" fill="#1a1a1a"/>
<path d="M453.85 363.30L454.35 364.51L455.66 364.61L454.66 365.46L454.97 366.74L453.85 366.06L452.73 366.74L453.04 365.46L452.04 364.61L453.35 364.51Z" fill="#1a1a1a"/>
<path d="M457.55 363.30L458.05 364.51L459.36 364.61L458.36 365.46L458.67 366.74L457.55 366.06L456.43 366.74L456.74 365.46L455.74 364.61L457.05 364.51Z" fill="#1a1a1a"/>
<line x1="397.30" y1="380.50" x2="424.50" y2="380.50" stroke="#333333" stroke-width="1.25"/>
<path d="M407.00 374.90L407.50 376.11L408.81 376.21L407.81 377.06L408.12 378.34L407.00 377.66L405.88 378.34L406.19 377.06L405.19 376.21L406.50 376.11Z" fill="#1a1a1a"/>
<path d="M410.70 374.90L411.20 376.11L412.51 376.21L411.51 377.06L411.82 378.34L410.70 377.66L409.58 378.34L409.89 377.06L408.89 376.21L410.20 376.11Z" fill="#1a1a1a"/>
<path d="M414.40 374.90L414.90 376.11L416.21 376.21L415.21 377.06L415.52 378.34L414.40 377.66L413.28 378.34L413.59 377.06L412.59 376.21L413.90 376.11Z" fill="#1a1a1a"/>
<text x="399.80" y="443.90" font-size="8.64" text-anchor="end" transform="rotate(-45 399.80 443.90)" textLength="11.0" lengthAdjust="spacingAndGlyphs">WT</text>
<text x="427.30" y="443.90" font-size="8.64" text-anchor="end" transform="rotate(-45 427.30 443.90)" textLength="19.5" lengthAdjust="spacingAndGlyphs">K3KO</text>
<text x="452.90" y="442.60" font-size="8.64" text-anchor="end" transform="rotate(-45 452.90 442.60)" textLength="57.5" lengthAdjust="spacingAndGlyphs">K3KO_K3-EGFP</text>
<text x="482.50" y="442.60" font-size="8.64" text-anchor="end" transform="rotate(-45 482.50 442.60)" textLength="59.5" lengthAdjust="spacingAndGlyphs">K3KO_EGFP-K3</text>
<rect x="388.70" y="545.50" width="16.30" height="53.10" fill="#a3002a"/>
<line x1="396.85" y1="532.90" x2="396.85" y2="546.00" stroke="#111" stroke-width="1.0"/>
<line x1="392.35" y1="532.90" x2="401.35" y2="532.90" stroke="#111" stroke-width="1.1"/>
<circle cx="396.70" cy="532.10" r="1.8" fill="#000"/>
<circle cx="396.70" cy="546.50" r="1.8" fill="#000"/>
<circle cx="396.70" cy="556.00" r="1.8" fill="#000"/>
<line x1="396.85" y1="598.60" x2="396.85" y2="601.80" stroke="#1c1c1c" stroke-width="1.0"/>
<rect x="415.10" y="577.88" width="16.60" height="20.72" fill="#6ca8dd"/>
<line x1="423.40" y1="569.40" x2="423.40" y2="578.38" stroke="#111" stroke-width="1.0"/>
<line x1="418.55" y1="569.40" x2="428.25" y2="569.40" stroke="#111" stroke-width="1.1"/>
<rect x="422.05" y="570.25" width="3.30" height="3.30" fill="#000"/>
<rect x="422.05" y="572.55" width="3.30" height="3.30" fill="#000"/>
<rect x="422.05" y="584.15" width="3.30" height="3.30" fill="#000"/>
<line x1="423.40" y1="598.60" x2="423.40" y2="601.80" stroke="#1c1c1c" stroke-width="1.0"/>
<rect x="442.00" y="561.82" width="16.80" height="36.78" fill="#68a642"/>
<line x1="450.40" y1="556.50" x2="450.40" y2="562.32" stroke="#111" stroke-width="1.0"/>
<line x1="445.60" y1="556.50" x2="455.20" y2="556.50" stroke="#111" stroke-width="1.1"/>
<path d="M450.40 553.56L452.35 556.96L448.45 556.96Z"/>
<path d="M447.50 559.26L449.45 562.66L445.55 562.66Z"/>
<path d="M454.00 560.66L455.95 564.06L452.05 564.06Z"/>
<path d="M447.50 564.16L449.45 567.56L445.55 567.56Z"/>
<line x1="450.40" y1="598.60" x2="450.40" y2="601.80" stroke="#1c1c1c" stroke-width="1.0"/>
<rect x="468.90" y="547.32" width="16.40" height="51.28" fill="#2e4c80"/>
<line x1="477.10" y1="535.80" x2="477.10" y2="547.82" stroke="#111" stroke-width="1.0"/>
<line x1="472.30" y1="535.80" x2="481.90" y2="535.80" stroke="#111" stroke-width="1.1"/>
<path d="M477.10 532.24L479.05 528.84L475.15 528.84Z"/>
<path d="M477.10 541.24L479.05 537.84L475.15 537.84Z"/>
<path d="M477.10 553.74L479.05 550.34L475.15 550.34Z"/>
<path d="M470.00 555.74L471.95 552.34L468.05 552.34Z"/>
<path d="M484.40 555.74L486.35 552.34L482.45 552.34Z"/>
<line x1="477.10" y1="598.60" x2="477.10" y2="601.80" stroke="#1c1c1c" stroke-width="1.0"/>
<line x1="378.70" y1="518.50" x2="378.70" y2="599.20" stroke="#111" stroke-width="1.4"/>
<line x1="378.10" y1="598.60" x2="494.80" y2="598.60" stroke="#111" stroke-width="1.4"/>
<line x1="375.30" y1="598.60" x2="378.70" y2="598.60" stroke="#1c1c1c" stroke-width="1.0"/>
<text x="371.60" y="601.60" font-size="8.96" text-anchor="end" textLength="4.6" lengthAdjust="spacingAndGlyphs">0</text>
<line x1="375.30" y1="572.70" x2="378.70" y2="572.70" stroke="#1c1c1c" stroke-width="1.0"/>
<text x="371.60" y="575.70" font-size="8.96" text-anchor="end" textLength="13.9" lengthAdjust="spacingAndGlyphs">500</text>
<line x1="375.30" y1="546.80" x2="378.70" y2="546.80" stroke="#1c1c1c" stroke-width="1.0"/>
<text x="371.60" y="549.80" font-size="8.96" text-anchor="end" textLength="18.3" lengthAdjust="spacingAndGlyphs">1000</text>
<line x1="375.30" y1="520.90" x2="378.70" y2="520.90" stroke="#1c1c1c" stroke-width="1.0"/>
<text x="371.60" y="523.90" font-size="8.96" text-anchor="end" textLength="18.3" lengthAdjust="spacingAndGlyphs">1500</text>
<text x="348.00" y="558.00" font-size="9.72" text-anchor="middle" transform="rotate(-90 348.00 558.00)" textLength="22.5" lengthAdjust="spacingAndGlyphs">Δ MFI</text>
<text x="354.00" y="511.30" font-size="8.21" textLength="28.3" lengthAdjust="spacingAndGlyphs">KIM127</text>
<line x1="396.90" y1="525.50" x2="423.30" y2="525.50" stroke="#333333" stroke-width="1.25"/>
<path d="M407.95 519.90L408.45 521.11L409.76 521.21L408.76 522.06L409.07 523.34L407.95 522.66L406.83 523.34L407.14 522.06L406.14 521.21L407.45 521.11Z" fill="#1a1a1a"/>
<path d="M411.65 519.90L412.15 521.11L413.46 521.21L412.46 522.06L412.77 523.34L411.65 522.66L410.53 523.34L410.84 522.06L409.84 521.21L411.15 521.11Z" fill="#1a1a1a"/>
<line x1="427.30" y1="525.50" x2="481.90" y2="525.50" stroke="#333333" stroke-width="1.25"/>
<path d="M452.75 519.90L453.25 521.11L454.56 521.21L453.56 522.06L453.87 523.34L452.75 522.66L451.63 523.34L451.94 522.06L450.94 521.21L452.25 521.11Z" fill="#1a1a1a"/>
<path d="M456.45 519.90L456.95 521.11L458.26 521.21L457.26 522.06L457.57 523.34L456.45 522.66L455.33 523.34L455.64 522.06L454.64 521.21L455.95 521.11Z" fill="#1a1a1a"/>
<text x="399.00" y="611.20" font-size="8.64" text-anchor="end" transform="rotate(-45 399.00 611.20)" textLength="11.0" lengthAdjust="spacingAndGlyphs">WT</text>
<text x="426.00" y="611.20" font-size="8.64" text-anchor="end" transform="rotate(-45 426.00 611.20)" textLength="19.5" lengthAdjust="spacingAndGlyphs">K3KO</text>
<text x="451.50" y="610.40" font-size="8.64" text-anchor="end" transform="rotate(-45 451.50 610.40)" textLength="57.5" lengthAdjust="spacingAndGlyphs">K3KO_K3-EGFP</text>
<text x="479.80" y="610.40" font-size="8.64" text-anchor="end" transform="rotate(-45 479.80 610.40)" textLength="59.5" lengthAdjust="spacingAndGlyphs">K3KO_EGFP-K3</text>
<text x="56.20" y="336.60" font-size="8.53" textLength="32.6" lengthAdjust="spacingAndGlyphs">EGFP-K3</text>
<text x="53.60" y="444.00" font-size="8.53" textLength="38.5" lengthAdjust="spacingAndGlyphs">TagRFP-K3</text>
<defs>
<filter id="texG" x="0" y="0" width="1" height="1">
 <feGaussianBlur in="SourceGraphic" stdDeviation="0.65" result="b"/>
 <feTurbulence type="fractalNoise" baseFrequency="0.6" numOctaves="2" seed="9" result="n"/>
 <feColorMatrix in="n" type="matrix" values="1 0 0 0 0  1 0 0 0 0  1 0 0 0 0  0 0 0 0 1" result="n2"/>
 <feComposite in="b" in2="n2" operator="arithmetic" k1="1.4" k2="0.3" k3="0" k4="0"/>
</filter>
<filter id="texR" x="0" y="0" width="1" height="1">
 <feGaussianBlur in="SourceGraphic" stdDeviation="0.55" result="b"/>
 <feTurbulence type="fractalNoise" baseFrequency="0.9" numOctaves="2" seed="4" result="n"/>
 <feColorMatrix in="n" type="matrix" values="1 0 0 0 0  1 0 0 0 0  1 0 0 0 0  0 0 0 0 1" result="n2"/>
 <feComposite in="b" in2="n2" operator="arithmetic" k1="1.7" k2="0.15" k3="0" k4="0"/>
</filter>
<filter id="glow" x="-30%" y="-30%" width="160%" height="160%"><feGaussianBlur stdDeviation="1.3"/></filter>
</defs>
<clipPath id="cG"><rect x="20.8" y="345.6" width="112.5" height="84.1"/></clipPath><clipPath id="cR"><rect x="20" y="450.1" width="112.8" height="83.8"/></clipPath>
<g clip-path="url(#cG)"><g filter="url(#texG)">
<rect x="20.80" y="345.60" width="112.50" height="84.10" fill="#0e110c"/>
<ellipse cx="27" cy="408" rx="6" ry="11" fill="#0f150d" opacity="0.8"/>
<ellipse cx="92" cy="428" rx="10" ry="4" fill="#0f160d" opacity="0.8"/>
<ellipse cx="66.7" cy="372.8" rx="15.5" ry="14.700000000000001" fill="#245e1a" filter="url(#glow)"/>
<ellipse cx="95.35" cy="393.65" rx="14.55" ry="13.850000000000001" fill="#245e1a" filter="url(#glow)"/>
<ellipse cx="50.7" cy="404.8" rx="14.200000000000001" ry="14.600000000000001" fill="#245e1a" filter="url(#glow)"/>
<ellipse cx="66.7" cy="372.8" rx="14.5" ry="13.7" fill="#52bd3a"/>
<ellipse cx="66.9" cy="373" rx="11.2" ry="10.4" fill="#49a834"/>
<ellipse cx="59" cy="372" rx="3.5" ry="7" fill="#4aa836" filter="url(#bl2)"/>
<path d="M62.6 363.2 L71.6 363.2 Q77.8 366 78.2 373 Q77.6 380 74.4 382.2 Q70.5 385 66.2 384.5 Z" fill="#0f180d"/>
<ellipse cx="95.35" cy="393.65" rx="13.55" ry="12.85" fill="#52bd3a"/>
<ellipse cx="97" cy="394" rx="10" ry="10.2" fill="#45a232"/>
<path d="M83.9 394 Q84.2 384.6 91 384.3 Q96 384.1 97.6 385 Q97.8 390 100.5 395 Q99.8 402.5 95 404.4 Q85.6 405.8 83.9 394Z" fill="#0f180d"/>
<ellipse cx="50.7" cy="404.8" rx="13.2" ry="13.6" fill="#52bd3a"/>
<ellipse cx="50.6" cy="405.3" rx="9.4" ry="9.0" fill="#1a2c14"/>
</g></g>
<line x1="103.70" y1="426.40" x2="127.90" y2="426.40" stroke="#ffffff" stroke-width="2.0"/>
<g clip-path="url(#cR)"><g filter="url(#texR)">
<rect x="20.00" y="450.10" width="112.80" height="83.80" fill="#171010"/>
<ellipse cx="42" cy="451" rx="10" ry="3" fill="#220c0b"/>
<ellipse cx="91" cy="477.9" rx="17.6" ry="17.0" fill="#6a0c0e" filter="url(#glow)"/>
<ellipse cx="45.6" cy="506.1" rx="17.3" ry="16.3" fill="#5a0a0c" filter="url(#glow)"/>
<ellipse cx="109.6" cy="508.2" rx="15.5" ry="15.5" fill="#8a0c10" filter="url(#glow)"/>
<ellipse cx="91" cy="477.9" rx="16.8" ry="16.2" fill="#b0141a"/>
<ellipse cx="90.6" cy="478.1" rx="12.6" ry="12.3" fill="#1d1010"/>
<ellipse cx="45.6" cy="506.1" rx="16.5" ry="15.5" fill="#9a1016"/>
<ellipse cx="44.6" cy="506.1" rx="13.6" ry="13.2" fill="#1d1010"/>
<ellipse cx="109.6" cy="508.2" rx="14.8" ry="14.8" fill="#f2161c"/>
<ellipse cx="110.1" cy="508" rx="9.6" ry="9.8" fill="#2a0f0f"/>
</g></g>
<line x1="102.90" y1="530.40" x2="126.90" y2="530.40" stroke="#ffffff" stroke-width="2.0"/>
</svg>
<div class="frame"></div>
</body></html>
